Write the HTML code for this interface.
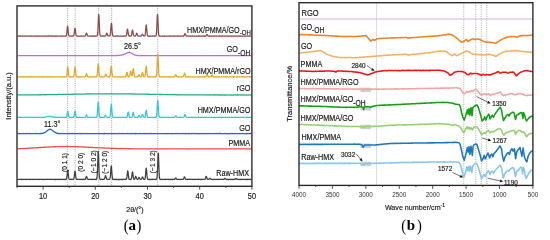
<!DOCTYPE html><html><head><meta charset="utf-8"><style>html,body{margin:0;padding:0;background:#fff;width:550px;height:240px;overflow:hidden}svg{display:block;will-change:transform}</style></head><body>
<svg width="550" height="240" viewBox="0 0 550 240" font-family='&quot;Liberation Sans&quot;, sans-serif'>
<rect width="550" height="240" fill="#fff"/>
<line x1="67.6" y1="5.9" x2="67.6" y2="186.3" stroke="#8c8c8c" stroke-width="0.75" stroke-dasharray="1,1.2"/>
<line x1="75.1" y1="5.9" x2="75.1" y2="186.3" stroke="#8c8c8c" stroke-width="0.75" stroke-dasharray="1,1.2"/>
<line x1="98.7" y1="5.9" x2="98.7" y2="186.3" stroke="#8c8c8c" stroke-width="0.75" stroke-dasharray="1,1.2"/>
<line x1="111.7" y1="5.9" x2="111.7" y2="186.3" stroke="#8c8c8c" stroke-width="0.75" stroke-dasharray="1,1.2"/>
<line x1="157.75" y1="5.9" x2="157.75" y2="186.3" stroke="#8c8c8c" stroke-width="0.75" stroke-dasharray="1,1.2"/>
<path d="M17.5 36.05 L17.75 36 L18 36.15 L18.25 35.97 L18.5 36.11 L18.75 36.06 L19 35.97 L19.25 36.1 L19.5 35.96 L19.75 36.08 L20 35.97 L20.25 35.98 L20.5 36.08 L20.75 36.2 L21 35.99 L21.25 36.02 L21.5 36.14 L21.75 36.23 L22 36.12 L22.25 36.07 L22.5 36.24 L22.75 35.96 L23 36.21 L23.25 36.04 L23.5 35.99 L23.75 35.99 L24 36.04 L24.25 36.19 L24.5 36 L24.75 36.12 L25 36.14 L25.25 36.06 L25.5 36.11 L25.75 35.97 L26 35.97 L26.25 36.01 L26.5 36.15 L26.75 36.08 L27 36.04 L27.25 36.13 L27.5 36.09 L27.75 36.04 L28 36.19 L28.25 36.16 L28.5 36.02 L28.75 36.12 L29 36.11 L29.25 36.21 L29.5 36.17 L29.75 36.04 L30 36.24 L30.25 35.99 L30.5 36.08 L30.75 36.18 L31 36 L31.25 36.1 L31.5 35.96 L31.75 36.15 L32 36.18 L32.25 36.12 L32.5 36.21 L32.75 36.04 L33 36.16 L33.25 36.13 L33.5 36.12 L33.75 36.09 L34 36.2 L34.25 36.23 L34.5 36.09 L34.75 36.15 L35 35.97 L35.25 36.16 L35.5 36.14 L35.75 36.25 L36 36.2 L36.25 36.04 L36.5 36.07 L36.75 36.15 L37 35.96 L37.25 36.09 L37.5 36 L37.75 35.99 L38 35.97 L38.25 36.18 L38.5 35.99 L38.75 36.02 L39 36.07 L39.25 36.21 L39.5 35.97 L39.75 36.08 L40 36.11 L40.25 36.22 L40.5 36.2 L40.75 36.21 L41 36.03 L41.25 36.07 L41.5 36.06 L41.75 36.22 L42 36.24 L42.25 36 L42.5 36 L42.75 36.02 L43 36.02 L43.25 36.1 L43.5 36.13 L43.75 36.03 L44 35.95 L44.25 36.08 L44.5 36.06 L44.75 36.12 L45 36.24 L45.25 36.16 L45.5 36.1 L45.75 36.14 L46 36.15 L46.25 35.97 L46.5 36.22 L46.75 36.18 L47 36.21 L47.25 36.19 L47.5 36.07 L47.75 36.07 L48 35.98 L48.25 36.14 L48.5 35.97 L48.75 35.97 L49 36.01 L49.25 36 L49.5 36.05 L49.75 35.97 L50 35.95 L50.25 36 L50.5 35.98 L50.75 36.06 L51 35.96 L51.25 36.21 L51.5 36.13 L51.75 35.99 L52 36.03 L52.25 36.05 L52.5 36.06 L52.75 35.99 L53 36.2 L53.25 36.25 L53.5 36.09 L53.75 36.1 L54 35.98 L54.25 35.98 L54.5 36.05 L54.75 36.03 L55 36.2 L55.25 36 L55.5 35.96 L55.75 36.24 L56 36.11 L56.25 35.99 L56.5 36.11 L56.75 35.96 L57 36.11 L57.25 36.24 L57.5 36.21 L57.75 36.16 L58 36.03 L58.25 36.06 L58.5 36 L58.75 36.18 L59 36.11 L59.25 36.18 L59.5 36.05 L59.75 36.02 L60 36.19 L60.25 36.25 L60.5 36.21 L60.75 36.19 L61 36.2 L61.25 36.17 L61.5 36.02 L61.75 36.11 L62 36.06 L62.25 35.96 L62.5 35.96 L62.75 36.03 L63 36.03 L63.25 36.16 L63.5 36.24 L63.75 36.08 L64 36.23 L64.25 36.25 L64.5 36.24 L64.75 36.06 L65 36.02 L65.25 36.02 L65.5 36.01 L65.75 35.99 L66 36.03 L66.25 35.83 L66.5 35.04 L66.75 33.33 L67 30.87 L67.25 28.15 L67.5 26.15 L67.75 26.54 L68 28.7 L68.25 31.47 L68.5 33.81 L68.75 35.14 L69 35.7 L69.25 36.11 L69.5 36.03 L69.75 36.19 L70 36.24 L70.25 36.07 L70.5 36.07 L70.75 36.23 L71 36.17 L71.25 36 L71.5 35.99 L71.75 36 L72 36.22 L72.25 36.19 L72.5 35.99 L72.75 36.2 L73 36.24 L73.25 36.11 L73.5 35.91 L73.75 35.62 L74 34.64 L74.25 33.01 L74.5 31.11 L74.75 28.99 L75 28.11 L75.25 29.07 L75.5 30.95 L75.75 33.27 L76 34.85 L76.25 35.52 L76.5 35.88 L76.75 36 L77 36.02 L77.25 36.12 L77.5 36.03 L77.75 36.08 L78 35.99 L78.25 36.22 L78.5 36.06 L78.75 36.09 L79 36.13 L79.25 36.22 L79.5 36.08 L79.75 36.23 L80 36.1 L80.25 36.11 L80.5 36.11 L80.75 35.96 L81 36.08 L81.25 36 L81.5 35.95 L81.75 36.19 L82 36 L82.25 36.09 L82.5 36.17 L82.75 36.12 L83 36.05 L83.25 36.11 L83.5 36.12 L83.75 36.19 L84 35.98 L84.25 36.12 L84.5 36.02 L84.75 36.02 L85 36.13 L85.25 35.92 L85.5 35.61 L85.75 35.07 L86 34.3 L86.25 33.4 L86.5 33.13 L86.75 33.42 L87 34.18 L87.25 35.05 L87.5 35.58 L87.75 35.92 L88 36.04 L88.25 36.22 L88.5 36.16 L88.75 36.21 L89 36.23 L89.25 36.03 L89.5 36.12 L89.75 36.23 L90 36.2 L90.25 35.99 L90.5 35.99 L90.75 36.08 L91 35.97 L91.25 36.02 L91.5 35.97 L91.75 36.15 L92 36.19 L92.25 36.22 L92.5 36 L92.75 36.16 L93 36.15 L93.25 35.99 L93.5 36.21 L93.75 36.24 L94 36.02 L94.25 36.24 L94.5 36.07 L94.75 36.1 L95 36.25 L95.25 36.2 L95.5 36 L95.75 36.08 L96 36.1 L96.25 36.05 L96.5 36.01 L96.75 36.03 L97 36.07 L97.25 35.56 L97.5 34.76 L97.75 32.41 L98 27.95 L98.25 22.1 L98.5 16.67 L98.75 14.35 L99 16.51 L99.25 22.3 L99.5 28.19 L99.75 32.57 L100 34.63 L100.25 35.63 L100.5 35.87 L100.75 36.17 L101 36.03 L101.25 35.99 L101.5 36.08 L101.75 36.22 L102 36.2 L102.25 36.03 L102.5 35.99 L102.75 36.23 L103 36.12 L103.25 36.16 L103.5 35.98 L103.75 35.97 L104 36.16 L104.25 36.08 L104.5 35.97 L104.75 36.23 L105 36.13 L105.25 36.14 L105.5 35.79 L105.75 35.7 L106 34.87 L106.25 34.29 L106.5 33.4 L106.75 33.05 L107 33.43 L107.25 34.3 L107.5 34.93 L107.75 35.48 L108 35.92 L108.25 35.97 L108.5 35.97 L108.75 36 L109 35.96 L109.25 36.01 L109.5 36.02 L109.75 35.94 L110 35.78 L110.25 34.81 L110.5 33.04 L110.75 29.92 L111 26.35 L111.25 23.56 L111.5 23.35 L111.75 25.58 L112 29.37 L112.25 32.54 L112.5 34.51 L112.75 35.59 L113 36.09 L113.25 35.95 L113.5 36.19 L113.75 36.08 L114 36.1 L114.25 36.2 L114.5 36.07 L114.75 36.1 L115 36.16 L115.25 36.24 L115.5 36.05 L115.75 36.2 L116 36.16 L116.25 36.14 L116.5 36.07 L116.75 36.05 L117 35.97 L117.25 35.99 L117.5 35.97 L117.75 36.17 L118 36.03 L118.25 36 L118.5 35.98 L118.75 36.2 L119 36.21 L119.25 36.15 L119.5 36.03 L119.75 36.02 L120 36.04 L120.25 36.09 L120.5 36 L120.75 36.08 L121 36.03 L121.25 36.24 L121.5 36.24 L121.75 36.11 L122 36.02 L122.25 36.24 L122.5 36.04 L122.75 36.06 L123 35.95 L123.25 36.06 L123.5 36.09 L123.75 36.1 L124 36.01 L124.25 36.1 L124.5 35.95 L124.75 36.03 L125 35.98 L125.25 36.07 L125.5 35.96 L125.75 35.93 L126 35.91 L126.25 35.58 L126.5 34.94 L126.75 33.53 L127 31.69 L127.25 29.88 L127.5 29.16 L127.75 29.95 L128 31.58 L128.25 33.47 L128.5 35.06 L128.75 35.56 L129 36.04 L129.25 36.11 L129.5 35.96 L129.75 36.2 L130 36.22 L130.25 36.14 L130.5 36.17 L130.75 36.17 L131 35.88 L131.25 35.72 L131.5 35.04 L131.75 33.9 L132 32.18 L132.25 30.61 L132.5 29.88 L132.75 30.63 L133 32.15 L133.25 33.86 L133.5 34.96 L133.75 35.57 L134 35.88 L134.25 36.03 L134.5 35.98 L134.75 36.2 L135 36.1 L135.25 36.08 L135.5 35.95 L135.75 35.65 L136 34.99 L136.25 34.03 L136.5 33.5 L136.75 33.17 L137 33.42 L137.25 34.19 L137.5 35.04 L137.75 35.46 L138 35.98 L138.25 35.97 L138.5 35.96 L138.75 36.03 L139 36.17 L139.25 36.01 L139.5 36.17 L139.75 36.24 L140 36.1 L140.25 36.06 L140.5 36.09 L140.75 36.15 L141 36.14 L141.25 36.01 L141.5 35.8 L141.75 35.24 L142 34.71 L142.25 34.24 L142.5 34.17 L142.75 34.25 L143 34.84 L143.25 35.22 L143.5 35.63 L143.75 35.91 L144 36.11 L144.25 36.14 L144.5 36.1 L144.75 35.83 L145 35.41 L145.25 34.19 L145.5 31.95 L145.75 28.77 L146 26.15 L146.25 24.76 L146.5 26.18 L146.75 29.02 L147 31.82 L147.25 34.19 L147.5 35.5 L147.75 36.03 L148 36.04 L148.25 36.02 L148.5 36.01 L148.75 36.23 L149 36.01 L149.25 36.12 L149.5 35.99 L149.75 36.11 L150 36.24 L150.25 35.99 L150.5 36.2 L150.75 36.1 L151 36.22 L151.25 36.16 L151.5 36.02 L151.75 36.22 L152 36.1 L152.25 35.96 L152.5 35.95 L152.75 36.1 L153 36.09 L153.25 36.04 L153.5 35.99 L153.75 36.05 L154 36.04 L154.25 36.2 L154.5 35.95 L154.75 36.18 L155 36.2 L155.25 35.98 L155.5 36.21 L155.75 36.07 L156 35.82 L156.25 34.68 L156.5 32.39 L156.75 28.07 L157 22.3 L157.25 16.66 L157.5 14.31 L157.75 16.62 L158 22.09 L158.25 27.96 L158.5 32.3 L158.75 34.85 L159 35.64 L159.25 36.14 L159.5 36.01 L159.75 36.03 L160 36.1 L160.25 36.01 L160.5 36.06 L160.75 36.24 L161 36.22 L161.25 36.19 L161.5 36.14 L161.75 36.22 L162 36.23 L162.25 36.11 L162.5 36.17 L162.75 35.96 L163 36.17 L163.25 36.09 L163.5 36.18 L163.75 36.14 L164 36.04 L164.25 35.96 L164.5 36.23 L164.75 35.99 L165 36.09 L165.25 36.05 L165.5 36.04 L165.75 36.17 L166 36.24 L166.25 36.03 L166.5 36.15 L166.75 36.04 L167 36.12 L167.25 36.07 L167.5 36 L167.75 36 L168 36.01 L168.25 36.22 L168.5 36.1 L168.75 36.02 L169 36.22 L169.25 36.25 L169.5 36.08 L169.75 35.99 L170 36.01 L170.25 35.98 L170.5 36.05 L170.75 35.98 L171 36.02 L171.25 36.03 L171.5 36.12 L171.75 36.22 L172 36.17 L172.25 36.07 L172.5 36.07 L172.75 36.11 L173 36.06 L173.25 36.05 L173.5 35.97 L173.75 36.03 L174 36.24 L174.25 35.99 L174.5 36.1 L174.75 36.14 L175 36.21 L175.25 36.01 L175.5 36.03 L175.75 36.02 L176 36.07 L176.25 36.08 L176.5 36.24 L176.75 36.2 L177 36.21 L177.25 35.96 L177.5 35.96 L177.75 36.16 L178 36.22 L178.25 36.09 L178.5 36.13 L178.75 35.95 L179 36.07 L179.25 36.23 L179.5 36.2 L179.75 36.21 L180 36.24 L180.25 36.02 L180.5 35.98 L180.75 36 L181 36.11 L181.25 36.15 L181.5 36.23 L181.75 36.17 L182 36.14 L182.25 36.18 L182.5 36.09 L182.75 36.12 L183 35.96 L183.25 36.17 L183.5 35.97 L183.75 36.07 L184 35.72 L184.25 35.12 L184.5 34.39 L184.75 33.79 L185 33.64 L185.25 33.92 L185.5 34.38 L185.75 35.05 L186 35.68 L186.25 35.97 L186.5 36.02 L186.75 36.01 L187 36.13 L187.25 35.95 L187.5 36.04 L187.75 36.09 L188 36.24 L188.25 36.14 L188.5 36.22 L188.75 36.09 L189 36.02 L189.25 36.02 L189.5 36.24 L189.75 36.16 L190 36.04 L190.25 35.96 L190.5 36.1 L190.75 36.15 L191 36.08 L191.25 36.03 L191.5 36.15 L191.75 36.23 L192 36.02 L192.25 35.96 L192.5 36.05 L192.75 36.08 L193 36.15 L193.25 36.01 L193.5 36.19 L193.75 36.17 L194 36.1 L194.25 36.01 L194.5 36.24 L194.75 36.04 L195 36.2 L195.25 36.02 L195.5 36.02 L195.75 36.18 L196 36.04 L196.25 36.24 L196.5 36.1 L196.75 36.01 L197 36.02 L197.25 36.08 L197.5 36.15 L197.75 36.23 L198 35.99 L198.25 36.07 L198.5 36.01 L198.75 36.24 L199 35.99 L199.25 35.97 L199.5 35.97 L199.75 36.07 L200 36.22 L200.25 36.22 L200.5 36.17 L200.75 36.25 L201 36.23 L201.25 36.05 L201.5 36.01 L201.75 36.23 L202 36.17 L202.25 35.96 L202.5 36.15 L202.75 36.06 L203 36.06 L203.25 36.05 L203.5 36 L203.75 35.95 L204 36.03 L204.25 36.06 L204.5 36.24 L204.75 35.99 L205 36.24 L205.25 36.01 L205.5 36.03 L205.75 36.1 L206 35.94 L206.25 35.53 L206.5 35 L206.75 34.75 L207 34.56 L207.25 34.88 L207.5 35.05 L207.75 35.51 L208 35.97 L208.25 35.87 L208.5 36.05 L208.75 36.19 L209 36.18 L209.25 35.96 L209.5 35.96 L209.75 35.97 L210 36.23 L210.25 36.03 L210.5 36.17 L210.75 36.22 L211 36.05 L211.25 36.03 L211.5 36.24 L211.75 36.14 L212 36.03 L212.25 36.16 L212.5 36.04 L212.75 36.03 L213 35.95 L213.25 36.18 L213.5 36.22 L213.75 36.14 L214 36.23 L214.25 35.96 L214.5 36.02 L214.75 36.09 L215 36.24 L215.25 36.24 L215.5 36.07 L215.75 36.03 L216 36.08 L216.25 36.1 L216.5 36.23 L216.75 36 L217 36.19 L217.25 36.17 L217.5 36.2 L217.75 36.18 L218 36.13 L218.25 36.05 L218.5 36.05 L218.75 36.06 L219 36.18 L219.25 35.97 L219.5 36.01 L219.75 36.18 L220 36.02 L220.25 35.97 L220.5 35.96 L220.75 36.12 L221 36.05 L221.25 36.24 L221.5 36.22 L221.75 36.25 L222 36.03 L222.25 35.98 L222.5 35.98 L222.75 36.1 L223 36.16 L223.25 36.08 L223.5 36.02 L223.75 36.08 L224 36.14 L224.25 36.15 L224.5 36.17 L224.75 36.2 L225 36.15 L225.25 35.99 L225.5 36.2 L225.75 36.04 L226 36.12 L226.25 36.06 L226.5 36.17 L226.75 36.01 L227 36.02 L227.25 36.02 L227.5 36 L227.75 36.22 L228 36.12 L228.25 36.05 L228.5 36.07 L228.75 36.25 L229 36.1 L229.25 36.02 L229.5 36.19 L229.75 36.15 L230 36.25 L230.25 35.98 L230.5 36.09 L230.75 36.2 L231 36.2 L231.25 36.22 L231.5 35.96 L231.75 36.04 L232 35.99 L232.25 36.01 L232.5 36.24 L232.75 36.12 L233 36.23 L233.25 36.06 L233.5 36.21 L233.75 36.08 L234 36.03 L234.25 36.18 L234.5 36.23 L234.75 35.98 L235 36.13 L235.25 36.14 L235.5 36.02 L235.75 36.06 L236 35.99 L236.25 36.01 L236.5 36.03 L236.75 36.13 L237 36.15 L237.25 36.01 L237.5 35.95 L237.75 36.05 L238 36.15 L238.25 36.01 L238.5 36.04 L238.75 36.01 L239 36.19 L239.25 36.11 L239.5 35.97 L239.75 35.98 L240 36.07 L240.25 36.12 L240.5 36.14 L240.75 35.98 L241 36 L241.25 36.16 L241.5 36.07 L241.75 36.03 L242 36.04 L242.25 36.24 L242.5 36.04 L242.75 36.12 L243 36.06 L243.25 36.07 L243.5 36.21 L243.75 36.25 L244 36.06 L244.25 36.01 L244.5 36.17 L244.75 36.01 L245 35.95 L245.25 36.22 L245.5 36.08 L245.75 36.2 L246 36.07 L246.25 36.21 L246.5 36.09 L246.75 36 L247 35.95 L247.25 36.12 L247.5 36.14 L247.75 36.22 L248 35.98 L248.25 36.14 L248.5 36.06 L248.75 36.1 L249 35.99 L249.25 36.03 L249.5 36.11 L249.75 36.23 L250 35.98 L250.25 36.1 L250.5 36.19 L250.75 36.24 L251 36.01 L251.25 35.99" fill="none" stroke="#8e4a4a" stroke-width="1.25" stroke-linejoin="round"/>
<path d="M17.5 55.69 L17.75 55.7 L18 55.6 L18.25 55.51 L18.5 55.69 L18.75 55.58 L19 55.68 L19.25 55.62 L19.5 55.66 L19.75 55.53 L20 55.66 L20.25 55.54 L20.5 55.58 L20.75 55.67 L21 55.67 L21.25 55.54 L21.5 55.54 L21.75 55.58 L22 55.6 L22.25 55.58 L22.5 55.52 L22.75 55.55 L23 55.64 L23.25 55.68 L23.5 55.51 L23.75 55.61 L24 55.65 L24.25 55.51 L24.5 55.67 L24.75 55.52 L25 55.62 L25.25 55.61 L25.5 55.63 L25.75 55.56 L26 55.58 L26.25 55.62 L26.5 55.59 L26.75 55.63 L27 55.59 L27.25 55.59 L27.5 55.5 L27.75 55.62 L28 55.6 L28.25 55.55 L28.5 55.65 L28.75 55.66 L29 55.59 L29.25 55.54 L29.5 55.59 L29.75 55.52 L30 55.53 L30.25 55.59 L30.5 55.52 L30.75 55.59 L31 55.6 L31.25 55.51 L31.5 55.63 L31.75 55.52 L32 55.65 L32.25 55.66 L32.5 55.6 L32.75 55.51 L33 55.6 L33.25 55.58 L33.5 55.69 L33.75 55.53 L34 55.67 L34.25 55.7 L34.5 55.65 L34.75 55.66 L35 55.54 L35.25 55.7 L35.5 55.6 L35.75 55.69 L36 55.68 L36.25 55.53 L36.5 55.66 L36.75 55.69 L37 55.51 L37.25 55.57 L37.5 55.65 L37.75 55.53 L38 55.68 L38.25 55.55 L38.5 55.66 L38.75 55.53 L39 55.6 L39.25 55.68 L39.5 55.54 L39.75 55.55 L40 55.6 L40.25 55.56 L40.5 55.51 L40.75 55.54 L41 55.53 L41.25 55.69 L41.5 55.64 L41.75 55.68 L42 55.53 L42.25 55.66 L42.5 55.52 L42.75 55.61 L43 55.63 L43.25 55.57 L43.5 55.67 L43.75 55.61 L44 55.62 L44.25 55.68 L44.5 55.52 L44.75 55.7 L45 55.63 L45.25 55.58 L45.5 55.66 L45.75 55.55 L46 55.7 L46.25 55.62 L46.5 55.57 L46.75 55.65 L47 55.59 L47.25 55.54 L47.5 55.65 L47.75 55.51 L48 55.66 L48.25 55.55 L48.5 55.63 L48.75 55.7 L49 55.62 L49.25 55.63 L49.5 55.56 L49.75 55.5 L50 55.51 L50.25 55.53 L50.5 55.62 L50.75 55.59 L51 55.6 L51.25 55.68 L51.5 55.53 L51.75 55.55 L52 55.63 L52.25 55.5 L52.5 55.5 L52.75 55.57 L53 55.52 L53.25 55.57 L53.5 55.54 L53.75 55.62 L54 55.62 L54.25 55.54 L54.5 55.62 L54.75 55.59 L55 55.53 L55.25 55.69 L55.5 55.55 L55.75 55.53 L56 55.52 L56.25 55.63 L56.5 55.67 L56.75 55.66 L57 55.58 L57.25 55.55 L57.5 55.5 L57.75 55.63 L58 55.61 L58.25 55.57 L58.5 55.63 L58.75 55.59 L59 55.69 L59.25 55.65 L59.5 55.55 L59.75 55.68 L60 55.51 L60.25 55.61 L60.5 55.58 L60.75 55.55 L61 55.51 L61.25 55.66 L61.5 55.5 L61.75 55.61 L62 55.69 L62.25 55.53 L62.5 55.54 L62.75 55.62 L63 55.6 L63.25 55.63 L63.5 55.66 L63.75 55.53 L64 55.56 L64.25 55.56 L64.5 55.51 L64.75 55.68 L65 55.66 L65.25 55.64 L65.5 55.5 L65.75 55.67 L66 55.65 L66.25 55.59 L66.5 55.65 L66.75 55.59 L67 55.55 L67.25 55.52 L67.5 55.55 L67.75 55.51 L68 55.57 L68.25 55.65 L68.5 55.64 L68.75 55.67 L69 55.64 L69.25 55.55 L69.5 55.61 L69.75 55.59 L70 55.66 L70.25 55.6 L70.5 55.55 L70.75 55.63 L71 55.69 L71.25 55.54 L71.5 55.68 L71.75 55.5 L72 55.55 L72.25 55.55 L72.5 55.65 L72.75 55.69 L73 55.65 L73.25 55.57 L73.5 55.68 L73.75 55.57 L74 55.55 L74.25 55.68 L74.5 55.63 L74.75 55.64 L75 55.63 L75.25 55.7 L75.5 55.59 L75.75 55.67 L76 55.64 L76.25 55.67 L76.5 55.59 L76.75 55.64 L77 55.61 L77.25 55.56 L77.5 55.54 L77.75 55.62 L78 55.52 L78.25 55.68 L78.5 55.53 L78.75 55.51 L79 55.52 L79.25 55.69 L79.5 55.57 L79.75 55.53 L80 55.51 L80.25 55.51 L80.5 55.64 L80.75 55.63 L81 55.64 L81.25 55.65 L81.5 55.51 L81.75 55.62 L82 55.57 L82.25 55.66 L82.5 55.66 L82.75 55.68 L83 55.51 L83.25 55.67 L83.5 55.68 L83.75 55.69 L84 55.52 L84.25 55.54 L84.5 55.52 L84.75 55.51 L85 55.67 L85.25 55.66 L85.5 55.63 L85.75 55.67 L86 55.63 L86.25 55.56 L86.5 55.52 L86.75 55.52 L87 55.65 L87.25 55.54 L87.5 55.56 L87.75 55.58 L88 55.5 L88.25 55.55 L88.5 55.56 L88.75 55.64 L89 55.57 L89.25 55.56 L89.5 55.69 L89.75 55.6 L90 55.67 L90.25 55.62 L90.5 55.51 L90.75 55.58 L91 55.59 L91.25 55.65 L91.5 55.57 L91.75 55.64 L92 55.61 L92.25 55.54 L92.5 55.67 L92.75 55.52 L93 55.66 L93.25 55.53 L93.5 55.5 L93.75 55.54 L94 55.65 L94.25 55.7 L94.5 55.5 L94.75 55.6 L95 55.6 L95.25 55.66 L95.5 55.54 L95.75 55.6 L96 55.57 L96.25 55.67 L96.5 55.55 L96.75 55.69 L97 55.56 L97.25 55.54 L97.5 55.64 L97.75 55.6 L98 55.52 L98.25 55.63 L98.5 55.52 L98.75 55.66 L99 55.64 L99.25 55.66 L99.5 55.63 L99.75 55.57 L100 55.58 L100.25 55.58 L100.5 55.68 L100.75 55.52 L101 55.68 L101.25 55.51 L101.5 55.54 L101.75 55.55 L102 55.68 L102.25 55.6 L102.5 55.58 L102.75 55.68 L103 55.55 L103.25 55.59 L103.5 55.61 L103.75 55.65 L104 55.65 L104.25 55.63 L104.5 55.57 L104.75 55.57 L105 55.53 L105.25 55.67 L105.5 55.63 L105.75 55.65 L106 55.53 L106.25 55.59 L106.5 55.65 L106.75 55.62 L107 55.53 L107.25 55.59 L107.5 55.68 L107.75 55.55 L108 55.54 L108.25 55.56 L108.5 55.64 L108.75 55.67 L109 55.53 L109.25 55.53 L109.5 55.55 L109.75 55.56 L110 55.6 L110.25 55.53 L110.5 55.56 L110.75 55.54 L111 55.69 L111.25 55.64 L111.5 55.52 L111.75 55.69 L112 55.52 L112.25 55.57 L112.5 55.69 L112.75 55.65 L113 55.64 L113.25 55.58 L113.5 55.53 L113.75 55.62 L114 55.51 L114.25 55.53 L114.5 55.56 L114.75 55.49 L115 55.56 L115.25 55.63 L115.5 55.61 L115.75 55.56 L116 55.58 L116.25 55.54 L116.5 55.47 L116.75 55.56 L117 55.51 L117.25 55.56 L117.5 55.59 L117.75 55.48 L118 55.49 L118.25 55.51 L118.5 55.43 L118.75 55.37 L119 55.45 L119.25 55.46 L119.5 55.41 L119.75 55.37 L120 55.38 L120.25 55.31 L120.5 55.27 L120.75 55.2 L121 55.13 L121.25 55.15 L121.5 55 L121.75 55.02 L122 55.04 L122.25 54.97 L122.5 54.89 L122.75 54.75 L123 54.71 L123.25 54.64 L123.5 54.59 L123.75 54.46 L124 54.42 L124.25 54.37 L124.5 54.12 L124.75 54.1 L125 54.01 L125.25 53.81 L125.5 53.71 L125.75 53.68 L126 53.37 L126.25 53.34 L126.5 53.14 L126.75 53.15 L127 53.06 L127.25 52.87 L127.5 52.69 L127.75 52.7 L128 52.62 L128.25 52.59 L128.5 52.5 L128.75 52.5 L129 52.53 L129.25 52.48 L129.5 52.48 L129.75 52.64 L130 52.55 L130.25 52.72 L130.5 52.76 L130.75 52.94 L131 52.94 L131.25 53.24 L131.5 53.25 L131.75 53.34 L132 53.53 L132.25 53.71 L132.5 53.78 L132.75 54.01 L133 54.15 L133.25 54.35 L133.5 54.41 L133.75 54.52 L134 54.63 L134.25 54.85 L134.5 54.99 L134.75 55 L135 55.02 L135.25 55.21 L135.5 55.19 L135.75 55.21 L136 55.25 L136.25 55.42 L136.5 55.47 L136.75 55.47 L137 55.46 L137.25 55.5 L137.5 55.46 L137.75 55.62 L138 55.51 L138.25 55.58 L138.5 55.63 L138.75 55.63 L139 55.57 L139.25 55.54 L139.5 55.59 L139.75 55.51 L140 55.66 L140.25 55.56 L140.5 55.66 L140.75 55.55 L141 55.57 L141.25 55.55 L141.5 55.58 L141.75 55.54 L142 55.5 L142.25 55.64 L142.5 55.56 L142.75 55.55 L143 55.56 L143.25 55.6 L143.5 55.59 L143.75 55.63 L144 55.63 L144.25 55.57 L144.5 55.69 L144.75 55.67 L145 55.51 L145.25 55.67 L145.5 55.68 L145.75 55.66 L146 55.53 L146.25 55.67 L146.5 55.63 L146.75 55.5 L147 55.5 L147.25 55.69 L147.5 55.63 L147.75 55.55 L148 55.52 L148.25 55.53 L148.5 55.55 L148.75 55.66 L149 55.57 L149.25 55.53 L149.5 55.68 L149.75 55.66 L150 55.53 L150.25 55.68 L150.5 55.62 L150.75 55.66 L151 55.63 L151.25 55.68 L151.5 55.66 L151.75 55.67 L152 55.54 L152.25 55.64 L152.5 55.61 L152.75 55.65 L153 55.59 L153.25 55.68 L153.5 55.61 L153.75 55.55 L154 55.55 L154.25 55.53 L154.5 55.6 L154.75 55.51 L155 55.59 L155.25 55.53 L155.5 55.6 L155.75 55.6 L156 55.61 L156.25 55.67 L156.5 55.5 L156.75 55.67 L157 55.59 L157.25 55.61 L157.5 55.63 L157.75 55.67 L158 55.57 L158.25 55.58 L158.5 55.69 L158.75 55.52 L159 55.63 L159.25 55.63 L159.5 55.51 L159.75 55.62 L160 55.64 L160.25 55.69 L160.5 55.57 L160.75 55.7 L161 55.6 L161.25 55.6 L161.5 55.68 L161.75 55.51 L162 55.64 L162.25 55.63 L162.5 55.57 L162.75 55.67 L163 55.57 L163.25 55.59 L163.5 55.61 L163.75 55.65 L164 55.54 L164.25 55.59 L164.5 55.58 L164.75 55.61 L165 55.67 L165.25 55.56 L165.5 55.67 L165.75 55.58 L166 55.6 L166.25 55.55 L166.5 55.6 L166.75 55.69 L167 55.63 L167.25 55.66 L167.5 55.57 L167.75 55.56 L168 55.56 L168.25 55.62 L168.5 55.63 L168.75 55.66 L169 55.51 L169.25 55.64 L169.5 55.68 L169.75 55.61 L170 55.51 L170.25 55.56 L170.5 55.5 L170.75 55.54 L171 55.68 L171.25 55.62 L171.5 55.63 L171.75 55.66 L172 55.68 L172.25 55.62 L172.5 55.62 L172.75 55.63 L173 55.64 L173.25 55.62 L173.5 55.64 L173.75 55.54 L174 55.63 L174.25 55.59 L174.5 55.65 L174.75 55.52 L175 55.54 L175.25 55.51 L175.5 55.65 L175.75 55.68 L176 55.63 L176.25 55.57 L176.5 55.66 L176.75 55.66 L177 55.61 L177.25 55.55 L177.5 55.56 L177.75 55.58 L178 55.56 L178.25 55.59 L178.5 55.63 L178.75 55.69 L179 55.51 L179.25 55.61 L179.5 55.51 L179.75 55.52 L180 55.66 L180.25 55.62 L180.5 55.68 L180.75 55.59 L181 55.5 L181.25 55.58 L181.5 55.62 L181.75 55.69 L182 55.7 L182.25 55.6 L182.5 55.58 L182.75 55.52 L183 55.63 L183.25 55.54 L183.5 55.53 L183.75 55.5 L184 55.5 L184.25 55.64 L184.5 55.52 L184.75 55.69 L185 55.52 L185.25 55.67 L185.5 55.53 L185.75 55.5 L186 55.64 L186.25 55.55 L186.5 55.65 L186.75 55.54 L187 55.51 L187.25 55.65 L187.5 55.64 L187.75 55.67 L188 55.65 L188.25 55.52 L188.5 55.63 L188.75 55.64 L189 55.59 L189.25 55.69 L189.5 55.55 L189.75 55.69 L190 55.64 L190.25 55.5 L190.5 55.5 L190.75 55.63 L191 55.66 L191.25 55.52 L191.5 55.56 L191.75 55.65 L192 55.53 L192.25 55.67 L192.5 55.6 L192.75 55.51 L193 55.57 L193.25 55.61 L193.5 55.59 L193.75 55.64 L194 55.53 L194.25 55.66 L194.5 55.57 L194.75 55.63 L195 55.63 L195.25 55.58 L195.5 55.58 L195.75 55.66 L196 55.69 L196.25 55.66 L196.5 55.61 L196.75 55.56 L197 55.51 L197.25 55.69 L197.5 55.64 L197.75 55.67 L198 55.57 L198.25 55.62 L198.5 55.7 L198.75 55.67 L199 55.62 L199.25 55.56 L199.5 55.59 L199.75 55.68 L200 55.58 L200.25 55.64 L200.5 55.62 L200.75 55.68 L201 55.66 L201.25 55.56 L201.5 55.5 L201.75 55.55 L202 55.58 L202.25 55.62 L202.5 55.66 L202.75 55.68 L203 55.51 L203.25 55.67 L203.5 55.66 L203.75 55.67 L204 55.61 L204.25 55.55 L204.5 55.67 L204.75 55.66 L205 55.64 L205.25 55.68 L205.5 55.57 L205.75 55.52 L206 55.61 L206.25 55.66 L206.5 55.54 L206.75 55.65 L207 55.69 L207.25 55.55 L207.5 55.62 L207.75 55.64 L208 55.59 L208.25 55.54 L208.5 55.55 L208.75 55.65 L209 55.66 L209.25 55.59 L209.5 55.52 L209.75 55.66 L210 55.65 L210.25 55.55 L210.5 55.62 L210.75 55.68 L211 55.68 L211.25 55.6 L211.5 55.6 L211.75 55.62 L212 55.54 L212.25 55.54 L212.5 55.54 L212.75 55.64 L213 55.57 L213.25 55.61 L213.5 55.58 L213.75 55.6 L214 55.53 L214.25 55.51 L214.5 55.7 L214.75 55.57 L215 55.52 L215.25 55.63 L215.5 55.66 L215.75 55.53 L216 55.62 L216.25 55.57 L216.5 55.6 L216.75 55.5 L217 55.51 L217.25 55.7 L217.5 55.67 L217.75 55.6 L218 55.61 L218.25 55.55 L218.5 55.66 L218.75 55.59 L219 55.69 L219.25 55.65 L219.5 55.66 L219.75 55.69 L220 55.55 L220.25 55.51 L220.5 55.54 L220.75 55.54 L221 55.52 L221.25 55.51 L221.5 55.61 L221.75 55.67 L222 55.59 L222.25 55.69 L222.5 55.68 L222.75 55.51 L223 55.62 L223.25 55.58 L223.5 55.52 L223.75 55.69 L224 55.55 L224.25 55.61 L224.5 55.63 L224.75 55.69 L225 55.63 L225.25 55.58 L225.5 55.59 L225.75 55.53 L226 55.69 L226.25 55.7 L226.5 55.54 L226.75 55.51 L227 55.55 L227.25 55.57 L227.5 55.68 L227.75 55.68 L228 55.67 L228.25 55.51 L228.5 55.66 L228.75 55.64 L229 55.63 L229.25 55.7 L229.5 55.51 L229.75 55.53 L230 55.65 L230.25 55.69 L230.5 55.64 L230.75 55.56 L231 55.62 L231.25 55.65 L231.5 55.52 L231.75 55.56 L232 55.55 L232.25 55.52 L232.5 55.6 L232.75 55.53 L233 55.55 L233.25 55.53 L233.5 55.64 L233.75 55.5 L234 55.64 L234.25 55.54 L234.5 55.51 L234.75 55.69 L235 55.54 L235.25 55.69 L235.5 55.67 L235.75 55.68 L236 55.53 L236.25 55.59 L236.5 55.52 L236.75 55.69 L237 55.67 L237.25 55.63 L237.5 55.59 L237.75 55.57 L238 55.66 L238.25 55.6 L238.5 55.63 L238.75 55.53 L239 55.54 L239.25 55.51 L239.5 55.64 L239.75 55.61 L240 55.53 L240.25 55.67 L240.5 55.55 L240.75 55.58 L241 55.53 L241.25 55.55 L241.5 55.67 L241.75 55.57 L242 55.53 L242.25 55.6 L242.5 55.56 L242.75 55.68 L243 55.52 L243.25 55.7 L243.5 55.51 L243.75 55.68 L244 55.63 L244.25 55.54 L244.5 55.6 L244.75 55.56 L245 55.55 L245.25 55.54 L245.5 55.57 L245.75 55.7 L246 55.7 L246.25 55.69 L246.5 55.52 L246.75 55.56 L247 55.68 L247.25 55.51 L247.5 55.65 L247.75 55.56 L248 55.7 L248.25 55.5 L248.5 55.66 L248.75 55.57 L249 55.53 L249.25 55.5 L249.5 55.67 L249.75 55.61 L250 55.54 L250.25 55.59 L250.5 55.68 L250.75 55.54 L251 55.61 L251.25 55.53" fill="none" stroke="#c267ee" stroke-width="1.25" stroke-linejoin="round"/>
<path d="M17.5 76.8 L17.75 76.98 L18 76.96 L18.25 76.81 L18.5 76.77 L18.75 76.78 L19 76.93 L19.25 76.9 L19.5 76.83 L19.75 76.81 L20 76.93 L20.25 76.96 L20.5 76.99 L20.75 76.92 L21 76.81 L21.25 76.77 L21.5 76.97 L21.75 76.87 L22 76.97 L22.25 76.77 L22.5 76.99 L22.75 76.85 L23 77 L23.25 77.01 L23.5 76.9 L23.75 76.75 L24 77.02 L24.25 76.89 L24.5 77.01 L24.75 76.83 L25 76.81 L25.25 77 L25.5 76.86 L25.75 76.8 L26 76.86 L26.25 76.93 L26.5 76.75 L26.75 76.91 L27 76.88 L27.25 76.9 L27.5 76.79 L27.75 76.96 L28 76.99 L28.25 77.01 L28.5 76.85 L28.75 76.96 L29 76.86 L29.25 76.98 L29.5 76.77 L29.75 77.01 L30 77.04 L30.25 76.9 L30.5 76.9 L30.75 76.91 L31 76.91 L31.25 76.76 L31.5 77.04 L31.75 76.82 L32 76.8 L32.25 76.78 L32.5 76.83 L32.75 77 L33 76.76 L33.25 76.78 L33.5 76.96 L33.75 76.81 L34 76.76 L34.25 76.93 L34.5 76.92 L34.75 76.91 L35 76.96 L35.25 76.78 L35.5 77.01 L35.75 76.97 L36 76.76 L36.25 76.79 L36.5 76.9 L36.75 76.9 L37 76.83 L37.25 76.79 L37.5 76.87 L37.75 76.79 L38 76.93 L38.25 77.01 L38.5 76.79 L38.75 76.92 L39 76.97 L39.25 76.8 L39.5 77 L39.75 77.03 L40 76.87 L40.25 76.88 L40.5 77 L40.75 76.91 L41 76.87 L41.25 77.03 L41.5 76.98 L41.75 76.85 L42 76.82 L42.25 76.85 L42.5 76.88 L42.75 77.04 L43 76.99 L43.25 77.02 L43.5 76.99 L43.75 77 L44 76.77 L44.25 76.91 L44.5 77.04 L44.75 77.03 L45 76.82 L45.25 76.88 L45.5 76.94 L45.75 76.86 L46 76.91 L46.25 76.77 L46.5 76.88 L46.75 76.9 L47 76.76 L47.25 76.79 L47.5 77.04 L47.75 76.98 L48 77.03 L48.25 76.94 L48.5 76.99 L48.75 77.02 L49 77.02 L49.25 76.76 L49.5 76.94 L49.75 76.83 L50 76.95 L50.25 76.83 L50.5 76.91 L50.75 77.03 L51 76.94 L51.25 76.83 L51.5 76.91 L51.75 76.88 L52 77.04 L52.25 76.84 L52.5 76.84 L52.75 76.94 L53 76.79 L53.25 76.93 L53.5 77.04 L53.75 76.9 L54 76.83 L54.25 76.89 L54.5 76.91 L54.75 76.79 L55 76.79 L55.25 76.79 L55.5 76.84 L55.75 76.87 L56 76.84 L56.25 76.82 L56.5 76.78 L56.75 76.91 L57 77 L57.25 76.93 L57.5 76.92 L57.75 76.95 L58 76.81 L58.25 76.96 L58.5 76.89 L58.75 76.91 L59 76.93 L59.25 76.89 L59.5 76.84 L59.75 76.82 L60 76.82 L60.25 76.9 L60.5 76.86 L60.75 76.93 L61 76.75 L61.25 76.86 L61.5 77.01 L61.75 76.82 L62 76.92 L62.25 76.9 L62.5 76.84 L62.75 77.05 L63 76.84 L63.25 76.98 L63.5 76.8 L63.75 76.77 L64 77.01 L64.25 76.88 L64.5 76.77 L64.75 76.87 L65 76.88 L65.25 76.97 L65.5 76.78 L65.75 76.81 L66 76.99 L66.25 76.79 L66.5 76.17 L66.75 75.16 L67 73.18 L67.25 70.54 L67.5 67.99 L67.75 67 L68 68.05 L68.25 70.49 L68.5 73.29 L68.75 75.28 L69 76.36 L69.25 76.71 L69.5 76.94 L69.75 76.95 L70 77.02 L70.25 76.79 L70.5 77.01 L70.75 76.75 L71 76.98 L71.25 76.93 L71.5 76.9 L71.75 77.04 L72 76.92 L72.25 76.88 L72.5 76.98 L72.75 77.01 L73 76.92 L73.25 76.82 L73.5 76.7 L73.75 76.27 L74 75.28 L74.25 73.16 L74.5 70.46 L74.75 67.97 L75 66.87 L75.25 67.9 L75.5 70.57 L75.75 73.33 L76 75.21 L76.25 76.26 L76.5 76.62 L76.75 76.8 L77 76.79 L77.25 76.92 L77.5 76.92 L77.75 76.78 L78 77.03 L78.25 76.85 L78.5 77 L78.75 77 L79 77.04 L79.25 76.81 L79.5 76.88 L79.75 77.02 L80 76.75 L80.25 76.76 L80.5 76.92 L80.75 76.9 L81 77.03 L81.25 76.98 L81.5 76.91 L81.75 77.05 L82 76.91 L82.25 76.91 L82.5 76.96 L82.75 76.87 L83 76.86 L83.25 76.93 L83.5 76.86 L83.75 77.03 L84 76.95 L84.25 76.91 L84.5 76.78 L84.75 76.85 L85 76.81 L85.25 76.72 L85.5 76.37 L85.75 75.82 L86 74.96 L86.25 73.99 L86.5 73.63 L86.75 74.03 L87 74.97 L87.25 75.66 L87.5 76.36 L87.75 76.79 L88 76.74 L88.25 76.83 L88.5 77.04 L88.75 77 L89 76.9 L89.25 76.78 L89.5 77.02 L89.75 76.96 L90 77 L90.25 77.05 L90.5 77.02 L90.75 76.88 L91 76.8 L91.25 76.84 L91.5 76.9 L91.75 76.9 L92 76.81 L92.25 76.8 L92.5 76.94 L92.75 76.93 L93 76.86 L93.25 77.05 L93.5 76.94 L93.75 76.76 L94 76.87 L94.25 76.99 L94.5 76.84 L94.75 76.96 L95 76.75 L95.25 76.84 L95.5 77 L95.75 76.93 L96 76.95 L96.25 76.8 L96.5 76.84 L96.75 76.67 L97 76.01 L97.25 74.7 L97.5 72.04 L97.75 68.55 L98 65.07 L98.25 63.62 L98.5 64.93 L98.75 68.3 L99 72.1 L99.25 74.54 L99.5 75.96 L99.75 76.56 L100 76.85 L100.25 76.99 L100.5 76.93 L100.75 76.99 L101 76.77 L101.25 76.75 L101.5 76.98 L101.75 76.85 L102 76.96 L102.25 76.86 L102.5 76.8 L102.75 76.83 L103 76.78 L103.25 77.02 L103.5 76.92 L103.75 76.85 L104 76.87 L104.25 76.81 L104.5 76.58 L104.75 76.51 L105 75.82 L105.25 75.11 L105.5 74.2 L105.75 73.94 L106 74.14 L106.25 74.84 L106.5 75.93 L106.75 76.5 L107 76.66 L107.25 76.96 L107.5 76.98 L107.75 76.84 L108 76.93 L108.25 77.04 L108.5 76.9 L108.75 77.03 L109 76.82 L109.25 76.86 L109.5 76.92 L109.75 76.62 L110 76.17 L110.25 75.2 L110.5 72.94 L110.75 70.1 L111 67.2 L111.25 66.05 L111.5 67.24 L111.75 69.91 L112 73.09 L112.25 75.02 L112.5 76.25 L112.75 76.59 L113 76.86 L113.25 76.86 L113.5 76.87 L113.75 76.77 L114 76.79 L114.25 77 L114.5 76.86 L114.75 76.82 L115 76.81 L115.25 76.84 L115.5 76.82 L115.75 76.76 L116 76.95 L116.25 76.85 L116.5 76.8 L116.75 76.96 L117 76.78 L117.25 76.83 L117.5 77 L117.75 76.79 L118 76.88 L118.25 77 L118.5 76.99 L118.75 76.8 L119 76.86 L119.25 76.97 L119.5 76.86 L119.75 77.04 L120 76.81 L120.25 77.04 L120.5 76.9 L120.75 76.82 L121 76.89 L121.25 76.79 L121.5 76.96 L121.75 76.83 L122 77.02 L122.25 76.93 L122.5 76.86 L122.75 76.82 L123 76.93 L123.25 76.81 L123.5 77.01 L123.75 76.79 L124 76.9 L124.25 76.91 L124.5 76.83 L124.75 76.98 L125 76.86 L125.25 76.93 L125.5 76.84 L125.75 76.56 L126 76.11 L126.25 75.12 L126.5 73.92 L126.75 72.98 L127 72.35 L127.25 72.92 L127.5 73.9 L127.75 75.26 L128 76.1 L128.25 76.62 L128.5 76.76 L128.75 76.75 L129 76.81 L129.25 76.71 L129.5 76.41 L129.75 75.95 L130 74.63 L130.25 73.02 L130.5 71.65 L130.75 70.98 L131 71.64 L131.25 73.15 L131.5 74.55 L131.75 75.67 L132 75.87 L132.25 75.45 L132.5 73.89 L132.75 71.56 L133 69.49 L133.25 68.7 L133.5 69.58 L133.75 71.53 L134 73.97 L134.25 75.46 L134.5 76.43 L134.75 76.65 L135 76.75 L135.25 77.02 L135.5 76.97 L135.75 76.96 L136 76.76 L136.25 76.76 L136.5 76.8 L136.75 76.81 L137 76.84 L137.25 76.86 L137.5 76.73 L137.75 76.72 L138 76.6 L138.25 76.07 L138.5 75.72 L138.75 75.13 L139 74.96 L139.25 75.04 L139.5 75.6 L139.75 76.22 L140 76.52 L140.25 76.63 L140.5 76.96 L140.75 76.95 L141 76.75 L141.25 76.48 L141.5 76.25 L141.75 75.28 L142 73.88 L142.25 72.8 L142.5 72.28 L142.75 72.96 L143 73.93 L143.25 75.37 L143.5 76.21 L143.75 76.5 L144 76.87 L144.25 76.84 L144.5 76.92 L144.75 76.8 L145 76.17 L145.25 74.96 L145.5 73.08 L145.75 69.98 L146 67.41 L146.25 66.21 L146.5 67.35 L146.75 70.11 L147 72.98 L147.25 75.07 L147.5 76.1 L147.75 76.76 L148 76.83 L148.25 76.89 L148.5 77.03 L148.75 76.79 L149 76.98 L149.25 76.76 L149.5 76.96 L149.75 76.99 L150 76.83 L150.25 76.91 L150.5 77.04 L150.75 76.94 L151 76.91 L151.25 76.82 L151.5 76.77 L151.75 76.86 L152 76.87 L152.25 76.81 L152.5 76.84 L152.75 76.79 L153 76.96 L153.25 76.95 L153.5 76.82 L153.75 76.82 L154 76.9 L154.25 76.88 L154.5 77.03 L154.75 76.86 L155 76.84 L155.25 77.02 L155.5 76.79 L155.75 76.9 L156 76.75 L156.25 76.57 L156.5 75.48 L156.75 73.09 L157 68.34 L157.25 62.2 L157.5 56.35 L157.75 53.89 L158 56.4 L158.25 62.25 L158.5 68.32 L158.75 72.95 L159 75.43 L159.25 76.39 L159.5 76.67 L159.75 76.82 L160 76.81 L160.25 76.96 L160.5 76.88 L160.75 76.78 L161 76.85 L161.25 76.89 L161.5 76.86 L161.75 76.8 L162 76.77 L162.25 76.75 L162.5 77.05 L162.75 76.98 L163 76.78 L163.25 76.97 L163.5 77.04 L163.75 76.92 L164 76.78 L164.25 76.9 L164.5 76.88 L164.75 76.81 L165 76.91 L165.25 76.75 L165.5 77.03 L165.75 76.94 L166 76.94 L166.25 77.03 L166.5 76.95 L166.75 76.83 L167 76.82 L167.25 76.79 L167.5 76.76 L167.75 76.98 L168 77 L168.25 76.84 L168.5 76.81 L168.75 76.94 L169 77 L169.25 77.03 L169.5 76.8 L169.75 76.99 L170 77 L170.25 76.97 L170.5 76.85 L170.75 76.81 L171 77 L171.25 76.85 L171.5 76.86 L171.75 76.92 L172 76.86 L172.25 77 L172.5 76.82 L172.75 76.76 L173 76.92 L173.25 76.94 L173.5 77 L173.75 76.96 L174 77.01 L174.25 77 L174.5 76.77 L174.75 76.56 L175 76.06 L175.25 75.56 L175.5 75.13 L175.75 74.77 L176 75.17 L176.25 75.52 L176.5 76.15 L176.75 76.7 L177 76.65 L177.25 76.73 L177.5 76.87 L177.75 76.81 L178 76.97 L178.25 76.75 L178.5 77 L178.75 77.01 L179 76.99 L179.25 76.88 L179.5 76.83 L179.75 76.95 L180 76.9 L180.25 76.88 L180.5 76.85 L180.75 76.88 L181 76.95 L181.25 77 L181.5 77.02 L181.75 76.8 L182 76.84 L182.25 76.88 L182.5 76.92 L182.75 76.84 L183 76.74 L183.25 76.53 L183.5 76.17 L183.75 75.42 L184 74.48 L184.25 73.44 L184.5 73.01 L184.75 73.46 L185 74.47 L185.25 75.46 L185.5 76.32 L185.75 76.52 L186 76.88 L186.25 76.92 L186.5 76.84 L186.75 76.92 L187 77.04 L187.25 76.89 L187.5 76.94 L187.75 76.84 L188 76.85 L188.25 77.02 L188.5 76.76 L188.75 76.81 L189 76.95 L189.25 76.88 L189.5 76.78 L189.75 76.95 L190 76.86 L190.25 76.92 L190.5 76.87 L190.75 76.91 L191 76.92 L191.25 76.87 L191.5 76.78 L191.75 76.8 L192 77.02 L192.25 76.91 L192.5 76.78 L192.75 77.01 L193 76.83 L193.25 76.78 L193.5 76.91 L193.75 76.83 L194 76.9 L194.25 76.92 L194.5 76.82 L194.75 76.92 L195 76.78 L195.25 76.9 L195.5 76.93 L195.75 76.77 L196 76.87 L196.25 76.77 L196.5 76.88 L196.75 77.01 L197 76.92 L197.25 76.96 L197.5 76.98 L197.75 76.78 L198 77.05 L198.25 76.97 L198.5 76.78 L198.75 77 L199 76.87 L199.25 76.8 L199.5 77.04 L199.75 76.92 L200 76.98 L200.25 76.79 L200.5 76.98 L200.75 76.77 L201 76.82 L201.25 76.86 L201.5 76.75 L201.75 76.93 L202 76.81 L202.25 76.84 L202.5 76.96 L202.75 76.88 L203 77.02 L203.25 76.94 L203.5 77.01 L203.75 76.92 L204 77.03 L204.25 77.01 L204.5 76.8 L204.75 76.97 L205 76.85 L205.25 76.97 L205.5 76.89 L205.75 76.8 L206 76.24 L206.25 75.67 L206.5 74.89 L206.75 74.13 L207 73.72 L207.25 73.85 L207.5 74.85 L207.75 75.58 L208 76.37 L208.25 76.79 L208.5 76.72 L208.75 77.01 L209 76.95 L209.25 76.83 L209.5 76.81 L209.75 76.88 L210 77 L210.25 76.92 L210.5 76.75 L210.75 76.63 L211 76.45 L211.25 76.25 L211.5 75.52 L211.75 75.13 L212 74.84 L212.25 75.17 L212.5 75.58 L212.75 76.06 L213 76.67 L213.25 76.79 L213.5 76.92 L213.75 76.98 L214 77.03 L214.25 76.75 L214.5 76.85 L214.75 76.8 L215 76.9 L215.25 77.01 L215.5 76.99 L215.75 76.76 L216 76.8 L216.25 77 L216.5 76.95 L216.75 76.87 L217 76.89 L217.25 76.8 L217.5 77 L217.75 76.87 L218 77.01 L218.25 76.93 L218.5 76.77 L218.75 76.85 L219 76.81 L219.25 77.02 L219.5 76.93 L219.75 76.76 L220 76.8 L220.25 76.86 L220.5 76.89 L220.75 76.92 L221 76.87 L221.25 76.86 L221.5 76.75 L221.75 76.92 L222 76.85 L222.25 76.76 L222.5 76.89 L222.75 77.05 L223 76.76 L223.25 76.79 L223.5 76.95 L223.75 76.83 L224 76.83 L224.25 76.9 L224.5 76.83 L224.75 76.92 L225 76.91 L225.25 77.04 L225.5 77.05 L225.75 76.76 L226 76.92 L226.25 76.98 L226.5 77.01 L226.75 76.98 L227 76.94 L227.25 76.94 L227.5 76.86 L227.75 76.83 L228 76.99 L228.25 77.01 L228.5 77.03 L228.75 76.95 L229 76.84 L229.25 76.98 L229.5 76.97 L229.75 76.9 L230 76.94 L230.25 76.86 L230.5 76.92 L230.75 76.87 L231 76.77 L231.25 76.85 L231.5 76.85 L231.75 77.05 L232 76.89 L232.25 76.86 L232.5 76.82 L232.75 76.82 L233 76.85 L233.25 76.79 L233.5 76.75 L233.75 77.01 L234 76.89 L234.25 76.88 L234.5 76.92 L234.75 76.84 L235 76.8 L235.25 76.77 L235.5 76.84 L235.75 76.84 L236 76.97 L236.25 76.92 L236.5 77.03 L236.75 76.85 L237 77.03 L237.25 76.93 L237.5 76.77 L237.75 76.8 L238 76.92 L238.25 77.05 L238.5 76.86 L238.75 76.98 L239 76.88 L239.25 77.01 L239.5 76.77 L239.75 76.9 L240 77.02 L240.25 76.83 L240.5 76.83 L240.75 76.76 L241 76.8 L241.25 76.83 L241.5 76.96 L241.75 76.82 L242 76.87 L242.25 76.81 L242.5 76.93 L242.75 77.01 L243 76.94 L243.25 76.81 L243.5 76.97 L243.75 77.04 L244 76.93 L244.25 76.77 L244.5 76.99 L244.75 77.01 L245 76.85 L245.25 76.79 L245.5 76.81 L245.75 76.91 L246 77.01 L246.25 76.94 L246.5 77.03 L246.75 76.81 L247 76.85 L247.25 76.97 L247.5 76.94 L247.75 76.87 L248 76.95 L248.25 76.85 L248.5 76.77 L248.75 76.87 L249 76.76 L249.25 76.94 L249.5 76.85 L249.75 76.9 L250 76.93 L250.25 76.83 L250.5 76.89 L250.75 76.75 L251 77.03 L251.25 76.92" fill="none" stroke="#e6a526" stroke-width="1.25" stroke-linejoin="round"/>
<path d="M17.5 95.01 L17.75 94.86 L18 94.95 L18.25 94.96 L18.5 94.9 L18.75 94.86 L19 94.87 L19.25 94.86 L19.5 94.96 L19.75 94.85 L20 94.97 L20.25 94.9 L20.5 94.92 L20.75 94.93 L21 94.92 L21.25 94.94 L21.5 94.93 L21.75 94.88 L22 94.95 L22.25 94.87 L22.5 94.94 L22.75 94.95 L23 94.95 L23.25 94.87 L23.5 94.94 L23.75 94.97 L24 94.89 L24.25 94.86 L24.5 94.9 L24.75 94.96 L25 94.83 L25.25 94.81 L25.5 94.88 L25.75 94.91 L26 94.93 L26.25 94.86 L26.5 94.96 L26.75 94.84 L27 94.92 L27.25 94.81 L27.5 94.8 L27.75 94.81 L28 94.8 L28.25 94.87 L28.5 94.88 L28.75 94.81 L29 94.93 L29.25 94.84 L29.5 94.8 L29.75 94.81 L30 94.89 L30.25 94.92 L30.5 94.8 L30.75 94.77 L31 94.89 L31.25 94.8 L31.5 94.92 L31.75 94.84 L32 94.86 L32.25 94.81 L32.5 94.88 L32.75 94.83 L33 94.8 L33.25 94.89 L33.5 94.76 L33.75 94.86 L34 94.75 L34.25 94.84 L34.5 94.8 L34.75 94.87 L35 94.74 L35.25 94.82 L35.5 94.79 L35.75 94.87 L36 94.87 L36.25 94.82 L36.5 94.75 L36.75 94.76 L37 94.76 L37.25 94.78 L37.5 94.75 L37.75 94.74 L38 94.83 L38.25 94.8 L38.5 94.75 L38.75 94.86 L39 94.73 L39.25 94.78 L39.5 94.71 L39.75 94.82 L40 94.82 L40.25 94.72 L40.5 94.8 L40.75 94.81 L41 94.72 L41.25 94.72 L41.5 94.74 L41.75 94.81 L42 94.69 L42.25 94.77 L42.5 94.75 L42.75 94.72 L43 94.74 L43.25 94.79 L43.5 94.68 L43.75 94.78 L44 94.69 L44.25 94.76 L44.5 94.77 L44.75 94.66 L45 94.76 L45.25 94.78 L45.5 94.66 L45.75 94.62 L46 94.63 L46.25 94.76 L46.5 94.61 L46.75 94.75 L47 94.62 L47.25 94.71 L47.5 94.61 L47.75 94.61 L48 94.69 L48.25 94.59 L48.5 94.63 L48.75 94.72 L49 94.68 L49.25 94.71 L49.5 94.72 L49.75 94.56 L50 94.59 L50.25 94.68 L50.5 94.66 L50.75 94.55 L51 94.62 L51.25 94.57 L51.5 94.6 L51.75 94.55 L52 94.53 L52.25 94.68 L52.5 94.57 L52.75 94.65 L53 94.53 L53.25 94.58 L53.5 94.52 L53.75 94.57 L54 94.52 L54.25 94.6 L54.5 94.51 L54.75 94.6 L55 94.56 L55.25 94.49 L55.5 94.53 L55.75 94.55 L56 94.61 L56.25 94.51 L56.5 94.49 L56.75 94.6 L57 94.59 L57.25 94.56 L57.5 94.48 L57.75 94.46 L58 94.47 L58.25 94.44 L58.5 94.43 L58.75 94.5 L59 94.48 L59.25 94.5 L59.5 94.46 L59.75 94.4 L60 94.5 L60.25 94.5 L60.5 94.47 L60.75 94.47 L61 94.49 L61.25 94.53 L61.5 94.51 L61.75 94.48 L62 94.42 L62.25 94.41 L62.5 94.42 L62.75 94.5 L63 94.4 L63.25 94.4 L63.5 94.4 L63.75 94.35 L64 94.48 L64.25 94.32 L64.5 94.41 L64.75 94.46 L65 94.35 L65.25 94.4 L65.5 94.36 L65.75 94.33 L66 94.32 L66.25 94.3 L66.5 94.41 L66.75 94.4 L67 94.41 L67.25 94.27 L67.5 94.37 L67.75 94.31 L68 94.35 L68.25 94.33 L68.5 94.29 L68.75 94.39 L69 94.23 L69.25 94.35 L69.5 94.36 L69.75 94.3 L70 94.31 L70.25 94.37 L70.5 94.24 L70.75 94.3 L71 94.31 L71.25 94.25 L71.5 94.3 L71.75 94.24 L72 94.26 L72.25 94.27 L72.5 94.27 L72.75 94.21 L73 94.26 L73.25 94.24 L73.5 94.18 L73.75 94.24 L74 94.18 L74.25 94.28 L74.5 94.2 L74.75 94.24 L75 94.2 L75.25 94.19 L75.5 94.15 L75.75 94.13 L76 94.25 L76.25 94.18 L76.5 94.18 L76.75 94.17 L77 94.21 L77.25 94.12 L77.5 94.1 L77.75 94.2 L78 94.14 L78.25 94.16 L78.5 94.19 L78.75 94.19 L79 94.19 L79.25 94.05 L79.5 94.1 L79.75 94.17 L80 94.16 L80.25 94.04 L80.5 94.04 L80.75 94.06 L81 94.03 L81.25 94.06 L81.5 94.13 L81.75 94.08 L82 94.07 L82.25 94 L82.5 94.05 L82.75 94.14 L83 94.09 L83.25 94.04 L83.5 94.05 L83.75 94.09 L84 94.08 L84.25 93.98 L84.5 94.06 L84.75 94.01 L85 94.03 L85.25 93.98 L85.5 94 L85.75 93.99 L86 93.99 L86.25 93.93 L86.5 93.95 L86.75 94.01 L87 93.92 L87.25 93.94 L87.5 94.02 L87.75 93.95 L88 93.95 L88.25 93.93 L88.5 94.02 L88.75 93.9 L89 93.98 L89.25 94.02 L89.5 93.91 L89.75 93.94 L90 94 L90.25 93.96 L90.5 93.92 L90.75 93.87 L91 93.93 L91.25 93.91 L91.5 93.96 L91.75 93.89 L92 93.91 L92.25 93.94 L92.5 93.97 L92.75 93.89 L93 93.89 L93.25 93.92 L93.5 93.97 L93.75 93.85 L94 93.97 L94.25 93.93 L94.5 93.87 L94.75 93.92 L95 93.86 L95.25 93.81 L95.5 93.92 L95.75 93.86 L96 93.88 L96.25 93.87 L96.5 93.93 L96.75 93.91 L97 93.79 L97.25 93.88 L97.5 93.85 L97.75 93.85 L98 93.91 L98.25 93.84 L98.5 93.85 L98.75 93.91 L99 93.84 L99.25 93.84 L99.5 93.84 L99.75 93.89 L100 93.87 L100.25 93.88 L100.5 93.82 L100.75 93.76 L101 93.86 L101.25 93.84 L101.5 93.87 L101.75 93.87 L102 93.76 L102.25 93.78 L102.5 93.75 L102.75 93.87 L103 93.76 L103.25 93.75 L103.5 93.86 L103.75 93.83 L104 93.74 L104.25 93.84 L104.5 93.85 L104.75 93.81 L105 93.74 L105.25 93.84 L105.5 93.79 L105.75 93.82 L106 93.89 L106.25 93.86 L106.5 93.86 L106.75 93.75 L107 93.78 L107.25 93.81 L107.5 93.72 L107.75 93.88 L108 93.77 L108.25 93.76 L108.5 93.77 L108.75 93.76 L109 93.86 L109.25 93.81 L109.5 93.8 L109.75 93.79 L110 93.73 L110.25 93.77 L110.5 93.86 L110.75 93.85 L111 93.86 L111.25 93.76 L111.5 93.75 L111.75 93.73 L112 93.81 L112.25 93.78 L112.5 93.8 L112.75 93.8 L113 93.82 L113.25 93.78 L113.5 93.85 L113.75 93.76 L114 93.87 L114.25 93.82 L114.5 93.74 L114.75 93.78 L115 93.82 L115.25 93.8 L115.5 93.82 L115.75 93.78 L116 93.78 L116.25 93.86 L116.5 93.78 L116.75 93.85 L117 93.87 L117.25 93.84 L117.5 93.81 L117.75 93.89 L118 93.82 L118.25 93.89 L118.5 93.76 L118.75 93.82 L119 93.85 L119.25 93.76 L119.5 93.89 L119.75 93.77 L120 93.85 L120.25 93.79 L120.5 93.91 L120.75 93.85 L121 93.9 L121.25 93.85 L121.5 93.88 L121.75 93.88 L122 93.82 L122.25 93.81 L122.5 93.91 L122.75 93.81 L123 93.93 L123.25 93.82 L123.5 93.81 L123.75 93.81 L124 93.92 L124.25 93.95 L124.5 93.87 L124.75 93.91 L125 93.85 L125.25 93.95 L125.5 93.92 L125.75 93.84 L126 93.83 L126.25 93.93 L126.5 93.83 L126.75 93.96 L127 93.88 L127.25 93.87 L127.5 93.93 L127.75 93.89 L128 93.93 L128.25 93.87 L128.5 93.99 L128.75 93.9 L129 93.99 L129.25 93.88 L129.5 93.99 L129.75 94.02 L130 93.93 L130.25 93.88 L130.5 93.94 L130.75 93.98 L131 93.92 L131.25 93.97 L131.5 93.91 L131.75 93.97 L132 94.01 L132.25 93.97 L132.5 94.01 L132.75 93.93 L133 94.05 L133.25 93.94 L133.5 94.07 L133.75 94.08 L134 94.08 L134.25 94.02 L134.5 93.98 L134.75 94 L135 94.06 L135.25 94.03 L135.5 94.1 L135.75 93.97 L136 94.04 L136.25 94.1 L136.5 94.06 L136.75 94.06 L137 93.99 L137.25 94 L137.5 94.03 L137.75 94.13 L138 94.13 L138.25 94.03 L138.5 94.15 L138.75 94.01 L139 94.11 L139.25 94.17 L139.5 94.08 L139.75 94.18 L140 94.13 L140.25 94.04 L140.5 94.09 L140.75 94.11 L141 94.09 L141.25 94.17 L141.5 94.08 L141.75 94.19 L142 94.11 L142.25 94.08 L142.5 94.16 L142.75 94.09 L143 94.17 L143.25 94.21 L143.5 94.19 L143.75 94.17 L144 94.11 L144.25 94.19 L144.5 94.13 L144.75 94.22 L145 94.14 L145.25 94.22 L145.5 94.19 L145.75 94.19 L146 94.24 L146.25 94.17 L146.5 94.17 L146.75 94.3 L147 94.21 L147.25 94.3 L147.5 94.31 L147.75 94.25 L148 94.2 L148.25 94.2 L148.5 94.33 L148.75 94.21 L149 94.27 L149.25 94.28 L149.5 94.22 L149.75 94.28 L150 94.24 L150.25 94.3 L150.5 94.3 L150.75 94.29 L151 94.26 L151.25 94.3 L151.5 94.27 L151.75 94.27 L152 94.29 L152.25 94.39 L152.5 94.34 L152.75 94.41 L153 94.27 L153.25 94.42 L153.5 94.36 L153.75 94.41 L154 94.38 L154.25 94.4 L154.5 94.33 L154.75 94.42 L155 94.33 L155.25 94.35 L155.5 94.32 L155.75 94.38 L156 94.41 L156.25 94.38 L156.5 94.48 L156.75 94.35 L157 94.43 L157.25 94.38 L157.5 94.45 L157.75 94.48 L158 94.47 L158.25 94.37 L158.5 94.41 L158.75 94.47 L159 94.53 L159.25 94.39 L159.5 94.49 L159.75 94.5 L160 94.53 L160.25 94.45 L160.5 94.53 L160.75 94.48 L161 94.56 L161.25 94.42 L161.5 94.57 L161.75 94.49 L162 94.49 L162.25 94.45 L162.5 94.48 L162.75 94.56 L163 94.55 L163.25 94.47 L163.5 94.51 L163.75 94.48 L164 94.49 L164.25 94.5 L164.5 94.52 L164.75 94.63 L165 94.64 L165.25 94.61 L165.5 94.56 L165.75 94.57 L166 94.62 L166.25 94.64 L166.5 94.62 L166.75 94.61 L167 94.54 L167.25 94.61 L167.5 94.65 L167.75 94.65 L168 94.54 L168.25 94.64 L168.5 94.59 L168.75 94.56 L169 94.69 L169.25 94.65 L169.5 94.67 L169.75 94.57 L170 94.69 L170.25 94.71 L170.5 94.71 L170.75 94.68 L171 94.7 L171.25 94.7 L171.5 94.67 L171.75 94.65 L172 94.72 L172.25 94.71 L172.5 94.73 L172.75 94.64 L173 94.75 L173.25 94.69 L173.5 94.75 L173.75 94.63 L174 94.77 L174.25 94.74 L174.5 94.66 L174.75 94.75 L175 94.66 L175.25 94.66 L175.5 94.7 L175.75 94.67 L176 94.71 L176.25 94.78 L176.5 94.75 L176.75 94.76 L177 94.71 L177.25 94.78 L177.5 94.78 L177.75 94.77 L178 94.81 L178.25 94.79 L178.5 94.73 L178.75 94.68 L179 94.78 L179.25 94.81 L179.5 94.73 L179.75 94.77 L180 94.82 L180.25 94.81 L180.5 94.69 L180.75 94.77 L181 94.7 L181.25 94.71 L181.5 94.83 L181.75 94.77 L182 94.8 L182.25 94.78 L182.5 94.76 L182.75 94.75 L183 94.77 L183.25 94.85 L183.5 94.82 L183.75 94.77 L184 94.74 L184.25 94.77 L184.5 94.84 L184.75 94.8 L185 94.84 L185.25 94.86 L185.5 94.76 L185.75 94.85 L186 94.75 L186.25 94.88 L186.5 94.78 L186.75 94.79 L187 94.9 L187.25 94.81 L187.5 94.79 L187.75 94.9 L188 94.86 L188.25 94.9 L188.5 94.83 L188.75 94.85 L189 94.92 L189.25 94.85 L189.5 94.93 L189.75 94.8 L190 94.91 L190.25 94.8 L190.5 94.86 L190.75 94.78 L191 94.81 L191.25 94.94 L191.5 94.86 L191.75 94.92 L192 94.83 L192.25 94.85 L192.5 94.81 L192.75 94.88 L193 94.93 L193.25 94.88 L193.5 94.86 L193.75 94.95 L194 94.95 L194.25 94.91 L194.5 94.82 L194.75 94.91 L195 94.88 L195.25 94.96 L195.5 94.87 L195.75 94.92 L196 94.92 L196.25 94.88 L196.5 94.9 L196.75 94.93 L197 94.97 L197.25 94.9 L197.5 94.88 L197.75 94.98 L198 94.84 L198.25 94.96 L198.5 94.94 L198.75 94.92 L199 94.9 L199.25 94.95 L199.5 94.98 L199.75 94.95 L200 94.96 L200.25 94.84 L200.5 94.89 L200.75 94.86 L201 94.99 L201.25 94.99 L201.5 94.87 L201.75 94.94 L202 94.94 L202.25 94.86 L202.5 94.91 L202.75 94.97 L203 94.95 L203.25 94.9 L203.5 94.98 L203.75 94.9 L204 94.94 L204.25 94.92 L204.5 95.01 L204.75 94.96 L205 94.99 L205.25 94.97 L205.5 94.92 L205.75 95.02 L206 94.98 L206.25 94.97 L206.5 94.91 L206.75 94.89 L207 94.96 L207.25 95 L207.5 95 L207.75 94.92 L208 94.89 L208.25 94.95 L208.5 95.01 L208.75 94.9 L209 94.99 L209.25 94.9 L209.5 94.92 L209.75 94.88 L210 94.92 L210.25 94.94 L210.5 95.03 L210.75 95.03 L211 94.91 L211.25 94.93 L211.5 95.03 L211.75 94.91 L212 94.93 L212.25 94.95 L212.5 94.9 L212.75 94.93 L213 94.95 L213.25 94.95 L213.5 95.04 L213.75 94.93 L214 94.92 L214.25 95.03 L214.5 94.96 L214.75 95.02 L215 94.99 L215.25 95.01 L215.5 94.94 L215.75 94.91 L216 95.01 L216.25 94.97 L216.5 94.98 L216.75 95 L217 95.01 L217.25 94.94 L217.5 94.95 L217.75 95.04 L218 94.98 L218.25 94.94 L218.5 95 L218.75 94.94 L219 95.02 L219.25 94.9 L219.5 95.03 L219.75 94.99 L220 94.95 L220.25 95.05 L220.5 94.94 L220.75 94.94 L221 94.91 L221.25 94.99 L221.5 95.02 L221.75 95.01 L222 94.97 L222.25 95.03 L222.5 94.92 L222.75 94.95 L223 95.01 L223.25 95.06 L223.5 95 L223.75 95.01 L224 95.03 L224.25 94.97 L224.5 95.05 L224.75 95.02 L225 94.96 L225.25 94.97 L225.5 95.03 L225.75 94.96 L226 94.94 L226.25 95.05 L226.5 94.99 L226.75 94.99 L227 95.01 L227.25 95.05 L227.5 94.93 L227.75 94.96 L228 94.92 L228.25 94.97 L228.5 94.99 L228.75 95.04 L229 95.02 L229.25 95 L229.5 94.97 L229.75 95 L230 94.95 L230.25 95.05 L230.5 95.04 L230.75 95.04 L231 94.93 L231.25 95.02 L231.5 95.03 L231.75 94.99 L232 95.05 L232.25 95.06 L232.5 95.03 L232.75 95.04 L233 95.02 L233.25 95.05 L233.5 94.93 L233.75 95.03 L234 95.03 L234.25 95.01 L234.5 94.96 L234.75 94.92 L235 95.01 L235.25 95.05 L235.5 94.96 L235.75 94.95 L236 94.95 L236.25 94.93 L236.5 95.02 L236.75 95.07 L237 95.04 L237.25 94.97 L237.5 95.03 L237.75 94.93 L238 95.05 L238.25 94.97 L238.5 94.92 L238.75 95.02 L239 94.94 L239.25 94.96 L239.5 94.92 L239.75 94.99 L240 95 L240.25 95.04 L240.5 94.92 L240.75 95.05 L241 94.93 L241.25 94.95 L241.5 95.02 L241.75 94.97 L242 94.97 L242.25 95.01 L242.5 94.95 L242.75 95.04 L243 94.95 L243.25 95.05 L243.5 95.05 L243.75 95 L244 94.92 L244.25 95.04 L244.5 94.92 L244.75 95 L245 94.98 L245.25 94.93 L245.5 95.02 L245.75 95.03 L246 95.01 L246.25 94.98 L246.5 95 L246.75 95.01 L247 94.95 L247.25 95.06 L247.5 95.08 L247.75 95.05 L248 95.07 L248.25 94.97 L248.5 95.08 L248.75 94.93 L249 94.99 L249.25 94.94 L249.5 94.99 L249.75 95.03 L250 95.03 L250.25 94.99 L250.5 94.97 L250.75 94.95 L251 94.98 L251.25 94.96" fill="none" stroke="#22b07e" stroke-width="1.25" stroke-linejoin="round"/>
<path d="M17.5 117.34 L17.75 117.45 L18 117.4 L18.25 117.39 L18.5 117.34 L18.75 117.44 L19 117.34 L19.25 117.35 L19.5 117.41 L19.75 117.44 L20 117.49 L20.25 117.45 L20.5 117.49 L20.75 117.48 L21 117.44 L21.25 117.44 L21.5 117.31 L21.75 117.34 L22 117.3 L22.25 117.47 L22.5 117.44 L22.75 117.43 L23 117.35 L23.25 117.37 L23.5 117.33 L23.75 117.43 L24 117.5 L24.25 117.36 L24.5 117.31 L24.75 117.34 L25 117.37 L25.25 117.48 L25.5 117.46 L25.75 117.39 L26 117.32 L26.25 117.32 L26.5 117.33 L26.75 117.46 L27 117.39 L27.25 117.5 L27.5 117.48 L27.75 117.46 L28 117.4 L28.25 117.46 L28.5 117.33 L28.75 117.32 L29 117.41 L29.25 117.4 L29.5 117.34 L29.75 117.35 L30 117.3 L30.25 117.48 L30.5 117.44 L30.75 117.49 L31 117.5 L31.25 117.39 L31.5 117.45 L31.75 117.38 L32 117.46 L32.25 117.47 L32.5 117.33 L32.75 117.3 L33 117.34 L33.25 117.42 L33.5 117.38 L33.75 117.3 L34 117.47 L34.25 117.46 L34.5 117.39 L34.75 117.31 L35 117.48 L35.25 117.41 L35.5 117.31 L35.75 117.36 L36 117.42 L36.25 117.48 L36.5 117.4 L36.75 117.43 L37 117.34 L37.25 117.35 L37.5 117.48 L37.75 117.38 L38 117.32 L38.25 117.42 L38.5 117.32 L38.75 117.34 L39 117.39 L39.25 117.42 L39.5 117.43 L39.75 117.44 L40 117.38 L40.25 117.31 L40.5 117.44 L40.75 117.3 L41 117.38 L41.25 117.37 L41.5 117.42 L41.75 117.42 L42 117.32 L42.25 117.39 L42.5 117.39 L42.75 117.34 L43 117.26 L43.25 117.39 L43.5 117.31 L43.75 117.19 L44 117.2 L44.25 117.32 L44.5 117.14 L44.75 117.13 L45 117.18 L45.25 117.14 L45.5 117.06 L45.75 117.03 L46 116.84 L46.25 116.8 L46.5 116.93 L46.75 116.84 L47 116.63 L47.25 116.58 L47.5 116.57 L47.75 116.66 L48 116.48 L48.25 116.53 L48.5 116.55 L48.75 116.46 L49 116.5 L49.25 116.36 L49.5 116.33 L49.75 116.31 L50 116.47 L50.25 116.36 L50.5 116.56 L50.75 116.54 L51 116.47 L51.25 116.64 L51.5 116.55 L51.75 116.67 L52 116.64 L52.25 116.83 L52.5 116.91 L52.75 116.97 L53 116.84 L53.25 117.06 L53.5 117.04 L53.75 117.14 L54 117.12 L54.25 117.18 L54.5 117.21 L54.75 117.28 L55 117.16 L55.25 117.18 L55.5 117.3 L55.75 117.27 L56 117.31 L56.25 117.24 L56.5 117.4 L56.75 117.27 L57 117.44 L57.25 117.44 L57.5 117.37 L57.75 117.31 L58 117.42 L58.25 117.33 L58.5 117.38 L58.75 117.32 L59 117.49 L59.25 117.41 L59.5 117.37 L59.75 117.32 L60 117.45 L60.25 117.47 L60.5 117.47 L60.75 117.32 L61 117.37 L61.25 117.36 L61.5 117.45 L61.75 117.33 L62 117.42 L62.25 117.5 L62.5 117.45 L62.75 117.3 L63 117.31 L63.25 117.32 L63.5 117.44 L63.75 117.42 L64 117.4 L64.25 117.39 L64.5 117.38 L64.75 117.42 L65 117.43 L65.25 117.48 L65.5 117.45 L65.75 117.45 L66 117.46 L66.25 117.35 L66.5 117.05 L66.75 116.25 L67 115.14 L67.25 113.46 L67.5 111.79 L67.75 111.23 L68 111.74 L68.25 113.48 L68.5 115.09 L68.75 116.38 L69 116.96 L69.25 117.25 L69.5 117.34 L69.75 117.36 L70 117.32 L70.25 117.39 L70.5 117.5 L70.75 117.43 L71 117.49 L71.25 117.45 L71.5 117.47 L71.75 117.5 L72 117.45 L72.25 117.35 L72.5 117.35 L72.75 117.38 L73 117.3 L73.25 117.32 L73.5 117.36 L73.75 117.1 L74 116.31 L74.25 115.15 L74.5 113.45 L74.75 111.89 L75 111.21 L75.25 111.81 L75.5 113.31 L75.75 115.17 L76 116.31 L76.25 117.04 L76.5 117.26 L76.75 117.38 L77 117.49 L77.25 117.33 L77.5 117.41 L77.75 117.43 L78 117.41 L78.25 117.49 L78.5 117.38 L78.75 117.48 L79 117.44 L79.25 117.49 L79.5 117.32 L79.75 117.34 L80 117.36 L80.25 117.48 L80.5 117.3 L80.75 117.35 L81 117.44 L81.25 117.5 L81.5 117.34 L81.75 117.39 L82 117.44 L82.25 117.44 L82.5 117.45 L82.75 117.45 L83 117.35 L83.25 117.35 L83.5 117.31 L83.75 117.44 L84 117.34 L84.25 117.35 L84.5 117.49 L84.75 117.42 L85 117.37 L85.25 117.28 L85.5 117 L85.75 116.52 L86 115.76 L86.25 115.08 L86.5 114.81 L86.75 115.07 L87 115.77 L87.25 116.41 L87.5 116.9 L87.75 117.24 L88 117.45 L88.25 117.43 L88.5 117.35 L88.75 117.45 L89 117.34 L89.25 117.32 L89.5 117.36 L89.75 117.38 L90 117.44 L90.25 117.39 L90.5 117.45 L90.75 117.32 L91 117.49 L91.25 117.37 L91.5 117.47 L91.75 117.31 L92 117.47 L92.25 117.35 L92.5 117.47 L92.75 117.46 L93 117.43 L93.25 117.36 L93.5 117.3 L93.75 117.34 L94 117.48 L94.25 117.33 L94.5 117.43 L94.75 117.42 L95 117.43 L95.25 117.34 L95.5 117.33 L95.75 117.32 L96 117.49 L96.25 117.36 L96.5 117.36 L96.75 117.13 L97 116.38 L97.25 114.69 L97.5 111.6 L97.75 107.53 L98 103.46 L98.25 101.99 L98.5 103.5 L98.75 107.51 L99 111.63 L99.25 114.84 L99.5 116.39 L99.75 117.09 L100 117.34 L100.25 117.31 L100.5 117.35 L100.75 117.46 L101 117.36 L101.25 117.38 L101.5 117.45 L101.75 117.34 L102 117.34 L102.25 117.34 L102.5 117.38 L102.75 117.37 L103 117.43 L103.25 117.39 L103.5 117.47 L103.75 117.3 L104 117.4 L104.25 117.34 L104.5 117.01 L104.75 116.57 L105 116.11 L105.25 115.53 L105.5 115.39 L105.75 115.65 L106 116.04 L106.25 116.59 L106.5 117.06 L106.75 117.21 L107 117.31 L107.25 117.38 L107.5 117.32 L107.75 117.31 L108 117.37 L108.25 117.39 L108.5 117.49 L108.75 117.41 L109 117.31 L109.25 117.33 L109.5 117.39 L109.75 117.17 L110 116.67 L110.25 115.3 L110.5 112.69 L110.75 108.99 L111 105.86 L111.25 104.4 L111.5 105.72 L111.75 109 L112 112.69 L112.25 115.15 L112.5 116.51 L112.75 117.11 L113 117.43 L113.25 117.38 L113.5 117.44 L113.75 117.31 L114 117.39 L114.25 117.36 L114.5 117.34 L114.75 117.43 L115 117.37 L115.25 117.32 L115.5 117.5 L115.75 117.4 L116 117.34 L116.25 117.3 L116.5 117.43 L116.75 117.4 L117 117.3 L117.25 117.39 L117.5 117.45 L117.75 117.41 L118 117.35 L118.25 117.4 L118.5 117.42 L118.75 117.43 L119 117.33 L119.25 117.46 L119.5 117.49 L119.75 117.45 L120 117.47 L120.25 117.37 L120.5 117.48 L120.75 117.34 L121 117.35 L121.25 117.42 L121.5 117.48 L121.75 117.32 L122 117.34 L122.25 117.31 L122.5 117.39 L122.75 117.33 L123 117.34 L123.25 117.45 L123.5 117.42 L123.75 117.49 L124 117.38 L124.25 117.44 L124.5 117.3 L124.75 117.49 L125 117.35 L125.25 117.4 L125.5 117.4 L125.75 117.49 L126 117.4 L126.25 117.49 L126.5 117.4 L126.75 117.24 L127 117.12 L127.25 116.41 L127.5 115.48 L127.75 113.86 L128 112.42 L128.25 111.99 L128.5 112.44 L128.75 113.85 L129 115.35 L129.25 116.5 L129.5 116.96 L129.75 117.27 L130 117.31 L130.25 117.46 L130.5 117.3 L130.75 117.42 L131 117.35 L131.25 117.39 L131.5 117.39 L131.75 117.35 L132 117.02 L132.25 116.5 L132.5 115.48 L132.75 114.29 L133 112.86 L133.25 112.33 L133.5 112.93 L133.75 114.21 L134 115.64 L134.25 116.47 L134.5 117.04 L134.75 117.24 L135 117.4 L135.25 117.39 L135.5 117.38 L135.75 117.48 L136 117.43 L136.25 117.47 L136.5 117.49 L136.75 117.35 L137 117.49 L137.25 117.37 L137.5 117.27 L137.75 117.36 L138 116.98 L138.25 116.57 L138.5 116.08 L138.75 115.57 L139 115.49 L139.25 115.68 L139.5 116.1 L139.75 116.67 L140 117.13 L140.25 117.34 L140.5 117.39 L140.75 117.38 L141 117.27 L141.25 117.16 L141.5 116.92 L141.75 116.31 L142 115.54 L142.25 114.8 L142.5 114.49 L142.75 114.65 L143 115.39 L143.25 116.38 L143.5 116.91 L143.75 117.15 L144 117.38 L144.25 117.33 L144.5 117.31 L144.75 117.24 L145 116.97 L145.25 116.25 L145.5 114.74 L145.75 112.96 L146 111.16 L146.25 110.39 L146.5 111.17 L146.75 112.97 L147 114.73 L147.25 116.21 L147.5 117 L147.75 117.31 L148 117.4 L148.25 117.33 L148.5 117.49 L148.75 117.46 L149 117.35 L149.25 117.39 L149.5 117.49 L149.75 117.34 L150 117.38 L150.25 117.49 L150.5 117.48 L150.75 117.35 L151 117.45 L151.25 117.37 L151.5 117.43 L151.75 117.45 L152 117.33 L152.25 117.34 L152.5 117.34 L152.75 117.35 L153 117.31 L153.25 117.33 L153.5 117.38 L153.75 117.38 L154 117.32 L154.25 117.42 L154.5 117.49 L154.75 117.42 L155 117.37 L155.25 117.44 L155.5 117.39 L155.75 117.32 L156 117.32 L156.25 116.99 L156.5 116.38 L156.75 114.46 L157 111.12 L157.25 106.59 L157.5 102.24 L157.75 100.47 L158 102.22 L158.25 106.53 L158.5 111.19 L158.75 114.62 L159 116.28 L159.25 117.14 L159.5 117.29 L159.75 117.34 L160 117.46 L160.25 117.42 L160.5 117.47 L160.75 117.48 L161 117.42 L161.25 117.34 L161.5 117.3 L161.75 117.41 L162 117.45 L162.25 117.35 L162.5 117.31 L162.75 117.3 L163 117.33 L163.25 117.44 L163.5 117.3 L163.75 117.35 L164 117.35 L164.25 117.44 L164.5 117.5 L164.75 117.3 L165 117.32 L165.25 117.49 L165.5 117.49 L165.75 117.33 L166 117.37 L166.25 117.4 L166.5 117.36 L166.75 117.38 L167 117.4 L167.25 117.35 L167.5 117.31 L167.75 117.32 L168 117.33 L168.25 117.32 L168.5 117.42 L168.75 117.44 L169 117.35 L169.25 117.46 L169.5 117.45 L169.75 117.37 L170 117.4 L170.25 117.34 L170.5 117.49 L170.75 117.41 L171 117.31 L171.25 117.33 L171.5 117.44 L171.75 117.38 L172 117.44 L172.25 117.35 L172.5 117.46 L172.75 117.46 L173 117.32 L173.25 117.42 L173.5 117.34 L173.75 117.44 L174 117.45 L174.25 117.43 L174.5 117.25 L174.75 117.07 L175 116.88 L175.25 116.45 L175.5 115.99 L175.75 115.84 L176 116.07 L176.25 116.36 L176.5 116.87 L176.75 117.09 L177 117.26 L177.25 117.36 L177.5 117.4 L177.75 117.44 L178 117.31 L178.25 117.44 L178.5 117.34 L178.75 117.36 L179 117.43 L179.25 117.44 L179.5 117.42 L179.75 117.48 L180 117.34 L180.25 117.36 L180.5 117.43 L180.75 117.35 L181 117.33 L181.25 117.35 L181.5 117.45 L181.75 117.47 L182 117.44 L182.25 117.49 L182.5 117.46 L182.75 117.36 L183 117.36 L183.25 117.43 L183.5 117.26 L183.75 117.24 L184 116.81 L184.25 116.21 L184.5 115.48 L184.75 114.65 L185 114.49 L185.25 114.79 L185.5 115.47 L185.75 116.24 L186 116.82 L186.25 117.21 L186.5 117.35 L186.75 117.36 L187 117.44 L187.25 117.41 L187.5 117.46 L187.75 117.32 L188 117.31 L188.25 117.38 L188.5 117.4 L188.75 117.35 L189 117.43 L189.25 117.34 L189.5 117.36 L189.75 117.4 L190 117.44 L190.25 117.45 L190.5 117.37 L190.75 117.39 L191 117.49 L191.25 117.49 L191.5 117.42 L191.75 117.32 L192 117.39 L192.25 117.43 L192.5 117.36 L192.75 117.31 L193 117.5 L193.25 117.48 L193.5 117.33 L193.75 117.39 L194 117.42 L194.25 117.36 L194.5 117.31 L194.75 117.45 L195 117.45 L195.25 117.39 L195.5 117.32 L195.75 117.38 L196 117.32 L196.25 117.49 L196.5 117.31 L196.75 117.36 L197 117.45 L197.25 117.33 L197.5 117.32 L197.75 117.31 L198 117.33 L198.25 117.41 L198.5 117.47 L198.75 117.33 L199 117.33 L199.25 117.45 L199.5 117.39 L199.75 117.37 L200 117.32 L200.25 117.35 L200.5 117.49 L200.75 117.32 L201 117.35 L201.25 117.45 L201.5 117.48 L201.75 117.48 L202 117.39 L202.25 117.49 L202.5 117.42 L202.75 117.36 L203 117.39 L203.25 117.44 L203.5 117.45 L203.75 117.33 L204 117.34 L204.25 117.49 L204.5 117.32 L204.75 117.46 L205 117.37 L205.25 117.35 L205.5 117.35 L205.75 117.39 L206 117.5 L206.25 117.33 L206.5 117.47 L206.75 117.36 L207 117.33 L207.25 117.45 L207.5 117.37 L207.75 117.34 L208 117.38 L208.25 117.46 L208.5 117.47 L208.75 117.41 L209 117.3 L209.25 117.45 L209.5 117.42 L209.75 117.48 L210 117.49 L210.25 117.37 L210.5 117.47 L210.75 117.46 L211 117.35 L211.25 117.37 L211.5 117.37 L211.75 117.37 L212 117.38 L212.25 117.32 L212.5 117.35 L212.75 117.48 L213 117.38 L213.25 117.43 L213.5 117.48 L213.75 117.45 L214 117.35 L214.25 117.48 L214.5 117.46 L214.75 117.5 L215 117.45 L215.25 117.45 L215.5 117.46 L215.75 117.35 L216 117.43 L216.25 117.38 L216.5 117.47 L216.75 117.33 L217 117.41 L217.25 117.37 L217.5 117.46 L217.75 117.37 L218 117.47 L218.25 117.47 L218.5 117.48 L218.75 117.33 L219 117.49 L219.25 117.45 L219.5 117.44 L219.75 117.43 L220 117.31 L220.25 117.47 L220.5 117.41 L220.75 117.39 L221 117.37 L221.25 117.46 L221.5 117.46 L221.75 117.47 L222 117.34 L222.25 117.37 L222.5 117.35 L222.75 117.32 L223 117.37 L223.25 117.31 L223.5 117.46 L223.75 117.35 L224 117.31 L224.25 117.31 L224.5 117.45 L224.75 117.34 L225 117.39 L225.25 117.38 L225.5 117.46 L225.75 117.49 L226 117.36 L226.25 117.43 L226.5 117.48 L226.75 117.39 L227 117.48 L227.25 117.45 L227.5 117.36 L227.75 117.47 L228 117.41 L228.25 117.32 L228.5 117.42 L228.75 117.47 L229 117.4 L229.25 117.4 L229.5 117.38 L229.75 117.48 L230 117.43 L230.25 117.34 L230.5 117.37 L230.75 117.37 L231 117.49 L231.25 117.44 L231.5 117.32 L231.75 117.48 L232 117.31 L232.25 117.42 L232.5 117.39 L232.75 117.44 L233 117.39 L233.25 117.32 L233.5 117.4 L233.75 117.46 L234 117.46 L234.25 117.37 L234.5 117.34 L234.75 117.45 L235 117.46 L235.25 117.34 L235.5 117.48 L235.75 117.5 L236 117.39 L236.25 117.38 L236.5 117.44 L236.75 117.49 L237 117.34 L237.25 117.36 L237.5 117.37 L237.75 117.45 L238 117.34 L238.25 117.41 L238.5 117.4 L238.75 117.43 L239 117.33 L239.25 117.49 L239.5 117.5 L239.75 117.41 L240 117.46 L240.25 117.34 L240.5 117.48 L240.75 117.41 L241 117.45 L241.25 117.47 L241.5 117.37 L241.75 117.48 L242 117.34 L242.25 117.3 L242.5 117.4 L242.75 117.48 L243 117.48 L243.25 117.49 L243.5 117.4 L243.75 117.49 L244 117.41 L244.25 117.33 L244.5 117.43 L244.75 117.46 L245 117.38 L245.25 117.42 L245.5 117.35 L245.75 117.36 L246 117.38 L246.25 117.4 L246.5 117.39 L246.75 117.32 L247 117.3 L247.25 117.37 L247.5 117.44 L247.75 117.45 L248 117.35 L248.25 117.35 L248.5 117.4 L248.75 117.34 L249 117.42 L249.25 117.48 L249.5 117.34 L249.75 117.42 L250 117.44 L250.25 117.45 L250.5 117.44 L250.75 117.44 L251 117.35 L251.25 117.47" fill="none" stroke="#27cdd0" stroke-width="1.25" stroke-linejoin="round"/>
<path d="M17.5 133.73 L17.75 133.47 L18 133.73 L18.25 133.58 L18.5 133.48 L18.75 133.47 L19 133.69 L19.25 133.65 L19.5 133.49 L19.75 133.59 L20 133.64 L20.25 133.75 L20.5 133.55 L20.75 133.68 L21 133.52 L21.25 133.51 L21.5 133.5 L21.75 133.57 L22 133.64 L22.25 133.54 L22.5 133.5 L22.75 133.52 L23 133.48 L23.25 133.51 L23.5 133.54 L23.75 133.6 L24 133.51 L24.25 133.59 L24.5 133.58 L24.75 133.74 L25 133.6 L25.25 133.73 L25.5 133.59 L25.75 133.51 L26 133.63 L26.25 133.49 L26.5 133.5 L26.75 133.47 L27 133.66 L27.25 133.74 L27.5 133.57 L27.75 133.56 L28 133.58 L28.25 133.56 L28.5 133.66 L28.75 133.57 L29 133.5 L29.25 133.71 L29.5 133.62 L29.75 133.45 L30 133.7 L30.25 133.67 L30.5 133.56 L30.75 133.64 L31 133.73 L31.25 133.57 L31.5 133.58 L31.75 133.54 L32 133.62 L32.25 133.65 L32.5 133.67 L32.75 133.73 L33 133.49 L33.25 133.56 L33.5 133.71 L33.75 133.69 L34 133.63 L34.25 133.65 L34.5 133.55 L34.75 133.73 L35 133.61 L35.25 133.57 L35.5 133.5 L35.75 133.48 L36 133.72 L36.25 133.69 L36.5 133.46 L36.75 133.55 L37 133.59 L37.25 133.6 L37.5 133.56 L37.75 133.72 L38 133.55 L38.25 133.6 L38.5 133.72 L38.75 133.63 L39 133.58 L39.25 133.54 L39.5 133.55 L39.75 133.61 L40 133.66 L40.25 133.49 L40.5 133.51 L40.75 133.5 L41 133.48 L41.25 133.63 L41.5 133.49 L41.75 133.39 L42 133.37 L42.25 133.48 L42.5 133.23 L42.75 133.34 L43 133.08 L43.25 133.06 L43.5 132.94 L43.75 133.07 L44 132.78 L44.25 132.69 L44.5 132.51 L44.75 132.44 L45 132.43 L45.25 132.27 L45.5 132.16 L45.75 131.99 L46 131.69 L46.25 131.6 L46.5 131.16 L46.75 131.2 L47 130.86 L47.25 130.58 L47.5 130.55 L47.75 130.4 L48 130.08 L48.25 129.82 L48.5 129.91 L48.75 129.74 L49 129.58 L49.25 129.61 L49.5 129.26 L49.75 129.23 L50 129.24 L50.25 129.22 L50.5 129.46 L50.75 129.51 L51 129.44 L51.25 129.56 L51.5 129.7 L51.75 129.98 L52 130.16 L52.25 130.43 L52.5 130.44 L52.75 130.82 L53 130.86 L53.25 131.04 L53.5 131.21 L53.75 131.4 L54 131.81 L54.25 132.01 L54.5 132.1 L54.75 132.11 L55 132.27 L55.25 132.41 L55.5 132.6 L55.75 132.84 L56 132.75 L56.25 132.99 L56.5 133.13 L56.75 133.01 L57 133.2 L57.25 133.37 L57.5 133.36 L57.75 133.37 L58 133.53 L58.25 133.48 L58.5 133.43 L58.75 133.47 L59 133.66 L59.25 133.65 L59.5 133.68 L59.75 133.58 L60 133.46 L60.25 133.48 L60.5 133.55 L60.75 133.64 L61 133.44 L61.25 133.68 L61.5 133.68 L61.75 133.6 L62 133.45 L62.25 133.69 L62.5 133.57 L62.75 133.65 L63 133.62 L63.25 133.67 L63.5 133.57 L63.75 133.74 L64 133.74 L64.25 133.73 L64.5 133.63 L64.75 133.54 L65 133.56 L65.25 133.53 L65.5 133.72 L65.75 133.69 L66 133.69 L66.25 133.7 L66.5 133.75 L66.75 133.66 L67 133.55 L67.25 133.68 L67.5 133.53 L67.75 133.63 L68 133.5 L68.25 133.71 L68.5 133.6 L68.75 133.53 L69 133.73 L69.25 133.47 L69.5 133.73 L69.75 133.68 L70 133.49 L70.25 133.68 L70.5 133.62 L70.75 133.72 L71 133.63 L71.25 133.58 L71.5 133.73 L71.75 133.48 L72 133.68 L72.25 133.48 L72.5 133.53 L72.75 133.48 L73 133.71 L73.25 133.58 L73.5 133.67 L73.75 133.53 L74 133.67 L74.25 133.64 L74.5 133.48 L74.75 133.6 L75 133.67 L75.25 133.51 L75.5 133.65 L75.75 133.53 L76 133.56 L76.25 133.73 L76.5 133.73 L76.75 133.75 L77 133.58 L77.25 133.62 L77.5 133.69 L77.75 133.68 L78 133.59 L78.25 133.71 L78.5 133.57 L78.75 133.74 L79 133.59 L79.25 133.49 L79.5 133.67 L79.75 133.49 L80 133.65 L80.25 133.47 L80.5 133.75 L80.75 133.61 L81 133.67 L81.25 133.49 L81.5 133.64 L81.75 133.56 L82 133.52 L82.25 133.69 L82.5 133.46 L82.75 133.59 L83 133.48 L83.25 133.71 L83.5 133.72 L83.75 133.46 L84 133.59 L84.25 133.59 L84.5 133.67 L84.75 133.67 L85 133.55 L85.25 133.73 L85.5 133.51 L85.75 133.49 L86 133.69 L86.25 133.49 L86.5 133.51 L86.75 133.6 L87 133.55 L87.25 133.5 L87.5 133.73 L87.75 133.59 L88 133.69 L88.25 133.53 L88.5 133.72 L88.75 133.52 L89 133.72 L89.25 133.63 L89.5 133.74 L89.75 133.68 L90 133.64 L90.25 133.61 L90.5 133.71 L90.75 133.58 L91 133.48 L91.25 133.72 L91.5 133.69 L91.75 133.65 L92 133.67 L92.25 133.52 L92.5 133.59 L92.75 133.7 L93 133.74 L93.25 133.73 L93.5 133.5 L93.75 133.66 L94 133.62 L94.25 133.57 L94.5 133.5 L94.75 133.49 L95 133.59 L95.25 133.6 L95.5 133.53 L95.75 133.56 L96 133.62 L96.25 133.68 L96.5 133.63 L96.75 133.5 L97 133.72 L97.25 133.56 L97.5 133.74 L97.75 133.74 L98 133.49 L98.25 133.62 L98.5 133.74 L98.75 133.57 L99 133.61 L99.25 133.54 L99.5 133.46 L99.75 133.51 L100 133.49 L100.25 133.54 L100.5 133.64 L100.75 133.62 L101 133.73 L101.25 133.66 L101.5 133.56 L101.75 133.73 L102 133.64 L102.25 133.61 L102.5 133.71 L102.75 133.65 L103 133.56 L103.25 133.63 L103.5 133.54 L103.75 133.74 L104 133.52 L104.25 133.74 L104.5 133.47 L104.75 133.45 L105 133.62 L105.25 133.51 L105.5 133.6 L105.75 133.49 L106 133.7 L106.25 133.65 L106.5 133.66 L106.75 133.73 L107 133.75 L107.25 133.65 L107.5 133.66 L107.75 133.45 L108 133.46 L108.25 133.58 L108.5 133.74 L108.75 133.54 L109 133.62 L109.25 133.45 L109.5 133.57 L109.75 133.72 L110 133.63 L110.25 133.7 L110.5 133.45 L110.75 133.51 L111 133.5 L111.25 133.7 L111.5 133.48 L111.75 133.73 L112 133.53 L112.25 133.71 L112.5 133.6 L112.75 133.55 L113 133.74 L113.25 133.57 L113.5 133.66 L113.75 133.47 L114 133.7 L114.25 133.74 L114.5 133.48 L114.75 133.67 L115 133.53 L115.25 133.49 L115.5 133.56 L115.75 133.65 L116 133.74 L116.25 133.75 L116.5 133.75 L116.75 133.64 L117 133.65 L117.25 133.5 L117.5 133.67 L117.75 133.62 L118 133.56 L118.25 133.72 L118.5 133.53 L118.75 133.49 L119 133.5 L119.25 133.49 L119.5 133.63 L119.75 133.69 L120 133.5 L120.25 133.6 L120.5 133.62 L120.75 133.62 L121 133.57 L121.25 133.61 L121.5 133.45 L121.75 133.47 L122 133.58 L122.25 133.52 L122.5 133.68 L122.75 133.52 L123 133.7 L123.25 133.52 L123.5 133.48 L123.75 133.59 L124 133.57 L124.25 133.55 L124.5 133.68 L124.75 133.52 L125 133.65 L125.25 133.7 L125.5 133.59 L125.75 133.6 L126 133.73 L126.25 133.63 L126.5 133.5 L126.75 133.47 L127 133.47 L127.25 133.55 L127.5 133.48 L127.75 133.64 L128 133.58 L128.25 133.54 L128.5 133.6 L128.75 133.73 L129 133.52 L129.25 133.5 L129.5 133.54 L129.75 133.55 L130 133.72 L130.25 133.66 L130.5 133.58 L130.75 133.5 L131 133.46 L131.25 133.49 L131.5 133.7 L131.75 133.64 L132 133.5 L132.25 133.64 L132.5 133.47 L132.75 133.6 L133 133.55 L133.25 133.48 L133.5 133.67 L133.75 133.67 L134 133.6 L134.25 133.5 L134.5 133.65 L134.75 133.58 L135 133.65 L135.25 133.48 L135.5 133.72 L135.75 133.45 L136 133.52 L136.25 133.57 L136.5 133.51 L136.75 133.48 L137 133.66 L137.25 133.75 L137.5 133.55 L137.75 133.53 L138 133.65 L138.25 133.52 L138.5 133.57 L138.75 133.66 L139 133.58 L139.25 133.5 L139.5 133.47 L139.75 133.61 L140 133.75 L140.25 133.73 L140.5 133.48 L140.75 133.6 L141 133.6 L141.25 133.51 L141.5 133.65 L141.75 133.6 L142 133.69 L142.25 133.54 L142.5 133.73 L142.75 133.69 L143 133.59 L143.25 133.49 L143.5 133.6 L143.75 133.49 L144 133.66 L144.25 133.66 L144.5 133.62 L144.75 133.74 L145 133.46 L145.25 133.66 L145.5 133.69 L145.75 133.48 L146 133.55 L146.25 133.47 L146.5 133.62 L146.75 133.67 L147 133.55 L147.25 133.66 L147.5 133.56 L147.75 133.66 L148 133.53 L148.25 133.74 L148.5 133.58 L148.75 133.45 L149 133.48 L149.25 133.67 L149.5 133.71 L149.75 133.64 L150 133.5 L150.25 133.71 L150.5 133.67 L150.75 133.48 L151 133.56 L151.25 133.65 L151.5 133.45 L151.75 133.46 L152 133.56 L152.25 133.71 L152.5 133.75 L152.75 133.55 L153 133.72 L153.25 133.69 L153.5 133.71 L153.75 133.63 L154 133.74 L154.25 133.64 L154.5 133.73 L154.75 133.62 L155 133.51 L155.25 133.61 L155.5 133.59 L155.75 133.55 L156 133.56 L156.25 133.6 L156.5 133.63 L156.75 133.52 L157 133.53 L157.25 133.6 L157.5 133.6 L157.75 133.58 L158 133.65 L158.25 133.51 L158.5 133.61 L158.75 133.53 L159 133.68 L159.25 133.66 L159.5 133.68 L159.75 133.61 L160 133.52 L160.25 133.73 L160.5 133.6 L160.75 133.56 L161 133.54 L161.25 133.57 L161.5 133.66 L161.75 133.7 L162 133.59 L162.25 133.67 L162.5 133.51 L162.75 133.59 L163 133.56 L163.25 133.54 L163.5 133.56 L163.75 133.68 L164 133.67 L164.25 133.51 L164.5 133.52 L164.75 133.69 L165 133.65 L165.25 133.65 L165.5 133.64 L165.75 133.66 L166 133.53 L166.25 133.47 L166.5 133.56 L166.75 133.46 L167 133.74 L167.25 133.61 L167.5 133.65 L167.75 133.74 L168 133.69 L168.25 133.52 L168.5 133.55 L168.75 133.48 L169 133.69 L169.25 133.67 L169.5 133.6 L169.75 133.56 L170 133.53 L170.25 133.6 L170.5 133.66 L170.75 133.72 L171 133.7 L171.25 133.71 L171.5 133.58 L171.75 133.58 L172 133.54 L172.25 133.74 L172.5 133.51 L172.75 133.5 L173 133.53 L173.25 133.73 L173.5 133.71 L173.75 133.55 L174 133.71 L174.25 133.72 L174.5 133.58 L174.75 133.51 L175 133.68 L175.25 133.56 L175.5 133.49 L175.75 133.72 L176 133.58 L176.25 133.57 L176.5 133.63 L176.75 133.53 L177 133.46 L177.25 133.57 L177.5 133.56 L177.75 133.45 L178 133.56 L178.25 133.68 L178.5 133.55 L178.75 133.65 L179 133.64 L179.25 133.51 L179.5 133.46 L179.75 133.65 L180 133.63 L180.25 133.54 L180.5 133.51 L180.75 133.71 L181 133.72 L181.25 133.52 L181.5 133.63 L181.75 133.62 L182 133.55 L182.25 133.46 L182.5 133.55 L182.75 133.64 L183 133.63 L183.25 133.6 L183.5 133.49 L183.75 133.51 L184 133.54 L184.25 133.57 L184.5 133.56 L184.75 133.72 L185 133.48 L185.25 133.75 L185.5 133.52 L185.75 133.71 L186 133.52 L186.25 133.63 L186.5 133.56 L186.75 133.46 L187 133.69 L187.25 133.69 L187.5 133.53 L187.75 133.68 L188 133.59 L188.25 133.75 L188.5 133.47 L188.75 133.56 L189 133.52 L189.25 133.64 L189.5 133.68 L189.75 133.7 L190 133.61 L190.25 133.57 L190.5 133.69 L190.75 133.48 L191 133.53 L191.25 133.68 L191.5 133.58 L191.75 133.75 L192 133.48 L192.25 133.59 L192.5 133.51 L192.75 133.45 L193 133.48 L193.25 133.48 L193.5 133.56 L193.75 133.58 L194 133.6 L194.25 133.54 L194.5 133.66 L194.75 133.6 L195 133.74 L195.25 133.5 L195.5 133.6 L195.75 133.6 L196 133.56 L196.25 133.71 L196.5 133.51 L196.75 133.71 L197 133.56 L197.25 133.55 L197.5 133.63 L197.75 133.62 L198 133.54 L198.25 133.48 L198.5 133.74 L198.75 133.56 L199 133.48 L199.25 133.65 L199.5 133.61 L199.75 133.55 L200 133.55 L200.25 133.7 L200.5 133.55 L200.75 133.58 L201 133.74 L201.25 133.56 L201.5 133.57 L201.75 133.5 L202 133.65 L202.25 133.65 L202.5 133.58 L202.75 133.57 L203 133.52 L203.25 133.69 L203.5 133.59 L203.75 133.7 L204 133.56 L204.25 133.67 L204.5 133.46 L204.75 133.52 L205 133.74 L205.25 133.65 L205.5 133.65 L205.75 133.6 L206 133.59 L206.25 133.51 L206.5 133.5 L206.75 133.64 L207 133.66 L207.25 133.53 L207.5 133.64 L207.75 133.49 L208 133.63 L208.25 133.5 L208.5 133.6 L208.75 133.54 L209 133.62 L209.25 133.49 L209.5 133.6 L209.75 133.63 L210 133.49 L210.25 133.54 L210.5 133.65 L210.75 133.61 L211 133.64 L211.25 133.68 L211.5 133.62 L211.75 133.52 L212 133.58 L212.25 133.7 L212.5 133.62 L212.75 133.68 L213 133.56 L213.25 133.58 L213.5 133.74 L213.75 133.7 L214 133.65 L214.25 133.48 L214.5 133.63 L214.75 133.46 L215 133.73 L215.25 133.74 L215.5 133.67 L215.75 133.53 L216 133.7 L216.25 133.5 L216.5 133.7 L216.75 133.61 L217 133.45 L217.25 133.72 L217.5 133.58 L217.75 133.7 L218 133.66 L218.25 133.61 L218.5 133.71 L218.75 133.51 L219 133.72 L219.25 133.55 L219.5 133.46 L219.75 133.55 L220 133.47 L220.25 133.47 L220.5 133.64 L220.75 133.49 L221 133.5 L221.25 133.54 L221.5 133.53 L221.75 133.73 L222 133.72 L222.25 133.71 L222.5 133.75 L222.75 133.58 L223 133.69 L223.25 133.53 L223.5 133.73 L223.75 133.69 L224 133.67 L224.25 133.52 L224.5 133.48 L224.75 133.73 L225 133.62 L225.25 133.63 L225.5 133.71 L225.75 133.49 L226 133.66 L226.25 133.59 L226.5 133.69 L226.75 133.59 L227 133.51 L227.25 133.74 L227.5 133.53 L227.75 133.67 L228 133.7 L228.25 133.52 L228.5 133.66 L228.75 133.57 L229 133.52 L229.25 133.52 L229.5 133.74 L229.75 133.56 L230 133.6 L230.25 133.6 L230.5 133.46 L230.75 133.68 L231 133.67 L231.25 133.71 L231.5 133.56 L231.75 133.51 L232 133.55 L232.25 133.67 L232.5 133.65 L232.75 133.57 L233 133.61 L233.25 133.5 L233.5 133.73 L233.75 133.59 L234 133.6 L234.25 133.69 L234.5 133.51 L234.75 133.67 L235 133.56 L235.25 133.69 L235.5 133.48 L235.75 133.53 L236 133.64 L236.25 133.59 L236.5 133.56 L236.75 133.62 L237 133.52 L237.25 133.58 L237.5 133.45 L237.75 133.69 L238 133.53 L238.25 133.7 L238.5 133.62 L238.75 133.63 L239 133.64 L239.25 133.49 L239.5 133.68 L239.75 133.54 L240 133.71 L240.25 133.69 L240.5 133.65 L240.75 133.69 L241 133.58 L241.25 133.65 L241.5 133.74 L241.75 133.51 L242 133.48 L242.25 133.57 L242.5 133.6 L242.75 133.49 L243 133.52 L243.25 133.71 L243.5 133.57 L243.75 133.49 L244 133.5 L244.25 133.62 L244.5 133.51 L244.75 133.59 L245 133.61 L245.25 133.58 L245.5 133.6 L245.75 133.7 L246 133.46 L246.25 133.73 L246.5 133.51 L246.75 133.46 L247 133.68 L247.25 133.62 L247.5 133.61 L247.75 133.52 L248 133.68 L248.25 133.54 L248.5 133.67 L248.75 133.52 L249 133.62 L249.25 133.64 L249.5 133.56 L249.75 133.59 L250 133.47 L250.25 133.64 L250.5 133.66 L250.75 133.5 L251 133.62 L251.25 133.67" fill="none" stroke="#2463e0" stroke-width="1.25" stroke-linejoin="round"/>
<path d="M17.5 148.79 L17.75 148.93 L18 148.92 L18.25 148.75 L18.5 148.77 L18.75 148.73 L19 148.75 L19.25 148.7 L19.5 148.77 L19.75 148.71 L20 148.71 L20.25 148.73 L20.5 148.69 L20.75 148.76 L21 148.74 L21.25 148.6 L21.5 148.61 L21.75 148.55 L22 148.61 L22.25 148.55 L22.5 148.65 L22.75 148.65 L23 148.68 L23.25 148.51 L23.5 148.46 L23.75 148.59 L24 148.51 L24.25 148.6 L24.5 148.48 L24.75 148.45 L25 148.38 L25.25 148.55 L25.5 148.44 L25.75 148.41 L26 148.4 L26.25 148.45 L26.5 148.45 L26.75 148.36 L27 148.29 L27.25 148.32 L27.5 148.4 L27.75 148.29 L28 148.32 L28.25 148.29 L28.5 148.25 L28.75 148.26 L29 148.18 L29.25 148.23 L29.5 148.27 L29.75 148.1 L30 148.14 L30.25 148.23 L30.5 148.23 L30.75 148.02 L31 148.13 L31.25 148.12 L31.5 148.14 L31.75 148.05 L32 147.97 L32.25 147.99 L32.5 148.05 L32.75 148.04 L33 147.92 L33.25 147.99 L33.5 147.98 L33.75 147.96 L34 147.82 L34.25 147.89 L34.5 147.85 L34.75 147.89 L35 147.82 L35.25 147.76 L35.5 147.85 L35.75 147.76 L36 147.85 L36.25 147.73 L36.5 147.76 L36.75 147.8 L37 147.65 L37.25 147.75 L37.5 147.6 L37.75 147.76 L38 147.56 L38.25 147.69 L38.5 147.6 L38.75 147.55 L39 147.57 L39.25 147.58 L39.5 147.55 L39.75 147.47 L40 147.54 L40.25 147.48 L40.5 147.59 L40.75 147.46 L41 147.46 L41.25 147.4 L41.5 147.53 L41.75 147.39 L42 147.44 L42.25 147.46 L42.5 147.36 L42.75 147.41 L43 147.3 L43.25 147.25 L43.5 147.22 L43.75 147.29 L44 147.36 L44.25 147.21 L44.5 147.24 L44.75 147.29 L45 147.18 L45.25 147.14 L45.5 147.2 L45.75 147.17 L46 147.26 L46.25 147.24 L46.5 147.09 L46.75 147.14 L47 147.1 L47.25 147.01 L47.5 147.08 L47.75 147.16 L48 147.02 L48.25 147.06 L48.5 147.07 L48.75 146.93 L49 147.09 L49.25 146.92 L49.5 146.94 L49.75 147.01 L50 146.86 L50.25 146.92 L50.5 146.86 L50.75 146.91 L51 146.81 L51.25 146.82 L51.5 146.83 L51.75 146.79 L52 146.78 L52.25 146.79 L52.5 146.84 L52.75 146.75 L53 146.88 L53.25 146.79 L53.5 146.74 L53.75 146.73 L54 146.84 L54.25 146.67 L54.5 146.8 L54.75 146.66 L55 146.82 L55.25 146.71 L55.5 146.73 L55.75 146.78 L56 146.62 L56.25 146.6 L56.5 146.72 L56.75 146.69 L57 146.71 L57.25 146.61 L57.5 146.64 L57.75 146.58 L58 146.62 L58.25 146.58 L58.5 146.63 L58.75 146.57 L59 146.56 L59.25 146.62 L59.5 146.5 L59.75 146.64 L60 146.57 L60.25 146.51 L60.5 146.49 L60.75 146.56 L61 146.55 L61.25 146.59 L61.5 146.52 L61.75 146.52 L62 146.61 L62.25 146.48 L62.5 146.62 L62.75 146.6 L63 146.61 L63.25 146.6 L63.5 146.46 L63.75 146.57 L64 146.52 L64.25 146.44 L64.5 146.6 L64.75 146.53 L65 146.56 L65.25 146.51 L65.5 146.42 L65.75 146.58 L66 146.44 L66.25 146.46 L66.5 146.53 L66.75 146.45 L67 146.51 L67.25 146.56 L67.5 146.44 L67.75 146.55 L68 146.44 L68.25 146.52 L68.5 146.56 L68.75 146.57 L69 146.45 L69.25 146.48 L69.5 146.64 L69.75 146.53 L70 146.54 L70.25 146.53 L70.5 146.6 L70.75 146.62 L71 146.6 L71.25 146.56 L71.5 146.6 L71.75 146.59 L72 146.53 L72.25 146.69 L72.5 146.7 L72.75 146.67 L73 146.72 L73.25 146.62 L73.5 146.7 L73.75 146.59 L74 146.69 L74.25 146.7 L74.5 146.75 L74.75 146.73 L75 146.75 L75.25 146.64 L75.5 146.75 L75.75 146.69 L76 146.67 L76.25 146.69 L76.5 146.78 L76.75 146.8 L77 146.81 L77.25 146.78 L77.5 146.69 L77.75 146.7 L78 146.79 L78.25 146.73 L78.5 146.76 L78.75 146.73 L79 146.75 L79.25 146.87 L79.5 146.78 L79.75 146.91 L80 146.82 L80.25 146.93 L80.5 146.84 L80.75 146.84 L81 146.88 L81.25 146.81 L81.5 146.91 L81.75 146.9 L82 146.84 L82.25 147.02 L82.5 146.94 L82.75 146.87 L83 147.08 L83.25 146.94 L83.5 146.96 L83.75 146.92 L84 146.95 L84.25 147.08 L84.5 147.07 L84.75 147.07 L85 147.03 L85.25 147.05 L85.5 147.2 L85.75 147.09 L86 147.22 L86.25 147.22 L86.5 147.08 L86.75 147.23 L87 147.08 L87.25 147.23 L87.5 147.26 L87.75 147.25 L88 147.24 L88.25 147.3 L88.5 147.18 L88.75 147.27 L89 147.23 L89.25 147.27 L89.5 147.24 L89.75 147.36 L90 147.34 L90.25 147.4 L90.5 147.38 L90.75 147.39 L91 147.46 L91.25 147.45 L91.5 147.42 L91.75 147.38 L92 147.52 L92.25 147.42 L92.5 147.38 L92.75 147.43 L93 147.52 L93.25 147.58 L93.5 147.54 L93.75 147.55 L94 147.62 L94.25 147.6 L94.5 147.55 L94.75 147.56 L95 147.64 L95.25 147.56 L95.5 147.53 L95.75 147.65 L96 147.7 L96.25 147.6 L96.5 147.7 L96.75 147.75 L97 147.61 L97.25 147.62 L97.5 147.71 L97.75 147.69 L98 147.82 L98.25 147.85 L98.5 147.75 L98.75 147.83 L99 147.81 L99.25 147.73 L99.5 147.9 L99.75 147.76 L100 147.75 L100.25 147.83 L100.5 147.76 L100.75 147.86 L101 147.86 L101.25 147.98 L101.5 147.89 L101.75 147.99 L102 147.98 L102.25 147.96 L102.5 147.9 L102.75 147.92 L103 147.97 L103.25 147.96 L103.5 148.02 L103.75 148.01 L104 147.98 L104.25 148.05 L104.5 148.14 L104.75 147.99 L105 148.03 L105.25 147.97 L105.5 148 L105.75 148 L106 148.09 L106.25 148.18 L106.5 148.16 L106.75 148.23 L107 148.21 L107.25 148.17 L107.5 148.18 L107.75 148.08 L108 148.16 L108.25 148.15 L108.5 148.23 L108.75 148.13 L109 148.23 L109.25 148.21 L109.5 148.24 L109.75 148.23 L110 148.18 L110.25 148.32 L110.5 148.34 L110.75 148.31 L111 148.22 L111.25 148.33 L111.5 148.39 L111.75 148.42 L112 148.38 L112.25 148.25 L112.5 148.42 L112.75 148.39 L113 148.32 L113.25 148.46 L113.5 148.45 L113.75 148.47 L114 148.35 L114.25 148.42 L114.5 148.39 L114.75 148.38 L115 148.48 L115.25 148.46 L115.5 148.41 L115.75 148.46 L116 148.54 L116.25 148.48 L116.5 148.55 L116.75 148.49 L117 148.58 L117.25 148.4 L117.5 148.49 L117.75 148.52 L118 148.56 L118.25 148.61 L118.5 148.55 L118.75 148.53 L119 148.56 L119.25 148.55 L119.5 148.59 L119.75 148.65 L120 148.46 L120.25 148.53 L120.5 148.65 L120.75 148.49 L121 148.64 L121.25 148.5 L121.5 148.63 L121.75 148.66 L122 148.55 L122.25 148.59 L122.5 148.56 L122.75 148.66 L123 148.63 L123.25 148.65 L123.5 148.6 L123.75 148.66 L124 148.74 L124.25 148.71 L124.5 148.75 L124.75 148.61 L125 148.67 L125.25 148.65 L125.5 148.64 L125.75 148.74 L126 148.62 L126.25 148.7 L126.5 148.75 L126.75 148.78 L127 148.6 L127.25 148.66 L127.5 148.71 L127.75 148.8 L128 148.65 L128.25 148.79 L128.5 148.7 L128.75 148.73 L129 148.81 L129.25 148.65 L129.5 148.7 L129.75 148.67 L130 148.67 L130.25 148.71 L130.5 148.79 L130.75 148.77 L131 148.68 L131.25 148.82 L131.5 148.76 L131.75 148.69 L132 148.83 L132.25 148.83 L132.5 148.72 L132.75 148.86 L133 148.84 L133.25 148.73 L133.5 148.68 L133.75 148.86 L134 148.85 L134.25 148.71 L134.5 148.85 L134.75 148.85 L135 148.82 L135.25 148.87 L135.5 148.9 L135.75 148.77 L136 148.87 L136.25 148.89 L136.5 148.77 L136.75 148.85 L137 148.85 L137.25 148.89 L137.5 148.83 L137.75 148.77 L138 148.77 L138.25 148.83 L138.5 148.75 L138.75 148.9 L139 148.91 L139.25 148.78 L139.5 148.87 L139.75 148.87 L140 148.76 L140.25 148.89 L140.5 148.89 L140.75 148.8 L141 148.76 L141.25 148.8 L141.5 148.9 L141.75 148.84 L142 148.91 L142.25 148.78 L142.5 148.77 L142.75 148.82 L143 148.93 L143.25 148.79 L143.5 148.77 L143.75 148.91 L144 148.77 L144.25 148.89 L144.5 148.77 L144.75 148.81 L145 148.89 L145.25 148.94 L145.5 148.84 L145.75 148.85 L146 148.77 L146.25 148.83 L146.5 148.81 L146.75 148.92 L147 148.91 L147.25 148.93 L147.5 148.88 L147.75 148.91 L148 148.8 L148.25 148.85 L148.5 148.83 L148.75 148.83 L149 148.92 L149.25 148.82 L149.5 148.84 L149.75 148.83 L150 148.95 L150.25 148.9 L150.5 148.87 L150.75 148.85 L151 148.96 L151.25 148.97 L151.5 148.87 L151.75 148.89 L152 148.95 L152.25 148.83 L152.5 148.83 L152.75 148.8 L153 148.88 L153.25 148.94 L153.5 148.82 L153.75 148.87 L154 148.98 L154.25 148.88 L154.5 148.86 L154.75 148.95 L155 148.96 L155.25 148.86 L155.5 148.81 L155.75 148.91 L156 148.94 L156.25 148.97 L156.5 148.92 L156.75 148.85 L157 148.89 L157.25 148.85 L157.5 148.88 L157.75 148.88 L158 148.97 L158.25 148.97 L158.5 148.98 L158.75 148.89 L159 148.98 L159.25 148.82 L159.5 148.98 L159.75 148.92 L160 148.97 L160.25 148.88 L160.5 148.99 L160.75 148.8 L161 148.96 L161.25 148.96 L161.5 148.87 L161.75 148.96 L162 148.84 L162.25 148.94 L162.5 148.89 L162.75 148.88 L163 148.83 L163.25 148.95 L163.5 148.94 L163.75 148.81 L164 148.99 L164.25 148.84 L164.5 148.87 L164.75 148.88 L165 148.91 L165.25 148.97 L165.5 148.99 L165.75 148.92 L166 148.87 L166.25 148.82 L166.5 148.81 L166.75 148.9 L167 148.91 L167.25 148.89 L167.5 148.99 L167.75 148.88 L168 148.87 L168.25 148.88 L168.5 148.83 L168.75 148.99 L169 148.92 L169.25 148.91 L169.5 148.88 L169.75 148.85 L170 148.86 L170.25 148.9 L170.5 148.89 L170.75 148.99 L171 148.91 L171.25 148.84 L171.5 148.81 L171.75 148.83 L172 148.87 L172.25 148.95 L172.5 148.98 L172.75 148.85 L173 148.95 L173.25 148.89 L173.5 148.91 L173.75 148.91 L174 148.81 L174.25 148.81 L174.5 148.93 L174.75 148.94 L175 148.87 L175.25 148.98 L175.5 148.96 L175.75 148.86 L176 148.81 L176.25 148.91 L176.5 148.93 L176.75 148.84 L177 148.81 L177.25 148.9 L177.5 148.81 L177.75 148.95 L178 148.92 L178.25 148.86 L178.5 148.89 L178.75 148.85 L179 148.84 L179.25 148.84 L179.5 148.96 L179.75 148.89 L180 148.94 L180.25 148.87 L180.5 148.96 L180.75 148.92 L181 148.93 L181.25 148.88 L181.5 148.91 L181.75 148.84 L182 148.99 L182.25 148.93 L182.5 148.91 L182.75 148.93 L183 148.82 L183.25 148.87 L183.5 148.85 L183.75 148.97 L184 148.8 L184.25 148.89 L184.5 148.97 L184.75 148.96 L185 148.94 L185.25 148.86 L185.5 148.85 L185.75 148.94 L186 148.86 L186.25 148.94 L186.5 148.87 L186.75 148.95 L187 148.91 L187.25 148.96 L187.5 149 L187.75 148.88 L188 149 L188.25 148.8 L188.5 148.98 L188.75 148.81 L189 148.91 L189.25 148.88 L189.5 148.95 L189.75 148.86 L190 148.84 L190.25 148.96 L190.5 148.91 L190.75 148.95 L191 148.9 L191.25 148.81 L191.5 148.95 L191.75 148.84 L192 148.89 L192.25 148.8 L192.5 148.85 L192.75 148.93 L193 148.95 L193.25 148.93 L193.5 148.89 L193.75 148.95 L194 148.93 L194.25 148.84 L194.5 148.91 L194.75 148.92 L195 148.95 L195.25 148.84 L195.5 148.86 L195.75 148.87 L196 148.82 L196.25 148.87 L196.5 148.95 L196.75 148.92 L197 148.83 L197.25 148.95 L197.5 148.82 L197.75 148.95 L198 148.83 L198.25 148.82 L198.5 148.85 L198.75 148.9 L199 148.85 L199.25 148.98 L199.5 148.99 L199.75 148.86 L200 148.95 L200.25 148.94 L200.5 148.91 L200.75 148.85 L201 148.99 L201.25 148.99 L201.5 148.8 L201.75 148.87 L202 148.86 L202.25 148.84 L202.5 148.89 L202.75 148.98 L203 148.8 L203.25 148.97 L203.5 148.86 L203.75 148.8 L204 148.98 L204.25 148.85 L204.5 148.84 L204.75 148.82 L205 148.87 L205.25 148.82 L205.5 148.84 L205.75 148.85 L206 148.92 L206.25 148.89 L206.5 148.86 L206.75 148.91 L207 148.95 L207.25 148.94 L207.5 148.87 L207.75 148.98 L208 148.96 L208.25 148.91 L208.5 148.9 L208.75 148.87 L209 148.83 L209.25 148.98 L209.5 148.92 L209.75 148.82 L210 148.99 L210.25 148.98 L210.5 148.81 L210.75 148.94 L211 148.85 L211.25 148.91 L211.5 148.97 L211.75 148.87 L212 148.9 L212.25 148.93 L212.5 148.84 L212.75 148.93 L213 148.89 L213.25 149 L213.5 148.84 L213.75 148.94 L214 148.81 L214.25 148.85 L214.5 148.82 L214.75 148.83 L215 148.91 L215.25 148.83 L215.5 148.96 L215.75 148.82 L216 148.92 L216.25 148.97 L216.5 148.83 L216.75 148.84 L217 148.95 L217.25 148.89 L217.5 148.99 L217.75 148.87 L218 148.88 L218.25 148.99 L218.5 148.87 L218.75 148.99 L219 148.98 L219.25 148.84 L219.5 148.91 L219.75 148.99 L220 148.82 L220.25 148.97 L220.5 148.95 L220.75 148.95 L221 148.92 L221.25 148.82 L221.5 148.99 L221.75 148.82 L222 148.96 L222.25 148.94 L222.5 148.86 L222.75 148.94 L223 148.88 L223.25 148.95 L223.5 148.81 L223.75 148.99 L224 148.88 L224.25 148.96 L224.5 148.89 L224.75 148.96 L225 148.86 L225.25 148.91 L225.5 148.81 L225.75 148.9 L226 148.82 L226.25 148.97 L226.5 148.94 L226.75 148.89 L227 148.99 L227.25 148.99 L227.5 148.99 L227.75 148.82 L228 148.94 L228.25 148.95 L228.5 148.92 L228.75 148.8 L229 148.98 L229.25 148.89 L229.5 148.92 L229.75 148.96 L230 148.86 L230.25 148.81 L230.5 148.98 L230.75 148.85 L231 148.81 L231.25 148.83 L231.5 149 L231.75 148.95 L232 148.84 L232.25 148.83 L232.5 148.98 L232.75 148.93 L233 148.92 L233.25 148.83 L233.5 148.88 L233.75 148.99 L234 148.8 L234.25 148.88 L234.5 148.81 L234.75 149 L235 148.82 L235.25 148.99 L235.5 148.97 L235.75 148.95 L236 148.81 L236.25 148.94 L236.5 148.9 L236.75 148.9 L237 148.83 L237.25 148.9 L237.5 148.96 L237.75 148.83 L238 148.98 L238.25 148.88 L238.5 148.85 L238.75 148.85 L239 148.89 L239.25 148.93 L239.5 148.91 L239.75 148.98 L240 148.9 L240.25 148.9 L240.5 149 L240.75 148.84 L241 148.8 L241.25 148.87 L241.5 148.86 L241.75 148.82 L242 148.88 L242.25 148.81 L242.5 148.98 L242.75 148.9 L243 148.98 L243.25 148.94 L243.5 148.95 L243.75 148.95 L244 148.86 L244.25 148.95 L244.5 148.84 L244.75 148.91 L245 148.92 L245.25 148.96 L245.5 148.83 L245.75 148.87 L246 148.96 L246.25 148.96 L246.5 149 L246.75 148.82 L247 148.84 L247.25 148.82 L247.5 148.94 L247.75 148.95 L248 148.93 L248.25 148.96 L248.5 148.9 L248.75 148.91 L249 148.98 L249.25 148.93 L249.5 148.93 L249.75 148.92 L250 148.9 L250.25 148.95 L250.5 148.91 L250.75 148.83 L251 148.89 L251.25 148.88" fill="none" stroke="#f04a4a" stroke-width="1.25" stroke-linejoin="round"/>
<path d="M17.5 179.38 L17.75 179.42 L18 179.36 L18.25 179.37 L18.5 179.38 L18.75 179.36 L19 179.54 L19.25 179.28 L19.5 179.26 L19.75 179.47 L20 179.37 L20.25 179.38 L20.5 179.43 L20.75 179.36 L21 179.32 L21.25 179.25 L21.5 179.51 L21.75 179.53 L22 179.34 L22.25 179.39 L22.5 179.35 L22.75 179.27 L23 179.52 L23.25 179.5 L23.5 179.32 L23.75 179.33 L24 179.46 L24.25 179.49 L24.5 179.39 L24.75 179.37 L25 179.32 L25.25 179.49 L25.5 179.51 L25.75 179.51 L26 179.28 L26.25 179.43 L26.5 179.55 L26.75 179.46 L27 179.39 L27.25 179.29 L27.5 179.27 L27.75 179.47 L28 179.27 L28.25 179.49 L28.5 179.45 L28.75 179.39 L29 179.52 L29.25 179.53 L29.5 179.43 L29.75 179.28 L30 179.43 L30.25 179.38 L30.5 179.32 L30.75 179.53 L31 179.47 L31.25 179.29 L31.5 179.32 L31.75 179.35 L32 179.42 L32.25 179.35 L32.5 179.38 L32.75 179.49 L33 179.3 L33.25 179.47 L33.5 179.35 L33.75 179.53 L34 179.54 L34.25 179.35 L34.5 179.43 L34.75 179.28 L35 179.37 L35.25 179.44 L35.5 179.44 L35.75 179.35 L36 179.26 L36.25 179.29 L36.5 179.42 L36.75 179.3 L37 179.34 L37.25 179.44 L37.5 179.52 L37.75 179.4 L38 179.33 L38.25 179.43 L38.5 179.33 L38.75 179.48 L39 179.3 L39.25 179.33 L39.5 179.38 L39.75 179.52 L40 179.3 L40.25 179.31 L40.5 179.29 L40.75 179.31 L41 179.35 L41.25 179.37 L41.5 179.48 L41.75 179.37 L42 179.39 L42.25 179.37 L42.5 179.48 L42.75 179.52 L43 179.38 L43.25 179.53 L43.5 179.33 L43.75 179.54 L44 179.41 L44.25 179.45 L44.5 179.36 L44.75 179.33 L45 179.29 L45.25 179.52 L45.5 179.36 L45.75 179.46 L46 179.39 L46.25 179.41 L46.5 179.31 L46.75 179.3 L47 179.35 L47.25 179.45 L47.5 179.41 L47.75 179.25 L48 179.46 L48.25 179.38 L48.5 179.27 L48.75 179.33 L49 179.31 L49.25 179.5 L49.5 179.42 L49.75 179.35 L50 179.32 L50.25 179.34 L50.5 179.33 L50.75 179.35 L51 179.49 L51.25 179.49 L51.5 179.46 L51.75 179.52 L52 179.45 L52.25 179.28 L52.5 179.26 L52.75 179.3 L53 179.33 L53.25 179.41 L53.5 179.5 L53.75 179.43 L54 179.38 L54.25 179.32 L54.5 179.54 L54.75 179.48 L55 179.35 L55.25 179.26 L55.5 179.54 L55.75 179.33 L56 179.5 L56.25 179.29 L56.5 179.45 L56.75 179.36 L57 179.52 L57.25 179.34 L57.5 179.28 L57.75 179.31 L58 179.49 L58.25 179.54 L58.5 179.44 L58.75 179.45 L59 179.33 L59.25 179.33 L59.5 179.28 L59.75 179.55 L60 179.26 L60.25 179.43 L60.5 179.35 L60.75 179.31 L61 179.38 L61.25 179.53 L61.5 179.32 L61.75 179.3 L62 179.44 L62.25 179.45 L62.5 179.4 L62.75 179.3 L63 179.51 L63.25 179.28 L63.5 179.3 L63.75 179.32 L64 179.4 L64.25 179.39 L64.5 179.42 L64.75 179.47 L65 179.52 L65.25 179.39 L65.5 179.26 L65.75 179.49 L66 179.22 L66.25 179.18 L66.5 178.72 L66.75 177.88 L67 176.1 L67.25 173.39 L67.5 171.11 L67.75 170.31 L68 171.22 L68.25 173.38 L68.5 176.07 L68.75 177.93 L69 178.8 L69.25 179.13 L69.5 179.41 L69.75 179.34 L70 179.29 L70.25 179.3 L70.5 179.37 L70.75 179.29 L71 179.37 L71.25 179.42 L71.5 179.42 L71.75 179.37 L72 179.49 L72.25 179.28 L72.5 179.35 L72.75 179.53 L73 179.5 L73.25 179.49 L73.5 179.33 L73.75 178.89 L74 178.08 L74.25 176.37 L74.5 173.96 L74.75 171.9 L75 170.98 L75.25 172.09 L75.5 174.02 L75.75 176.32 L76 178.01 L76.25 178.76 L76.5 179.31 L76.75 179.45 L77 179.48 L77.25 179.51 L77.5 179.35 L77.75 179.29 L78 179.48 L78.25 179.46 L78.5 179.36 L78.75 179.35 L79 179.3 L79.25 179.5 L79.5 179.39 L79.75 179.49 L80 179.35 L80.25 179.35 L80.5 179.4 L80.75 179.47 L81 179.51 L81.25 179.36 L81.5 179.46 L81.75 179.37 L82 179.51 L82.25 179.48 L82.5 179.42 L82.75 179.36 L83 179.33 L83.25 179.52 L83.5 179.49 L83.75 179.34 L84 179.28 L84.25 179.31 L84.5 179.54 L84.75 179.25 L85 179.44 L85.25 179.22 L85.5 178.91 L85.75 178.31 L86 177.45 L86.25 176.73 L86.5 176.28 L86.75 176.84 L87 177.36 L87.25 178.19 L87.5 178.94 L87.75 179.26 L88 179.44 L88.25 179.44 L88.5 179.53 L88.75 179.27 L89 179.25 L89.25 179.32 L89.5 179.48 L89.75 179.3 L90 179.41 L90.25 179.48 L90.5 179.3 L90.75 179.41 L91 179.52 L91.25 179.47 L91.5 179.37 L91.75 179.39 L92 179.33 L92.25 179.54 L92.5 179.48 L92.75 179.45 L93 179.34 L93.25 179.47 L93.5 179.4 L93.75 179.49 L94 179.36 L94.25 179.51 L94.5 179.46 L94.75 179.39 L95 179.42 L95.25 179.49 L95.5 179.41 L95.75 179.54 L96 179.25 L96.25 179.5 L96.5 179.34 L96.75 178.88 L97 177.76 L97.25 174.56 L97.5 169.05 L97.75 161.51 L98 154.44 L98.25 151.36 L98.5 154.49 L98.75 161.49 L99 168.96 L99.25 174.55 L99.5 177.53 L99.75 178.91 L100 179.23 L100.25 179.31 L100.5 179.38 L100.75 179.27 L101 179.52 L101.25 179.5 L101.5 179.42 L101.75 179.38 L102 179.34 L102.25 179.43 L102.5 179.35 L102.75 179.54 L103 179.54 L103.25 179.47 L103.5 179.49 L103.75 179.26 L104 179.21 L104.25 179.1 L104.5 178.61 L104.75 177.91 L105 176.98 L105.25 175.92 L105.5 175.54 L105.75 175.74 L106 176.75 L106.25 177.79 L106.5 178.66 L106.75 179.02 L107 179.34 L107.25 179.32 L107.5 179.45 L107.75 179.42 L108 179.43 L108.25 179.34 L108.5 179.47 L108.75 179.46 L109 179.46 L109.25 179.38 L109.5 179.33 L109.75 179.08 L110 178.41 L110.25 177.07 L110.5 174.38 L110.75 170.49 L111 167.2 L111.25 165.76 L111.5 167.2 L111.75 170.68 L112 174.34 L112.25 176.98 L112.5 178.48 L112.75 179.22 L113 179.49 L113.25 179.27 L113.5 179.25 L113.75 179.36 L114 179.35 L114.25 179.43 L114.5 179.28 L114.75 179.5 L115 179.35 L115.25 179.52 L115.5 179.35 L115.75 179.34 L116 179.3 L116.25 179.54 L116.5 179.43 L116.75 179.5 L117 179.27 L117.25 179.41 L117.5 179.47 L117.75 179.55 L118 179.53 L118.25 179.28 L118.5 179.36 L118.75 179.55 L119 179.41 L119.25 179.54 L119.5 179.33 L119.75 179.26 L120 179.53 L120.25 179.33 L120.5 179.42 L120.75 179.36 L121 179.42 L121.25 179.53 L121.5 179.53 L121.75 179.51 L122 179.33 L122.25 179.5 L122.5 179.26 L122.75 179.37 L123 179.53 L123.25 179.33 L123.5 179.36 L123.75 179.42 L124 179.32 L124.25 179.46 L124.5 179.45 L124.75 179.28 L125 179.53 L125.25 179.27 L125.5 179.46 L125.75 179.35 L126 179.26 L126.25 179.11 L126.5 179.01 L126.75 178.01 L127 176.17 L127.25 173.88 L127.5 171.71 L127.75 170.78 L128 171.58 L128.25 173.72 L128.5 176.19 L128.75 178.07 L129 178.93 L129.25 179.29 L129.5 179.47 L129.75 179.37 L130 179.42 L130.25 179.5 L130.5 179.3 L130.75 179.48 L131 179.12 L131.25 178.94 L131.5 178.15 L131.75 176.53 L132 174.72 L132.25 172.67 L132.5 171.81 L132.75 172.66 L133 174.62 L133.25 176.62 L133.5 177.98 L133.75 178.81 L134 179.31 L134.25 179.2 L134.5 179.13 L134.75 178.98 L135 178.4 L135.25 177.59 L135.5 176.62 L135.75 176.25 L136 176.79 L136.25 177.51 L136.5 178.26 L136.75 178.75 L137 179.19 L137.25 179.26 L137.5 179.38 L137.75 179.42 L138 178.97 L138.25 178.54 L138.5 178.18 L138.75 177.49 L139 177.32 L139.25 177.59 L139.5 178.26 L139.75 178.61 L140 179.01 L140.25 179.27 L140.5 179.26 L140.75 179.35 L141 179.41 L141.25 179.19 L141.5 179.07 L141.75 178.39 L142 177.68 L142.25 177.2 L142.5 176.89 L142.75 177.29 L143 177.68 L143.25 178.55 L143.5 179.03 L143.75 179.21 L144 179.24 L144.25 179.41 L144.5 179.43 L144.75 179.19 L145 178.69 L145.25 177.55 L145.5 175.29 L145.75 172.16 L146 169.24 L146.25 168.14 L146.5 169.35 L146.75 172.31 L147 175.41 L147.25 177.52 L147.5 178.65 L147.75 179.11 L148 179.39 L148.25 179.46 L148.5 179.32 L148.75 179.46 L149 179.55 L149.25 179.37 L149.5 179.53 L149.75 179.38 L150 179.45 L150.25 179.51 L150.5 179.31 L150.75 179.35 L151 179.55 L151.25 179.27 L151.5 179.34 L151.75 179.39 L152 179.47 L152.25 179.44 L152.5 179.53 L152.75 179.45 L153 179.25 L153.25 179.27 L153.5 179.26 L153.75 179.38 L154 179.26 L154.25 179.41 L154.5 179.44 L154.75 179.31 L155 179.51 L155.25 179.37 L155.5 179.54 L155.75 179.36 L156 179.43 L156.25 179.39 L156.5 179.22 L156.75 179 L157 177.62 L157.25 174.89 L157.5 169.69 L157.75 162.68 L158 155.91 L158.25 153.01 L158.5 155.85 L158.75 162.6 L159 169.84 L159.25 174.85 L159.5 177.85 L159.75 178.89 L160 179.29 L160.25 179.35 L160.5 179.38 L160.75 179.55 L161 179.53 L161.25 179.53 L161.5 179.47 L161.75 179.46 L162 179.29 L162.25 179.26 L162.5 179.5 L162.75 179.45 L163 179.44 L163.25 179.34 L163.5 179.33 L163.75 179.53 L164 179.41 L164.25 179.26 L164.5 179.35 L164.75 179.35 L165 179.27 L165.25 179.54 L165.5 179.52 L165.75 179.49 L166 179.25 L166.25 179.38 L166.5 179.28 L166.75 179.47 L167 179.49 L167.25 179.49 L167.5 179.49 L167.75 179.29 L168 179.25 L168.25 179.28 L168.5 179.5 L168.75 179.5 L169 179.4 L169.25 179.32 L169.5 179.51 L169.75 179.29 L170 179.35 L170.25 179.25 L170.5 179.54 L170.75 179.37 L171 179.48 L171.25 179.49 L171.5 179.42 L171.75 179.55 L172 179.48 L172.25 179.53 L172.5 179.54 L172.75 179.27 L173 179.48 L173.25 179.32 L173.5 179.35 L173.75 179.35 L174 179.54 L174.25 179.24 L174.5 179.29 L174.75 179.03 L175 179 L175.25 178.44 L175.5 178.12 L175.75 177.91 L176 178.14 L176.25 178.39 L176.5 178.82 L176.75 179.22 L177 179.37 L177.25 179.49 L177.5 179.34 L177.75 179.5 L178 179.47 L178.25 179.42 L178.5 179.37 L178.75 179.42 L179 179.27 L179.25 179.28 L179.5 179.34 L179.75 179.29 L180 179.26 L180.25 179.47 L180.5 179.47 L180.75 179.43 L181 179.31 L181.25 179.47 L181.5 179.5 L181.75 179.44 L182 179.32 L182.25 179.42 L182.5 179.37 L182.75 179.32 L183 179.25 L183.25 179.35 L183.5 179.02 L183.75 178.61 L184 177.7 L184.25 177.09 L184.5 176.9 L184.75 177.03 L185 177.74 L185.25 178.49 L185.5 178.97 L185.75 179.37 L186 179.38 L186.25 179.43 L186.5 179.42 L186.75 179.49 L187 179.36 L187.25 179.25 L187.5 179.54 L187.75 179.49 L188 179.29 L188.25 179.28 L188.5 179.32 L188.75 179.45 L189 179.29 L189.25 179.26 L189.5 179.4 L189.75 179.25 L190 179.33 L190.25 179.36 L190.5 179.31 L190.75 179.25 L191 179.33 L191.25 179.32 L191.5 179.35 L191.75 179.37 L192 179.36 L192.25 179.35 L192.5 179.26 L192.75 179.5 L193 179.47 L193.25 179.4 L193.5 179.25 L193.75 179.32 L194 179.52 L194.25 179.39 L194.5 179.31 L194.75 179.5 L195 179.52 L195.25 179.29 L195.5 179.4 L195.75 179.42 L196 179.29 L196.25 179.35 L196.5 179.44 L196.75 179.45 L197 179.44 L197.25 179.44 L197.5 179.36 L197.75 179.27 L198 179.25 L198.25 179.5 L198.5 179.51 L198.75 179.52 L199 179.27 L199.25 179.48 L199.5 179.3 L199.75 179.35 L200 179.31 L200.25 179.51 L200.5 179.5 L200.75 179.5 L201 179.36 L201.25 179.53 L201.5 179.33 L201.75 179.42 L202 179.45 L202.25 179.32 L202.5 179.36 L202.75 179.28 L203 179.49 L203.25 179.31 L203.5 179.29 L203.75 179.33 L204 179.44 L204.25 179.44 L204.5 179.39 L204.75 179.43 L205 179.24 L205.25 178.71 L205.5 178.15 L205.75 177.21 L206 176.53 L206.25 176.31 L206.5 176.72 L206.75 177.6 L207 178.55 L207.25 179.02 L207.5 179.13 L207.75 179.27 L208 179.42 L208.25 179.4 L208.5 179.24 L208.75 179.2 L209 179.22 L209.25 178.99 L209.5 178.5 L209.75 178.41 L210 178.12 L210.25 178.35 L210.5 178.64 L210.75 178.91 L211 179.33 L211.25 179.29 L211.5 179.35 L211.75 179.41 L212 179.5 L212.25 179.55 L212.5 179.48 L212.75 179.41 L213 179.47 L213.25 179.44 L213.5 179.54 L213.75 179.54 L214 179.48 L214.25 179.31 L214.5 179.42 L214.75 179.38 L215 179.32 L215.25 179.48 L215.5 179.32 L215.75 179.46 L216 179.4 L216.25 179.38 L216.5 179.46 L216.75 179.47 L217 179.55 L217.25 179.55 L217.5 179.49 L217.75 179.33 L218 179.45 L218.25 179.4 L218.5 179.53 L218.75 179.38 L219 179.36 L219.25 179.26 L219.5 179.39 L219.75 179.41 L220 179.34 L220.25 179.28 L220.5 179.4 L220.75 179.27 L221 179.3 L221.25 179.38 L221.5 179.35 L221.75 179.4 L222 179.41 L222.25 179.37 L222.5 179.29 L222.75 179.26 L223 179.42 L223.25 179.54 L223.5 179.32 L223.75 179.29 L224 179.18 L224.25 179.1 L224.5 178.76 L224.75 178.59 L225 178.25 L225.25 178.39 L225.5 178.67 L225.75 178.99 L226 179.2 L226.25 179.3 L226.5 179.52 L226.75 179.38 L227 179.42 L227.25 179.54 L227.5 179.44 L227.75 179.43 L228 179.5 L228.25 179.35 L228.5 179.26 L228.75 179.54 L229 179.41 L229.25 179.42 L229.5 179.27 L229.75 179.47 L230 179.36 L230.25 179.44 L230.5 179.34 L230.75 179.53 L231 179.36 L231.25 179.33 L231.5 179.52 L231.75 179.32 L232 179.33 L232.25 179.4 L232.5 179.54 L232.75 179.28 L233 179.31 L233.25 179.49 L233.5 179.27 L233.75 179.37 L234 179.48 L234.25 179.46 L234.5 179.47 L234.75 179.22 L235 179.35 L235.25 178.99 L235.5 178.85 L235.75 178.5 L236 178.52 L236.25 178.5 L236.5 178.69 L236.75 178.93 L237 179.23 L237.25 179.2 L237.5 179.28 L237.75 179.51 L238 179.42 L238.25 179.51 L238.5 179.3 L238.75 179.39 L239 179.39 L239.25 179.28 L239.5 179.33 L239.75 179.53 L240 179.47 L240.25 179.4 L240.5 179.43 L240.75 179.51 L241 179.54 L241.25 179.43 L241.5 179.27 L241.75 179.51 L242 179.3 L242.25 179.32 L242.5 179.29 L242.75 179.4 L243 179.42 L243.25 179.39 L243.5 179.39 L243.75 179.29 L244 179.47 L244.25 179.41 L244.5 179.34 L244.75 179.5 L245 179.53 L245.25 179.53 L245.5 179.55 L245.75 179.27 L246 179.37 L246.25 179.38 L246.5 179.33 L246.75 179.47 L247 179.52 L247.25 179.29 L247.5 179.4 L247.75 179.54 L248 179.52 L248.25 179.39 L248.5 179.28 L248.75 179.39 L249 179.41 L249.25 179.49 L249.5 179.31 L249.75 179.33 L250 179.55 L250.25 179.25 L250.5 179.43 L250.75 179.28 L251 179.48 L251.25 179.38" fill="none" stroke="#404040" stroke-width="1.25" stroke-linejoin="round"/>
<rect x="17" y="5.9" width="234.9" height="180.4" fill="none" stroke="#262626" stroke-width="1.35"/>
<line x1="17" y1="186.3" x2="17" y2="187.9" stroke="#3a3a3a" stroke-width="0.9"/>
<line x1="43.1" y1="186.3" x2="43.1" y2="189.7" stroke="#3a3a3a" stroke-width="0.9"/>
<text transform="translate(43.1 198.8) scale(1 1.16)" font-size="7.4" text-anchor="middle" fill="#222" stroke="#222" stroke-width="0.16">10</text>
<line x1="69.2" y1="186.3" x2="69.2" y2="187.9" stroke="#3a3a3a" stroke-width="0.9"/>
<line x1="95.3" y1="186.3" x2="95.3" y2="189.7" stroke="#3a3a3a" stroke-width="0.9"/>
<text transform="translate(95.3 198.8) scale(1 1.16)" font-size="7.4" text-anchor="middle" fill="#222" stroke="#222" stroke-width="0.16">20</text>
<line x1="121.4" y1="186.3" x2="121.4" y2="187.9" stroke="#3a3a3a" stroke-width="0.9"/>
<line x1="147.5" y1="186.3" x2="147.5" y2="189.7" stroke="#3a3a3a" stroke-width="0.9"/>
<text transform="translate(147.5 198.8) scale(1 1.16)" font-size="7.4" text-anchor="middle" fill="#222" stroke="#222" stroke-width="0.16">30</text>
<line x1="173.6" y1="186.3" x2="173.6" y2="187.9" stroke="#3a3a3a" stroke-width="0.9"/>
<line x1="199.7" y1="186.3" x2="199.7" y2="189.7" stroke="#3a3a3a" stroke-width="0.9"/>
<text transform="translate(199.7 198.8) scale(1 1.16)" font-size="7.4" text-anchor="middle" fill="#222" stroke="#222" stroke-width="0.16">40</text>
<line x1="225.8" y1="186.3" x2="225.8" y2="187.9" stroke="#3a3a3a" stroke-width="0.9"/>
<line x1="251.9" y1="186.3" x2="251.9" y2="189.7" stroke="#3a3a3a" stroke-width="0.9"/>
<text transform="translate(251.9 198.8) scale(1 1.16)" font-size="7.4" text-anchor="middle" fill="#222" stroke="#222" stroke-width="0.16">50</text>
<text transform="translate(250.8 32.5) scale(0.96 1.17)" font-size="7.5" text-anchor="end" fill="#1a1a1a" stroke="#1a1a1a" stroke-width="0.16">HMX/PMMA/GO<tspan font-size="6.3" dy="2.1">-OH</tspan></text>
<text transform="translate(250.3 51.6) scale(0.96 1.17)" font-size="7.5" text-anchor="end" fill="#1a1a1a" stroke="#1a1a1a" stroke-width="0.16">GO<tspan font-size="7" dy="3.5">-OH</tspan></text>
<text transform="translate(250.6 73.6) scale(0.96 1.17)" font-size="7.5" text-anchor="end" fill="#1a1a1a" stroke="#1a1a1a" stroke-width="0.16">HMX/PMMA/rGO</text>
<text transform="translate(250.4 90.5) scale(0.96 1.17)" font-size="7.5" text-anchor="end" fill="#1a1a1a" stroke="#1a1a1a" stroke-width="0.16">rGO</text>
<text transform="translate(250.4 113) scale(0.96 1.17)" font-size="7.5" text-anchor="end" fill="#1a1a1a" stroke="#1a1a1a" stroke-width="0.16">HMX/PMMA/GO</text>
<text transform="translate(250.4 130.5) scale(0.96 1.17)" font-size="7.5" text-anchor="end" fill="#1a1a1a" stroke="#1a1a1a" stroke-width="0.16">GO</text>
<text transform="translate(250.1 145.9) scale(0.96 1.17)" font-size="7.5" text-anchor="end" fill="#1a1a1a" stroke="#1a1a1a" stroke-width="0.16">PMMA</text>
<text transform="translate(249 175.5) scale(0.96 1.17)" font-size="7.5" text-anchor="end" fill="#1a1a1a" stroke="#1a1a1a" stroke-width="0.16">Raw-HMX</text>
<text transform="translate(132.5 48.6) scale(1 1.15)" font-size="7.2" text-anchor="middle" fill="#1a1a1a" stroke="#1a1a1a" stroke-width="0.16">26.5°</text>
<text transform="translate(52.2 126.5) scale(1 1.15)" font-size="7.2" text-anchor="middle" fill="#1a1a1a" stroke="#1a1a1a" stroke-width="0.16">11.3°</text>
<text transform="translate(67.2 162.5) rotate(-90)" font-size="6.6" text-anchor="middle" fill="#1a1a1a" stroke="#1a1a1a" stroke-width="0.16">(0 1 1)</text>
<text transform="translate(83.25 162.25) rotate(-90)" font-size="6.6" text-anchor="middle" fill="#1a1a1a" stroke="#1a1a1a" stroke-width="0.16">(0 2 0)</text>
<text transform="translate(95.65 161.7) rotate(-90)" font-size="6.6" text-anchor="middle" fill="#1a1a1a" stroke="#1a1a1a" stroke-width="0.16">(−1 0 2)</text>
<text transform="translate(107.4 162.2) rotate(-90)" font-size="6.6" text-anchor="middle" fill="#1a1a1a" stroke="#1a1a1a" stroke-width="0.16">(−1 2 0)</text>
<text transform="translate(154.9 161.7) rotate(-90)" font-size="6.6" text-anchor="middle" fill="#1a1a1a" stroke="#1a1a1a" stroke-width="0.16">(−1 3 2)</text>
<text transform="translate(10.8 96) rotate(-90) scale(1 1.05)" font-size="7.5" text-anchor="middle" fill="#1a1a1a" stroke="#1a1a1a" stroke-width="0.16">Intensity/(a.u.)</text>
<text transform="translate(134.9 212.2)" font-size="7" text-anchor="middle" fill="#1a1a1a" stroke="#1a1a1a" stroke-width="0.16">2θ/(°)</text>
<g font-family="'Liberation Serif', serif" fill="#000"><text transform="translate(123.8 0) scale(1 1.2)" y="192.83" font-size="14.5">(</text><text transform="translate(136.6 0) scale(1 1.2)" y="192.83" font-size="14.5">)</text><text x="128.6" y="230.3" font-size="15" font-weight="bold">a</text></g>
<line x1="376.5" y1="2.7" x2="376.5" y2="185.4" stroke="#d4d4d4" stroke-width="0.8"/>
<line x1="463.75" y1="2.7" x2="463.75" y2="185.4" stroke="#959595" stroke-width="0.75" stroke-dasharray="1,1.2"/>
<line x1="475.75" y1="2.7" x2="475.75" y2="185.4" stroke="#959595" stroke-width="0.75" stroke-dasharray="1,1.2"/>
<line x1="481.25" y1="2.7" x2="481.25" y2="185.4" stroke="#959595" stroke-width="0.75" stroke-dasharray="1,1.2"/>
<line x1="486.75" y1="2.7" x2="486.75" y2="185.4" stroke="#959595" stroke-width="0.75" stroke-dasharray="1,1.2"/>
<rect x="360.4" y="87.65" width="10.6" height="4.4" fill="#cfcfcf"/>
<rect x="360.4" y="106.1" width="10.6" height="4.4" fill="#cfcfcf"/>
<rect x="360.4" y="124.7" width="10.6" height="4.4" fill="#cfcfcf"/>
<rect x="360.4" y="143.6" width="10.6" height="4.4" fill="#cfcfcf"/>
<rect x="360.4" y="161.7" width="10.6" height="4.4" fill="#cfcfcf"/>
<path d="M299 19 L299.6 19 L300.2 19 L300.8 19 L301.4 19 L302 19 L302.6 19 L303.2 19 L303.8 19 L304.4 19 L305 19 L305.6 19 L306.2 19 L306.8 19 L307.4 19 L308 19 L308.6 19 L309.2 19 L309.8 19 L310.4 19 L310.99 19 L311.59 19 L312.19 19 L312.79 19 L313.39 19 L313.99 19 L314.59 19 L315.19 19 L315.79 19 L316.39 19 L316.99 19 L317.59 19 L318.19 19 L318.79 19 L319.39 19 L319.99 19 L320.59 19 L321.19 19 L321.79 19 L322.39 19 L322.99 19 L323.59 19 L324.19 19 L324.79 19 L325.39 19 L325.99 19 L326.59 19 L327.19 19 L327.79 19 L328.39 19 L328.99 19 L329.59 19 L330.19 19 L330.79 19 L331.39 19 L331.99 19 L332.59 19 L333.19 19 L333.79 19 L334.38 19 L334.98 19 L335.58 19 L336.18 19 L336.78 19 L337.38 19 L337.98 19 L338.58 19 L339.18 19 L339.78 19 L340.38 19 L340.98 19 L341.58 19 L342.18 19 L342.78 19 L343.38 19 L343.98 19 L344.58 19 L345.18 19 L345.78 19 L346.38 19 L346.98 19 L347.58 19 L348.18 19 L348.78 19 L349.38 19 L349.98 19 L350.58 19 L351.18 19 L351.78 19 L352.38 19 L352.98 19 L353.58 19 L354.18 19 L354.78 19 L355.38 19 L355.98 19 L356.58 19 L357.18 19 L357.77 19 L358.37 19 L358.97 19 L359.57 19 L360.17 19 L360.77 19 L361.37 19 L361.97 19 L362.57 19 L363.17 19 L363.77 19 L364.37 19 L364.97 19 L365.57 19 L366.17 19 L366.77 19 L367.37 19 L367.97 19 L368.57 19 L369.17 19 L369.77 19 L370.37 19 L370.97 19 L371.57 19 L372.17 19 L372.77 19 L373.37 19 L373.97 19 L374.57 19 L375.17 19 L375.77 19 L376.37 19 L376.97 19 L377.57 19 L378.17 19 L378.77 19 L379.37 19 L379.97 19 L380.57 19 L381.16 19 L381.76 19 L382.36 19 L382.96 19 L383.56 19 L384.16 19 L384.76 19 L385.36 19 L385.96 19 L386.56 19 L387.16 19 L387.76 19 L388.36 19 L388.96 19 L389.56 19 L390.16 19 L390.76 19 L391.36 19 L391.96 19 L392.56 19 L393.16 19 L393.76 19 L394.36 19 L394.96 19 L395.56 19 L396.16 19 L396.76 19 L397.36 19 L397.96 19 L398.56 19 L399.16 19 L399.76 19 L400.36 19 L400.96 19 L401.56 19 L402.16 19 L402.76 19 L403.36 19 L403.96 19 L404.55 19 L405.15 19 L405.75 19 L406.35 19 L406.95 19 L407.55 19 L408.15 19 L408.75 19 L409.35 19 L409.95 19 L410.55 19 L411.15 19 L411.75 19 L412.35 19 L412.95 19 L413.55 19 L414.15 19 L414.75 19 L415.35 19 L415.95 19 L416.55 19 L417.15 19 L417.75 19 L418.35 19 L418.95 19 L419.55 19 L420.15 19 L420.75 19 L421.35 19 L421.95 19 L422.55 19 L423.15 19 L423.75 19 L424.35 19 L424.95 19 L425.55 19 L426.15 19 L426.75 19 L427.35 19 L427.94 19 L428.54 19 L429.14 19 L429.74 19 L430.34 19 L430.94 19 L431.54 19 L432.14 19 L432.74 19 L433.34 19 L433.94 19 L434.54 19 L435.14 19 L435.74 19 L436.34 19 L436.94 19 L437.54 19 L438.14 19 L438.74 19 L439.34 19 L439.94 19 L440.54 19 L441.14 19 L441.74 19 L442.34 19 L442.94 19 L443.54 19 L444.14 19 L444.74 19 L445.34 19 L445.94 19 L446.54 19 L447.14 19 L447.74 19 L448.34 19 L448.94 19 L449.54 19 L450.14 19 L450.74 19 L451.33 19 L451.93 19 L452.53 19 L453.13 19 L453.73 19 L454.33 19 L454.93 19 L455.53 19 L456.13 19 L456.73 19 L457.33 19 L457.93 19 L458.53 19 L459.13 19 L459.73 19 L460.33 19 L460.93 19 L461.53 19 L462.13 19 L462.73 19 L463.33 19 L463.93 19 L464.53 19 L465.13 19 L465.73 19 L466.33 19 L466.93 19 L467.53 19 L468.13 19 L468.73 19 L469.33 19 L469.93 19 L470.53 19 L471.13 19 L471.73 19 L472.33 19 L472.93 19 L473.53 19 L474.13 19 L474.72 19 L475.32 19 L475.92 19 L476.52 19 L477.12 19 L477.72 19 L478.32 19 L478.92 19 L479.52 19 L480.12 19 L480.72 19 L481.32 19 L481.92 19 L482.52 19 L483.12 19 L483.72 19 L484.32 19 L484.92 19 L485.52 19 L486.12 19 L486.72 19 L487.32 19 L487.92 19 L488.52 19 L489.12 19 L489.72 19 L490.32 19 L490.92 19 L491.52 19 L492.12 19 L492.72 19 L493.32 19 L493.92 19 L494.52 19 L495.12 19 L495.72 19 L496.32 19 L496.92 19 L497.52 19 L498.11 19 L498.71 19 L499.31 19 L499.91 19 L500.51 19 L501.11 19 L501.71 19 L502.31 19 L502.91 19 L503.51 19 L504.11 19 L504.71 19 L505.31 19 L505.91 19 L506.51 19 L507.11 19 L507.71 19 L508.31 19 L508.91 19 L509.51 19 L510.11 19 L510.71 19 L511.31 19 L511.91 19 L512.51 19 L513.11 19 L513.71 19 L514.31 19 L514.91 19 L515.51 19 L516.11 19 L516.71 19 L517.31 19 L517.91 19 L518.51 19 L519.11 19 L519.71 19 L520.31 19 L520.91 19 L521.5 19 L522.1 19 L522.7 19 L523.3 19 L523.9 19 L524.5 19 L525.1 19 L525.7 19 L526.3 19 L526.9 19 L527.5 19 L528.1 19 L528.7 19 L529.3 19 L529.9 19 L530.5 19 L531.1 19 L531.7 19 L532.3 19 L532.9 19" fill="none" stroke="#d9aee8" stroke-width="1.1" stroke-linejoin="round"/>
<path d="M299 34.6 L299.59 34.72 L300.18 34.57 L300.77 34.74 L301.37 34.6 L301.96 34.58 L302.55 34.61 L303.14 34.62 L303.73 34.71 L304.32 34.87 L304.91 34.74 L305.5 34.84 L306.1 34.7 L306.69 34.83 L307.28 34.85 L307.87 34.76 L308.46 34.9 L309.05 34.88 L309.64 34.87 L310.23 35.01 L310.83 34.99 L311.42 34.87 L312.01 34.89 L312.6 35 L313.21 34.92 L313.82 34.99 L314.43 35.11 L315.03 35.21 L315.64 35.24 L316.25 35.24 L316.86 35.08 L317.47 35.27 L318.07 35.29 L318.68 35.24 L319.29 35.39 L319.9 35.32 L320.51 35.23 L321.12 35.28 L321.73 35.29 L322.33 35.43 L322.94 35.45 L323.55 35.54 L324.16 35.36 L324.77 35.38 L325.38 35.64 L325.98 35.49 L326.59 35.52 L327.2 35.6 L327.8 35.73 L328.41 35.58 L329.01 35.78 L329.62 35.85 L330.22 35.8 L330.82 35.85 L331.43 35.74 L332.03 35.93 L332.64 35.96 L333.24 36.04 L333.85 36.02 L334.45 35.96 L335.05 36.02 L335.66 36.16 L336.26 36.06 L336.87 36.11 L337.47 36.18 L338.07 36.35 L338.68 36.32 L339.28 36.32 L339.89 36.5 L340.49 36.44 L341.1 36.4 L341.7 36.5 L342.31 36.52 L342.92 36.59 L343.52 36.47 L344.13 36.48 L344.74 36.52 L345.35 36.62 L345.96 36.53 L346.57 36.42 L347.18 36.52 L347.78 36.46 L348.39 36.49 L349 36.55 L349.61 36.38 L350.22 36.5 L350.82 36.46 L351.43 36.52 L352.04 36.58 L352.65 36.49 L353.26 36.53 L353.87 36.45 L354.48 36.44 L355.08 36.5 L355.69 36.51 L356.3 36.5 L356.89 36.38 L357.49 36.45 L358.08 36.33 L358.68 36.24 L359.27 36.16 L359.86 36.24 L360.46 36.2 L361.05 36.16 L361.64 35.93 L362.24 35.83 L362.83 35.91 L363.43 35.71 L364.02 35.85 L364.61 35.76 L365.21 35.62 L365.8 35.6 L366.35 36.16 L366.9 36.79 L367.45 37.24 L368 37.9 L368.58 38.51 L369.16 39.25 L369.74 39.86 L370.32 40.48 L370.9 41.1 L371.45 40.58 L372 40.18 L372.55 39.77 L373.1 39.4 L373.8 39.79 L374.5 40.4 L375.05 40.06 L375.6 39.67 L376.15 39.38 L376.7 38.9 L377.37 38.78 L378.03 38.73 L378.7 38.5 L379.3 38.47 L379.9 38.45 L380.5 38.37 L381.1 38.38 L381.7 38.47 L382.3 38.33 L382.9 38.19 L383.5 38.25 L384.1 38.18 L384.7 38.26 L385.3 38.2 L385.9 38.17 L386.5 38.25 L387.1 38.18 L387.7 37.99 L388.3 37.95 L388.9 38.08 L389.5 38.03 L390.1 38.02 L390.7 37.95 L391.3 37.82 L391.9 37.9 L392.5 37.87 L393.11 37.95 L393.71 37.87 L394.32 37.72 L394.92 37.73 L395.52 37.9 L396.13 37.79 L396.73 37.69 L397.34 37.8 L397.94 37.84 L398.55 37.8 L399.15 37.73 L399.75 37.76 L400.36 37.57 L400.96 37.64 L401.57 37.71 L402.17 37.58 L402.77 37.51 L403.38 37.67 L403.98 37.62 L404.59 37.43 L405.19 37.43 L405.8 37.53 L406.4 37.5 L407 37.84 L407.6 37.99 L408.2 38.2 L408.81 38.21 L409.42 37.95 L410.03 37.98 L410.64 37.81 L411.26 37.77 L411.87 37.65 L412.48 37.65 L413.09 37.47 L413.7 37.5 L414.31 37.5 L414.92 37.45 L415.52 37.47 L416.13 37.4 L416.74 37.19 L417.35 37.34 L417.96 37.22 L418.57 37.27 L419.18 37.12 L419.78 36.98 L420.39 37.09 L421 36.92 L421.61 37.07 L422.22 36.93 L422.82 36.97 L423.43 36.83 L424.04 36.75 L424.65 36.79 L425.26 36.76 L425.87 36.66 L426.48 36.57 L427.08 36.56 L427.69 36.59 L428.3 36.5 L428.92 36.39 L429.53 36.32 L430.15 36.35 L430.76 36.35 L431.38 36.16 L431.99 36.16 L432.61 36.28 L433.23 36.07 L433.84 36.14 L434.46 35.98 L435.07 35.88 L435.69 35.93 L436.31 35.97 L436.92 35.9 L437.54 35.68 L438.15 35.79 L438.77 35.72 L439.38 35.64 L440 35.6 L440.63 35.55 L441.26 35.43 L441.89 35.27 L442.51 35.3 L443.14 35.08 L443.77 35.04 L444.4 35 L445.02 34.96 L445.64 34.76 L446.26 34.62 L446.89 34.54 L447.51 34.36 L448.13 34.2 L448.75 34.1 L449.36 34.26 L449.97 34.29 L450.57 34.51 L451.18 34.59 L451.79 34.97 L452.4 35 L453 35.51 L453.6 35.87 L454.2 36.17 L454.8 36.75 L455.4 37.03 L456 37.5 L456.62 38.12 L457.23 38.64 L457.85 39.18 L458.47 39.76 L459.08 40.19 L459.7 40.8 L460.25 41.26 L460.8 41.56 L461.35 41.99 L461.9 42.3 L462.42 42.16 L462.95 41.79 L463.48 41.6 L464 41.4 L464.56 40.87 L465.12 40.3 L465.69 39.99 L466.25 39.4 L466.83 40.11 L467.42 40.73 L468 41.4 L468.63 41.08 L469.27 40.82 L469.9 40.4 L470.45 39.92 L471 39.62 L471.55 39.32 L472.1 38.9 L472.68 39.01 L473.26 39.1 L473.84 39.14 L474.42 39.23 L475 39.4 L475.58 39.34 L476.16 39.16 L476.74 39.2 L477.32 39.1 L477.9 38.9 L478.48 39.23 L479.06 39.29 L479.64 39.56 L480.22 39.69 L480.8 40 L481.38 40.25 L481.96 40.46 L482.54 40.84 L483.12 41.23 L483.7 41.4 L484.28 41.64 L484.86 41.73 L485.44 41.89 L486.02 42.22 L486.6 42.3 L487.22 42.19 L487.83 42.38 L488.45 42.39 L489.07 42.2 L489.68 42.41 L490.3 42.3 L490.95 42.41 L491.6 42.42 L492.25 42.51 L492.9 42.6 L493.48 42.77 L494.06 42.89 L494.64 43.11 L495.22 43.25 L495.8 43.3 L496.35 42.9 L496.9 42.46 L497.45 42.28 L498 41.85 L498.62 41.48 L499.23 41.07 L499.85 40.52 L500.47 40.11 L501.08 39.9 L501.7 39.4 L502.31 39.1 L502.93 38.85 L503.54 38.7 L504.16 38.24 L504.77 38.08 L505.39 37.67 L506 37.5 L506.63 37.37 L507.26 37.27 L507.89 36.99 L508.51 36.99 L509.14 36.9 L509.77 36.72 L510.4 36.5 L511.03 36.57 L511.66 36.61 L512.29 36.55 L512.91 36.51 L513.54 36.58 L514.17 36.57 L514.8 36.5 L515.35 36.78 L515.9 37.04 L516.45 37.17 L517 37.5 L517.55 37.09 L518.1 36.71 L518.65 36.46 L519.2 36 L519.81 36.01 L520.43 35.84 L521.04 35.95 L521.66 35.67 L522.27 35.61 L522.89 35.62 L523.5 35.6 L524.13 35.5 L524.76 35.71 L525.39 35.57 L526.01 35.57 L526.64 35.69 L527.27 35.61 L527.9 35.6 L528.52 35.56 L529.15 35.44 L529.77 35.37 L530.4 35.41 L531.02 35.17 L531.65 35.16 L532.27 35.07 L532.9 35" fill="none" stroke="#f5821f" stroke-width="1.55" stroke-linejoin="round"/>
<path d="M299 53.1 L299.59 52.98 L300.19 52.92 L300.78 52.92 L301.38 52.9 L301.97 52.78 L302.57 52.66 L303.16 52.74 L303.76 52.55 L304.35 52.61 L304.94 52.42 L305.54 52.45 L306.13 52.31 L306.73 52.27 L307.32 52.23 L307.92 52.22 L308.51 52.11 L309.11 52.05 L309.7 52 L310.31 51.9 L310.92 51.84 L311.52 51.71 L312.13 51.74 L312.74 51.53 L313.35 51.44 L313.96 51.42 L314.57 51.31 L315.18 51.29 L315.78 51.09 L316.39 51.11 L317 51 L317.6 50.91 L318.2 50.94 L318.8 50.77 L319.4 50.72 L320 50.64 L320.6 50.6 L321.18 50.89 L321.76 51.12 L322.34 51.47 L322.92 51.71 L323.5 52 L324.08 52.47 L324.66 52.85 L325.24 53.31 L325.82 53.77 L326.4 54.2 L327 54.43 L327.6 54.62 L328.2 54.79 L328.8 54.93 L329.4 55.14 L330 55.34 L330.6 55.55 L331.2 55.75 L331.8 56.03 L332.4 56.17 L333 56.4 L333.61 56.57 L334.22 56.56 L334.82 56.66 L335.43 56.75 L336.04 56.84 L336.65 57.03 L337.26 57.11 L337.87 57.16 L338.48 57.35 L339.08 57.43 L339.69 57.49 L340.3 57.6 L340.89 57.62 L341.49 57.63 L342.08 57.59 L342.67 57.53 L343.26 57.58 L343.86 57.67 L344.45 57.58 L345.04 57.62 L345.63 57.53 L346.23 57.64 L346.82 57.66 L347.41 57.58 L348 57.58 L348.6 57.6 L349.19 57.56 L349.78 57.55 L350.37 57.54 L350.97 57.63 L351.56 57.6 L352.15 57.67 L352.74 57.67 L353.34 57.66 L353.93 57.67 L354.52 57.65 L355.11 57.52 L355.71 57.54 L356.3 57.6 L356.91 57.63 L357.52 57.58 L358.12 57.49 L358.73 57.45 L359.34 57.38 L359.95 57.34 L360.56 57.25 L361.17 57.27 L361.77 57.19 L362.38 57.12 L362.99 57.2 L363.6 57.11 L364.21 57.12 L364.82 56.98 L365.43 56.99 L366.03 56.9 L366.64 56.94 L367.25 56.8 L367.86 56.83 L368.47 56.78 L369.07 56.7 L369.68 56.62 L370.29 56.64 L370.9 56.6 L371.5 56.55 L372.09 56.55 L372.69 56.4 L373.28 56.34 L373.88 56.31 L374.47 56.34 L375.07 56.19 L375.67 56.2 L376.26 56.06 L376.86 56.01 L377.45 56.06 L378.05 55.97 L378.64 55.86 L379.24 55.87 L379.83 55.89 L380.43 55.75 L381.03 55.72 L381.62 55.65 L382.22 55.61 L382.81 55.48 L383.41 55.57 L384 55.46 L384.6 55.4 L385.21 55.34 L385.81 55.3 L386.42 55.25 L387.02 55.34 L387.63 55.29 L388.23 55.18 L388.84 55.18 L389.44 55.14 L390.05 55.05 L390.66 54.99 L391.26 55.07 L391.87 54.95 L392.47 54.98 L393.08 54.86 L393.68 54.82 L394.29 54.81 L394.89 54.86 L395.5 54.82 L396.11 54.85 L396.71 54.76 L397.32 54.7 L397.92 54.59 L398.53 54.71 L399.13 54.6 L399.74 54.62 L400.34 54.46 L400.95 54.55 L401.56 54.46 L402.16 54.39 L402.77 54.38 L403.37 54.3 L403.98 54.35 L404.58 54.26 L405.19 54.3 L405.79 54.18 L406.4 54.2 L406.95 54.48 L407.5 54.72 L408.05 54.98 L408.6 55.2 L409.15 55.1 L409.7 54.82 L410.25 54.7 L410.8 54.5 L411.4 54.42 L412.01 54.45 L412.61 54.38 L413.21 54.31 L413.82 54.22 L414.42 54.11 L415.02 54.15 L415.63 54.11 L416.23 54.04 L416.83 53.89 L417.44 53.91 L418.04 53.83 L418.64 53.79 L419.25 53.73 L419.85 53.61 L420.46 53.55 L421.06 53.55 L421.66 53.47 L422.27 53.39 L422.87 53.39 L423.47 53.19 L424.08 53.13 L424.68 53.15 L425.28 53.03 L425.89 53.09 L426.49 52.91 L427.09 52.98 L427.7 52.81 L428.3 52.8 L428.9 52.65 L429.5 52.66 L430.1 52.56 L430.7 52.43 L431.3 52.37 L431.9 52.28 L432.5 52.25 L433.1 52.1 L433.7 52.01 L434.3 51.91 L434.9 51.82 L435.5 51.77 L436.1 51.59 L436.7 51.6 L437.3 51.55 L437.9 51.43 L438.5 51.3 L439.07 51.27 L439.63 51.21 L440.2 51.14 L440.77 51.1 L441.33 51.14 L441.9 51.16 L442.47 51.13 L443.03 50.98 L443.6 51 L444.18 51.16 L444.76 51.29 L445.34 51.36 L445.92 51.54 L446.5 51.6 L447.05 52.05 L447.6 52.57 L448.15 53.1 L448.7 53.6 L449.45 54.09 L450.2 54.5 L450.75 54.79 L451.3 55.07 L451.85 55.46 L452.4 55.7 L452.95 55.26 L453.5 54.84 L454.05 54.38 L454.6 54 L455.15 54.42 L455.7 54.88 L456.25 55.25 L456.8 55.7 L457.38 55.43 L457.96 55.1 L458.54 54.72 L459.12 54.57 L459.7 54.2 L460.3 53.88 L460.9 53.64 L461.5 53.42 L462.1 53.02 L462.7 52.71 L463.3 52.5 L463.89 52.15 L464.48 51.84 L465.07 51.66 L465.66 51.3 L466.25 51 L466.84 51.13 L467.43 51.36 L468.02 51.6 L468.61 51.75 L469.2 52 L469.8 52.34 L470.4 52.8 L471 53.09 L471.6 53.42 L472.2 53.85 L472.8 54.2 L473.44 54.18 L474.07 54.28 L474.71 54.34 L475.35 54.28 L475.99 54.4 L476.62 54.39 L477.26 54.5 L477.9 54.5 L478.48 54.57 L479.06 54.67 L479.64 54.67 L480.22 54.65 L480.8 54.7 L481.38 54.83 L481.96 54.9 L482.54 54.83 L483.12 54.94 L483.7 55 L484.29 54.89 L484.88 54.83 L485.47 54.82 L486.06 54.69 L486.65 54.64 L487.24 54.56 L487.83 54.4 L488.42 54.38 L489.01 54.26 L489.6 54.2 L490.2 54.4 L490.8 54.6 L491.4 54.83 L492 54.95 L492.6 55.25 L493.2 55.4 L493.78 55.55 L494.36 55.77 L494.94 56.06 L495.52 56.28 L496.1 56.4 L496.75 55.9 L497.4 55.52 L498.05 54.9 L498.7 54.5 L499.3 54.23 L499.9 53.77 L500.5 53.41 L501.1 53.18 L501.7 52.8 L502.31 52.53 L502.93 52.41 L503.54 52.08 L504.16 51.88 L504.77 51.71 L505.39 51.45 L506 51.3 L506.63 51.25 L507.26 51.19 L507.89 51.21 L508.51 51.13 L509.14 51.16 L509.77 51.1 L510.4 51 L511.03 50.89 L511.66 50.95 L512.29 50.89 L512.91 50.78 L513.54 50.72 L514.17 50.6 L514.8 50.6 L515.43 50.63 L516.06 50.67 L516.69 50.72 L517.31 50.85 L517.94 50.86 L518.57 50.99 L519.2 51 L519.81 51.1 L520.43 51.22 L521.04 51.19 L521.66 51.4 L522.27 51.43 L522.89 51.54 L523.5 51.6 L524.13 51.62 L524.76 51.75 L525.39 51.76 L526.01 51.86 L526.64 51.9 L527.27 51.89 L527.9 52 L528.52 52.03 L529.15 52.17 L529.77 52.11 L530.4 52.27 L531.02 52.32 L531.65 52.41 L532.27 52.41 L532.9 52.5" fill="none" stroke="#f9b060" stroke-width="1.55" stroke-linejoin="round"/>
<path d="M299 70.9 L299.59 70.91 L300.18 70.94 L300.77 71.04 L301.37 70.86 L301.96 71.01 L302.55 70.96 L303.14 71.08 L303.73 71 L304.32 71.01 L304.91 71.04 L305.5 71.26 L306.1 71.12 L306.69 71.3 L307.28 71.27 L307.87 71.16 L308.46 71.26 L309.05 71.12 L309.64 71.42 L310.23 71.35 L310.83 71.22 L311.42 71.36 L312.01 71.38 L312.6 71.4 L313.21 71.43 L313.82 71.3 L314.43 71.46 L315.03 71.35 L315.64 71.17 L316.25 71.37 L316.86 71.37 L317.47 71.17 L318.07 71.28 L318.68 71.3 L319.29 71.29 L319.9 71.02 L320.51 71.23 L321.12 71.03 L321.73 71.18 L322.33 71.12 L322.94 71.04 L323.55 71.15 L324.16 71.1 L324.77 71.13 L325.38 71.1 L325.98 70.96 L326.59 70.99 L327.2 70.9 L327.82 70.98 L328.44 70.92 L329.05 70.98 L329.67 71.01 L330.29 70.95 L330.91 70.99 L331.53 71.19 L332.15 71.22 L332.76 71.2 L333.38 71.23 L334 71.2 L334.63 71.47 L335.27 71.76 L335.9 72 L336.65 71.5 L337.4 70.9 L338.01 70.78 L338.62 70.94 L339.23 71.12 L339.84 70.92 L340.45 71.02 L341.06 70.93 L341.67 71.01 L342.28 71.21 L342.89 71 L343.51 71.25 L344.12 71.28 L344.73 71.33 L345.34 71.17 L345.95 71.4 L346.56 71.26 L347.17 71.31 L347.78 71.48 L348.39 71.39 L349 71.4 L349.6 71.51 L350.2 71.4 L350.8 71.43 L351.4 71.56 L352 71.58 L352.6 71.85 L353.2 71.74 L353.8 72.01 L354.4 71.98 L355 71.9 L355.6 72.11 L356.2 72.05 L356.8 72.17 L357.4 72.1 L358 72.38 L358.6 72.43 L359.2 72.4 L359.78 72.61 L360.36 72.84 L360.94 72.92 L361.52 73.05 L362.1 73.3 L362.68 73.61 L363.26 73.75 L363.84 73.81 L364.42 74.03 L365 74.3 L365.6 74.41 L366.2 74.39 L366.8 74.52 L367.4 74.76 L368 74.9 L368.58 74.57 L369.16 74.58 L369.74 74.13 L370.32 74.09 L370.9 73.8 L371.53 73.63 L372.16 73.23 L372.79 73.04 L373.41 72.92 L374.04 72.55 L374.67 72.22 L375.3 72 L375.98 71.99 L376.65 71.63 L377.32 71.69 L378 71.4 L378.58 71.28 L379.17 71.24 L379.75 71.14 L380.33 71.18 L380.92 71.18 L381.5 71.06 L382.08 70.84 L382.67 71.01 L383.25 70.87 L383.83 70.74 L384.42 70.77 L385 70.6 L385.6 70.48 L386.21 70.62 L386.81 70.68 L387.41 70.67 L388.02 70.63 L388.62 70.45 L389.22 70.57 L389.83 70.5 L390.43 70.6 L391.03 70.53 L391.64 70.55 L392.24 70.57 L392.84 70.58 L393.45 70.67 L394.05 70.48 L394.66 70.48 L395.26 70.45 L395.86 70.42 L396.47 70.64 L397.07 70.66 L397.67 70.42 L398.28 70.48 L398.88 70.64 L399.48 70.63 L400.09 70.66 L400.69 70.66 L401.29 70.45 L401.9 70.37 L402.5 70.42 L403.1 70.5 L403.71 70.35 L404.31 70.42 L404.91 70.48 L405.52 70.54 L406.12 70.38 L406.72 70.36 L407.33 70.42 L407.93 70.35 L408.53 70.35 L409.14 70.34 L409.74 70.55 L410.34 70.57 L410.95 70.31 L411.55 70.54 L412.16 70.55 L412.76 70.49 L413.36 70.38 L413.97 70.53 L414.57 70.31 L415.17 70.29 L415.78 70.56 L416.38 70.34 L416.98 70.54 L417.59 70.49 L418.19 70.27 L418.79 70.29 L419.4 70.45 L420 70.4 L420.61 70.29 L421.21 70.44 L421.82 70.44 L422.42 70.3 L423.03 70.37 L423.64 70.29 L424.24 70.48 L424.85 70.4 L425.45 70.42 L426.06 70.39 L426.67 70.22 L427.27 70.46 L427.88 70.42 L428.48 70.34 L429.09 70.36 L429.7 70.32 L430.3 70.4 L430.91 70.33 L431.52 70.25 L432.12 70.31 L432.73 70.22 L433.33 70.15 L433.94 70.3 L434.55 70.4 L435.15 70.35 L435.76 70.19 L436.36 70.28 L436.97 70.3 L437.58 70.29 L438.18 70.25 L438.79 70.26 L439.39 70.31 L440 70.25 L440.62 70.49 L441.25 70.5 L441.88 70.71 L442.5 70.8 L443.12 70.76 L443.75 70.93 L444.38 71.07 L445 71.25 L445.62 71.58 L446.24 71.99 L446.86 72.3 L447.48 72.88 L448.1 73.1 L448.73 73.89 L449.37 74.49 L450 75.25 L450.63 75.03 L451.27 74.81 L451.9 74.4 L452.52 73.76 L453.15 73.36 L453.77 72.93 L454.4 72.25 L455.02 72.06 L455.64 72.06 L456.26 71.89 L456.88 71.6 L457.5 71.5 L458.12 71.39 L458.75 71.59 L459.38 71.47 L460 71.46 L460.62 71.49 L461.25 71.57 L461.88 71.62 L462.5 71.5 L463.12 71.87 L463.75 72.08 L464.38 72.15 L465 72.5 L465.63 73.09 L466.27 73.62 L466.9 74.4 L467.52 74.43 L468.13 74.59 L468.75 74.75 L469.37 74.1 L469.98 73.64 L470.6 73.1 L471.25 73.44 L471.9 74 L472.5 73.8 L473.1 73.5 L473.73 73.47 L474.36 73.42 L474.99 73.56 L475.62 73.45 L476.25 73.5 L476.88 73.48 L477.5 73.85 L478.12 73.95 L478.75 74 L479.38 74.43 L480 74.56 L480.62 74.87 L481.25 75.25 L481.87 75.03 L482.48 74.58 L483.1 74.4 L483.73 74.74 L484.37 74.85 L485 75 L485.62 74.95 L486.25 74.74 L486.88 74.75 L487.5 74.75 L488.12 74.79 L488.75 75.02 L489.38 74.83 L490 75 L490.58 74.78 L491.16 74.37 L491.74 74.39 L492.32 74.07 L492.9 73.75 L493.48 73.69 L494.06 73.52 L494.64 73.2 L495.22 73.07 L495.8 73 L496.35 72.51 L496.9 72.32 L497.45 71.82 L498 71.6 L498.55 71.86 L499.1 72.2 L499.65 72.78 L500.2 73 L500.78 72.95 L501.36 72.66 L501.94 72.72 L502.52 72.34 L503.1 72.3 L503.68 72.19 L504.26 72.26 L504.84 72.39 L505.42 72.18 L506 72.3 L506.55 72.56 L507.1 72.66 L507.65 72.91 L508.2 73 L508.75 72.78 L509.3 72.51 L509.85 72.35 L510.4 72.3 L510.98 72.31 L511.56 72.18 L512.14 72.2 L512.72 71.97 L513.3 72 L514.05 72.81 L514.8 73.75 L515.5 74.74 L516.2 75.9 L516.75 75.47 L517.3 74.89 L517.85 74.18 L518.4 73.75 L518.95 73.46 L519.5 72.89 L520.05 72.65 L520.6 72.3 L521.18 71.99 L521.76 71.9 L522.34 71.65 L522.92 71.4 L523.5 71.1 L524.08 70.89 L524.66 70.72 L525.24 70.78 L525.82 70.68 L526.4 70.5 L527 70.47 L527.6 70.84 L528.2 70.98 L528.8 70.94 L529.4 71.1 L529.98 71.19 L530.57 71.31 L531.15 71.48 L531.73 71.48 L532.32 71.52 L532.9 71.6" fill="none" stroke="#f01414" stroke-width="1.55" stroke-linejoin="round"/>
<path d="M299 88.5 L299.6 88.57 L300.2 88.51 L300.8 88.41 L301.4 88.54 L302 88.51 L302.6 88.5 L303.2 88.52 L303.8 88.48 L304.4 88.51 L305 88.62 L305.6 88.66 L306.2 88.57 L306.8 88.67 L307.4 88.5 L308 88.6 L308.6 88.66 L309.2 88.68 L309.8 88.59 L310.4 88.54 L311 88.74 L311.6 88.66 L312.2 88.68 L312.8 88.61 L313.4 88.56 L314 88.68 L314.6 88.64 L315.2 88.77 L315.8 88.72 L316.4 88.75 L317 88.71 L317.6 88.76 L318.2 88.62 L318.8 88.83 L319.4 88.74 L320 88.75 L320.6 88.66 L321.2 88.64 L321.8 88.79 L322.4 88.8 L323 88.8 L323.6 88.7 L324.2 88.76 L324.8 88.84 L325.4 88.81 L326 88.89 L326.6 88.7 L327.2 88.8 L327.8 88.87 L328.41 88.69 L329.01 88.85 L329.62 88.83 L330.22 88.73 L330.82 88.81 L331.43 88.88 L332.03 88.93 L332.63 88.75 L333.24 88.86 L333.84 88.93 L334.45 88.78 L335.05 88.97 L335.65 88.98 L336.26 88.85 L336.86 88.82 L337.46 88.81 L338.07 88.83 L338.67 88.89 L339.28 88.96 L339.88 89.02 L340.48 88.94 L341.09 89.04 L341.69 88.92 L342.29 88.98 L342.9 88.83 L343.5 88.93 L344.11 88.84 L344.71 88.88 L345.31 89.04 L345.92 88.88 L346.52 88.93 L347.12 88.99 L347.73 89 L348.33 88.89 L348.94 88.91 L349.54 89.05 L350.14 88.99 L350.75 88.92 L351.35 89.02 L351.95 89 L352.56 89.16 L353.16 88.93 L353.77 88.97 L354.37 88.95 L354.97 89.07 L355.58 89.18 L356.18 89.14 L356.78 88.98 L357.39 89.09 L357.99 89.05 L358.6 89.21 L359.2 89.1 L359.77 89.1 L360.35 89.02 L360.93 88.89 L361.5 88.9 L362.25 89.43 L363 90 L363.75 89.51 L364.5 89 L365.11 88.98 L365.73 89.03 L366.34 88.93 L366.95 89.02 L367.57 89.16 L368.18 89.03 L368.8 89.07 L369.41 89.13 L370.02 89.16 L370.64 89.15 L371.25 89.07 L371.86 89.16 L372.48 89.05 L373.09 89.16 L373.7 89.02 L374.32 89.07 L374.93 89.08 L375.55 89.13 L376.16 89.23 L376.77 89.07 L377.39 89.28 L378 89.2 L378.6 89.09 L379.2 89.29 L379.8 89.28 L380.4 89.19 L381 89.24 L381.6 89.25 L382.2 89.13 L382.8 89.22 L383.4 89.01 L384 89.18 L384.6 89.14 L385.2 89.16 L385.8 89 L386.4 88.98 L387 89.08 L387.6 89.09 L388.2 89.1 L388.8 88.97 L389.4 89.05 L390 89.14 L390.6 88.96 L391.2 89.09 L391.8 89.11 L392.4 89.04 L393 88.97 L393.6 88.96 L394.2 88.96 L394.8 88.87 L395.4 88.85 L396 88.89 L396.6 88.86 L397.2 89.02 L397.8 88.88 L398.4 89 L399 88.92 L399.6 88.99 L400.2 88.98 L400.8 88.92 L401.4 88.85 L402 88.8 L402.6 88.86 L403.2 88.79 L403.8 88.91 L404.4 88.71 L405 88.85 L405.6 88.77 L406.2 88.78 L406.8 88.8 L407.4 88.9 L408 88.89 L408.6 88.73 L409.2 88.86 L409.8 88.86 L410.4 88.74 L411 88.74 L411.6 88.65 L412.2 88.78 L412.8 88.7 L413.4 88.76 L414 88.79 L414.6 88.71 L415.2 88.72 L415.8 88.67 L416.4 88.56 L417 88.63 L417.6 88.53 L418.2 88.55 L418.8 88.73 L419.4 88.58 L420 88.6 L420.6 88.5 L421.2 88.56 L421.79 88.46 L422.39 88.58 L422.99 88.48 L423.59 88.47 L424.18 88.56 L424.78 88.62 L425.38 88.39 L425.98 88.54 L426.58 88.5 L427.17 88.47 L427.77 88.44 L428.37 88.33 L428.97 88.4 L429.57 88.43 L430.16 88.38 L430.76 88.52 L431.36 88.36 L431.96 88.47 L432.55 88.45 L433.15 88.43 L433.75 88.35 L434.35 88.34 L434.95 88.41 L435.54 88.23 L436.14 88.24 L436.74 88.18 L437.34 88.28 L437.93 88.26 L438.53 88.37 L439.13 88.36 L439.73 88.22 L440.33 88.23 L440.92 88.12 L441.52 88.27 L442.12 88.2 L442.72 88.11 L443.32 88.27 L443.91 88.06 L444.51 88.08 L445.11 88.14 L445.71 88.25 L446.3 88.04 L446.9 88.05 L447.5 88.1 L448.08 88.15 L448.67 88.01 L449.25 88.13 L449.83 87.89 L450.42 87.92 L451 87.91 L451.58 88.02 L452.17 87.82 L452.75 87.93 L453.33 87.96 L453.92 87.96 L454.5 87.89 L455.08 87.69 L455.67 87.77 L456.25 87.75 L456.88 87.81 L457.5 87.91 L458.12 88.06 L458.75 88.31 L459.38 88.39 L460 88.5 L460.63 89.33 L461.27 90.28 L461.9 91.25 L462.52 91.98 L463.13 93.02 L463.75 93.75 L464.37 93.59 L464.98 93.31 L465.6 93.1 L466.25 92.29 L466.9 91.25 L467.5 91.86 L468.1 92.25 L468.75 91.68 L469.4 91.25 L470 91.52 L470.6 91.9 L471.25 91.18 L471.9 90.6 L472.5 91.08 L473.1 91.5 L473.73 90.82 L474.37 90.1 L475 89.4 L475.62 89.47 L476.25 89.4 L476.88 90.01 L477.5 90.6 L478.13 91.39 L478.77 92.31 L479.4 93.1 L480.02 93.84 L480.63 94.26 L481.25 95 L481.87 94.8 L482.48 94.51 L483.1 94.4 L483.73 94.24 L484.37 93.95 L485 93.75 L485.63 94.05 L486.27 94.22 L486.9 94.4 L487.52 94.21 L488.13 93.82 L488.75 93.5 L489.38 94.42 L490 95.3 L490.58 95.19 L491.16 94.93 L491.74 94.6 L492.32 94.32 L492.9 94.2 L493.52 94.17 L494.13 93.83 L494.75 93.9 L495.37 93.77 L495.98 93.57 L496.6 93.4 L497.2 93.27 L497.8 92.96 L498.4 92.76 L499 92.49 L499.6 92.17 L500.2 92 L500.78 92.62 L501.36 93.5 L501.94 94.15 L502.52 94.79 L503.1 95.6 L503.68 95.47 L504.26 95.26 L504.84 95.12 L505.42 95.13 L506 94.9 L506.6 94.79 L507.2 94.68 L507.8 94.56 L508.4 94.32 L509 94.2 L509.58 94.03 L510.16 93.86 L510.74 93.69 L511.32 93.63 L511.9 93.4 L512.48 93.79 L513.06 93.95 L513.64 94.35 L514.22 94.53 L514.8 94.9 L515.35 94.61 L515.9 94.59 L516.45 94.44 L517 94.2 L517.58 94 L518.16 94 L518.74 93.77 L519.32 93.52 L519.9 93.4 L520.48 93.62 L521.06 93.8 L521.64 93.79 L522.22 94.14 L522.8 94.2 L523.38 94.46 L523.96 94.71 L524.54 95.01 L525.12 95.33 L525.7 95.6 L526.28 95.55 L526.86 95.43 L527.44 95.31 L528.02 95.39 L528.6 95.3 L529.21 95.3 L529.83 95.23 L530.44 95.1 L531.06 95.16 L531.67 94.9 L532.29 94.87 L532.9 94.9" fill="none" stroke="#f4a3a3" stroke-width="1.55" stroke-linejoin="round"/>
<path d="M299 105.85 L299.6 105.79 L300.19 105.88 L300.79 105.89 L301.39 105.86 L301.99 105.92 L302.58 105.85 L303.18 105.87 L303.78 106.03 L304.37 106.03 L304.97 105.91 L305.57 106.02 L306.17 106.01 L306.76 106.02 L307.36 106.08 L307.96 106.07 L308.55 106.13 L309.15 106.1 L309.75 106.15 L310.35 106.03 L310.94 106.16 L311.54 106.09 L312.14 106.2 L312.73 106.19 L313.33 106.23 L313.93 106.21 L314.53 106.17 L315.12 106.2 L315.72 106.26 L316.32 106.15 L316.91 106.24 L317.51 106.26 L318.11 106.3 L318.71 106.25 L319.3 106.3 L319.9 106.3 L320.51 106.37 L321.11 106.34 L321.72 106.41 L322.32 106.48 L322.93 106.42 L323.53 106.47 L324.14 106.49 L324.74 106.58 L325.35 106.51 L325.96 106.54 L326.56 106.59 L327.17 106.66 L327.77 106.61 L328.38 106.77 L328.98 106.72 L329.59 106.78 L330.19 106.76 L330.8 106.72 L331.41 106.81 L332.01 106.87 L332.62 106.82 L333.22 106.99 L333.83 106.95 L334.43 106.96 L335.04 106.92 L335.64 106.98 L336.25 107.02 L336.86 107.1 L337.46 107.05 L338.07 107.13 L338.67 107.12 L339.28 107.2 L339.88 107.25 L340.49 107.25 L341.09 107.31 L341.7 107.3 L342.31 107.32 L342.92 107.23 L343.52 107.33 L344.13 107.3 L344.74 107.34 L345.35 107.37 L345.96 107.28 L346.57 107.36 L347.18 107.26 L347.78 107.32 L348.39 107.22 L349 107.35 L349.61 107.29 L350.22 107.29 L350.82 107.3 L351.43 107.28 L352.04 107.26 L352.65 107.33 L353.26 107.32 L353.87 107.23 L354.48 107.26 L355.08 107.37 L355.69 107.27 L356.3 107.3 L356.93 107.17 L357.56 107.11 L358.19 106.98 L358.81 106.97 L359.44 106.88 L360.07 106.64 L360.7 106.6 L361.25 106.73 L361.8 106.9 L362.35 107.12 L362.9 107.3 L363.6 109.5 L364.3 108.02 L365 106.6 L365.63 106.67 L366.26 106.75 L366.89 106.66 L367.51 106.7 L368.14 106.75 L368.77 106.83 L369.4 106.9 L370.15 107.04 L370.9 107.3 L371.6 106.79 L372.3 106.3 L372.93 106.18 L373.57 106.14 L374.2 106.07 L374.83 105.98 L375.47 105.79 L376.1 105.72 L376.73 105.54 L377.37 105.52 L378 105.4 L378.59 105.43 L379.19 105.41 L379.78 105.26 L380.38 105.24 L380.97 105.33 L381.57 105.27 L382.16 105.25 L382.76 105.11 L383.35 105.18 L383.95 105.05 L384.54 105.14 L385.14 105.12 L385.73 105.02 L386.32 104.94 L386.92 105.03 L387.51 105.05 L388.11 104.96 L388.7 104.89 L389.3 104.86 L389.89 104.91 L390.49 104.91 L391.08 104.78 L391.68 104.73 L392.27 104.83 L392.86 104.71 L393.46 104.69 L394.05 104.64 L394.65 104.68 L395.24 104.69 L395.84 104.58 L396.43 104.62 L397.03 104.52 L397.62 104.5 L398.22 104.53 L398.81 104.53 L399.41 104.47 L400 104.4 L400.61 104.4 L401.21 104.39 L401.82 104.38 L402.42 104.35 L403.03 104.25 L403.64 104.2 L404.24 104.11 L404.85 104.16 L405.45 104.1 L406.06 104.02 L406.67 104.15 L407.27 104.01 L407.88 104.08 L408.48 103.9 L409.09 103.92 L409.7 103.96 L410.3 103.91 L410.91 103.88 L411.52 103.82 L412.12 103.73 L412.73 103.82 L413.33 103.78 L413.94 103.7 L414.55 103.68 L415.15 103.69 L415.76 103.61 L416.36 103.58 L416.97 103.55 L417.58 103.56 L418.18 103.53 L418.79 103.43 L419.39 103.47 L420 103.4 L420.61 103.35 L421.21 103.37 L421.82 103.29 L422.42 103.34 L423.03 103.32 L423.64 103.26 L424.24 103.17 L424.85 103.13 L425.45 103.12 L426.06 103.11 L426.67 102.99 L427.27 103.04 L427.88 103.07 L428.48 102.91 L429.09 103.01 L429.7 102.93 L430.3 102.96 L430.91 102.89 L431.52 102.86 L432.12 102.83 L432.73 102.75 L433.33 102.67 L433.94 102.76 L434.55 102.73 L435.15 102.68 L435.76 102.57 L436.36 102.58 L436.97 102.55 L437.58 102.5 L438.18 102.49 L438.79 102.45 L439.39 102.51 L440 102.4 L440.62 102.42 L441.25 102.48 L441.88 102.47 L442.5 102.35 L443.12 102.44 L443.75 102.38 L444.38 102.42 L445 102.41 L445.62 102.44 L446.25 102.37 L446.88 102.43 L447.5 102.4 L448.12 102.49 L448.75 102.66 L449.38 102.72 L450 102.85 L450.62 103.01 L451.25 103 L451.88 103.06 L452.5 103.25 L453.08 103.49 L453.67 103.6 L454.25 103.8 L454.83 104 L455.42 104.19 L456 104.3 L456.55 104.33 L457.1 104.48 L457.65 104.43 L458.2 104.54 L458.75 104.6 L459.3 104.6 L459.8 105.53 L460.3 106.5 L460.85 109.24 L461.4 112 L462.05 114.38 L462.7 116.8 L463.45 118.42 L464.2 120.1 L464.73 118.45 L465.27 116.89 L465.8 115.2 L466.33 113.33 L466.87 111.68 L467.4 109.8 L468.2 114.1 L469 108.7 L469.9 115.2 L470.45 111.45 L471 107.6 L471.55 111.71 L472.1 115.8 L472.8 107.6 L473.35 107.07 L473.9 106.5 L474.47 106.1 L475.03 105.81 L475.6 105.4 L476.25 105.21 L476.9 104.9 L477.7 106 L478.27 107.61 L478.83 109.27 L479.4 110.9 L479.93 112.66 L480.47 114.46 L481 116.3 L481.6 118.71 L482.2 121 L482.9 120.32 L483.6 119.6 L484.15 118.19 L484.7 116.8 L485.25 118.47 L485.8 120.1 L486.33 118.78 L486.87 117.49 L487.4 116.3 L488.1 115.18 L488.8 114.1 L489.45 116.56 L490.1 119 L490.65 117.85 L491.2 116.8 L491.75 116.01 L492.3 115.2 L492.85 116.27 L493.4 117.4 L493.93 116.26 L494.47 115.24 L495 114.1 L495.55 113.28 L496.1 112.54 L496.65 111.74 L497.2 110.9 L497.78 110.12 L498.36 109.31 L498.94 108.67 L499.52 107.87 L500.1 107.1 L500.8 108.46 L501.5 109.8 L502.05 113.08 L502.6 116.3 L503.5 120.5 L504.25 119.26 L505 118 L505.75 116.82 L506.5 115.5 L507.25 114.92 L508 114.5 L508.5 115.32 L509 116 L509.75 114.77 L510.5 113.5 L511 113.24 L511.5 113 L512.25 112.57 L513 112 L513.6 112.56 L514.2 113 L514.85 116.27 L515.5 119.5 L516.15 117.17 L516.8 115 L517.4 114.77 L518 114.5 L518.75 113.99 L519.5 113.5 L520.25 113.01 L521 112.5 L521.5 112.8 L522 113 L522.5 115.69 L523 118.5 L523.5 112.5 L524 113.56 L524.5 114.5 L525 116.47 L525.5 118.5 L526 119.71 L526.5 121 L527.25 119.93 L528 119 L528.75 118.19 L529.5 117.5 L530.25 116.96 L531 116.5 L531.63 116.34 L532.27 116.24 L532.9 116" fill="none" stroke="#12a012" stroke-width="1.55" stroke-linejoin="round"/>
<path d="M299 124.4 L299.6 124.37 L300.2 124.41 L300.8 124.45 L301.4 124.52 L302 124.49 L302.6 124.57 L303.2 124.51 L303.8 124.51 L304.4 124.62 L305 124.67 L305.6 124.6 L306.2 124.61 L306.8 124.73 L307.4 124.66 L308 124.82 L308.6 124.8 L309.2 124.74 L309.8 124.81 L310.4 124.77 L311 124.8 L311.6 124.87 L312.2 124.98 L312.8 125 L313.4 125 L314 125.01 L314.6 125.02 L315.2 125.03 L315.8 125.08 L316.4 125.08 L317 125.09 L317.6 125.18 L318.2 125.12 L318.8 125.16 L319.4 125.22 L320 125.29 L320.6 125.22 L321.2 125.26 L321.8 125.27 L322.4 125.27 L323 125.31 L323.6 125.41 L324.2 125.33 L324.8 125.4 L325.4 125.4 L326 125.47 L326.6 125.52 L327.2 125.5 L327.8 125.46 L328.4 125.55 L329 125.53 L329.6 125.63 L330.2 125.66 L330.8 125.61 L331.4 125.64 L332 125.68 L332.6 125.71 L333.2 125.83 L333.8 125.85 L334.4 125.86 L335 125.83 L335.6 125.86 L336.2 125.85 L336.8 125.91 L337.4 126.02 L338 125.91 L338.6 125.98 L339.2 125.98 L339.8 126.11 L340.4 126.05 L341 126.1 L341.6 126.06 L342.2 126.19 L342.8 126.19 L343.4 126.26 L344 126.27 L344.6 126.3 L345.2 126.25 L345.8 126.28 L346.4 126.36 L347 126.3 L347.6 126.46 L348.2 126.46 L348.8 126.45 L349.4 126.45 L350 126.5 L350.57 126.43 L351.15 126.51 L351.72 126.54 L352.29 126.44 L352.86 126.44 L353.44 126.53 L354.01 126.5 L354.58 126.55 L355.15 126.49 L355.73 126.58 L356.3 126.5 L356.89 126.57 L357.48 126.5 L358.06 126.54 L358.65 126.56 L359.24 126.55 L359.82 126.63 L360.41 126.62 L361 126.6 L361.67 126.92 L362.33 127.09 L363 127.4 L363.67 127.13 L364.33 126.87 L365 126.6 L365.59 126.6 L366.18 126.5 L366.77 126.61 L367.36 126.54 L367.95 126.48 L368.55 126.57 L369.14 126.51 L369.73 126.53 L370.32 126.52 L370.91 126.48 L371.5 126.52 L372.09 126.37 L372.68 126.4 L373.27 126.36 L373.86 126.42 L374.45 126.34 L375.05 126.29 L375.64 126.3 L376.23 126.29 L376.82 126.33 L377.41 126.31 L378 126.3 L378.6 126.24 L379.2 126.12 L379.8 126.15 L380.4 126.06 L381 125.98 L381.6 125.93 L382.2 125.89 L382.8 125.88 L383.4 125.8 L384 125.79 L384.6 125.7 L385.2 125.74 L385.8 125.71 L386.4 125.57 L387 125.48 L387.6 125.57 L388.2 125.38 L388.8 125.42 L389.4 125.39 L390 125.3 L390.6 125.28 L391.2 125.33 L391.8 125.19 L392.4 125.26 L393 125.28 L393.6 125.26 L394.2 125.23 L394.8 125.15 L395.4 125.14 L396 125.18 L396.6 125.08 L397.2 125.04 L397.8 124.99 L398.4 125 L399 124.97 L399.6 125.08 L400.2 124.96 L400.8 124.95 L401.4 125.03 L402 124.97 L402.6 124.91 L403.2 124.84 L403.8 124.86 L404.4 124.83 L405 124.92 L405.6 124.82 L406.2 124.89 L406.8 124.76 L407.4 124.71 L408 124.82 L408.6 124.67 L409.2 124.77 L409.8 124.72 L410.4 124.65 L411 124.72 L411.6 124.64 L412.2 124.71 L412.8 124.63 L413.4 124.67 L414 124.65 L414.6 124.54 L415.2 124.57 L415.8 124.56 L416.4 124.53 L417 124.41 L417.6 124.5 L418.2 124.5 L418.8 124.39 L419.4 124.35 L420 124.4 L420.61 124.31 L421.21 124.36 L421.82 124.26 L422.42 124.36 L423.03 124.27 L423.64 124.33 L424.24 124.27 L424.85 124.19 L425.45 124.13 L426.06 124.15 L426.67 124.15 L427.27 124.17 L427.88 124.15 L428.48 124.03 L429.09 123.96 L429.7 124.04 L430.3 124.02 L430.91 123.99 L431.52 123.99 L432.12 123.97 L432.73 123.91 L433.33 123.92 L433.94 123.78 L434.55 123.89 L435.15 123.82 L435.76 123.7 L436.36 123.69 L436.97 123.74 L437.58 123.67 L438.18 123.74 L438.79 123.61 L439.39 123.62 L440 123.6 L440.62 123.65 L441.25 123.78 L441.88 123.73 L442.5 123.88 L443.12 123.91 L443.75 123.94 L444.38 124.05 L445 124.09 L445.62 124.13 L446.25 124.15 L446.88 124.12 L447.5 124.25 L448.12 124.33 L448.75 124.52 L449.38 124.56 L450 124.77 L450.62 124.85 L451.25 124.98 L451.88 125.18 L452.5 125.25 L453.12 125.12 L453.75 124.91 L454.38 124.68 L455 124.5 L455.5 124.81 L456 125.1 L456.68 125.35 L457.35 125.52 L458.02 125.64 L458.7 125.8 L459.23 126.2 L459.77 126.8 L460.3 127.2 L460.87 128.06 L461.43 129.01 L462 130 L462.53 130.93 L463.07 131.75 L463.6 132.7 L464.13 131.84 L464.67 130.93 L465.2 130 L465.77 128.85 L466.33 127.87 L466.9 126.7 L467.45 127.88 L468 128.9 L468.5 128.08 L469 127.2 L469.55 128.38 L470.1 129.4 L470.65 128.55 L471.2 127.6 L471.75 128.8 L472.3 130 L472.83 129.12 L473.37 128.2 L473.9 127.2 L474.47 127.06 L475.03 126.8 L475.6 126.7 L476.13 126.85 L476.67 127.07 L477.2 127.2 L477.73 127.91 L478.27 128.61 L478.8 129.4 L479.37 130.49 L479.93 131.54 L480.5 132.7 L481.05 133.8 L481.6 134.9 L482.15 134.19 L482.7 133.6 L483.45 133.09 L484.2 132.5 L484.7 133 L485.2 133.6 L485.77 132.94 L486.33 132.07 L486.9 131.4 L487.43 131.05 L487.97 130.69 L488.5 130.3 L489.2 131.6 L489.9 133 L490.53 132.49 L491.17 131.94 L491.8 131.4 L492.33 131.62 L492.87 131.75 L493.4 132 L493.95 131.57 L494.5 131.2 L495.05 130.74 L495.6 130.3 L496.3 129.89 L497 129.54 L497.7 129.2 L498.3 129.14 L498.9 128.88 L499.5 128.82 L500.1 128.7 L500.8 129.5 L501.5 130.3 L502.25 132.19 L503 134.1 L503.5 134.57 L504 135.2 L504.5 134.34 L505 133.6 L505.63 133.25 L506.27 132.79 L506.9 132.4 L507.52 132.23 L508.13 132.13 L508.75 132 L509.37 131.63 L509.98 131.33 L510.6 131.1 L511.23 130.95 L511.87 130.74 L512.5 130.5 L513.13 130.45 L513.77 130.47 L514.4 130.5 L515 132.31 L515.6 134.25 L516.25 132.97 L516.9 131.75 L517.52 131.34 L518.13 130.96 L518.75 130.5 L519.37 130.5 L519.98 130.56 L520.6 130.5 L521.25 131.53 L521.9 132.4 L522.5 132.09 L523.1 131.75 L523.73 132.29 L524.37 132.92 L525 133.6 L525.75 135.2 L526.5 136.75 L527.03 136.07 L527.57 135.58 L528.1 134.9 L528.73 134.4 L529.37 133.96 L530 133.6 L530.58 133.61 L531.16 133.45 L531.74 133.4 L532.32 133.34 L532.9 133.25" fill="none" stroke="#93d16f" stroke-width="1.55" stroke-linejoin="round"/>
<path d="M299 144.4 L299.6 144.34 L300.2 144.37 L300.8 144.37 L301.4 144.43 L302 144.43 L302.6 144.42 L303.2 144.33 L303.8 144.38 L304.4 144.45 L305 144.32 L305.6 144.35 L306.2 144.39 L306.8 144.45 L307.4 144.29 L308 144.4 L308.6 144.36 L309.2 144.36 L309.8 144.41 L310.4 144.29 L311 144.37 L311.6 144.32 L312.2 144.39 L312.8 144.38 L313.4 144.33 L314 144.29 L314.6 144.38 L315.2 144.37 L315.8 144.34 L316.4 144.37 L317 144.4 L317.6 144.29 L318.2 144.36 L318.8 144.37 L319.4 144.28 L320 144.38 L320.6 144.29 L321.2 144.39 L321.8 144.32 L322.4 144.38 L323 144.37 L323.6 144.35 L324.2 144.28 L324.8 144.29 L325.4 144.31 L326 144.34 L326.6 144.28 L327.2 144.35 L327.8 144.24 L328.4 144.29 L329 144.23 L329.6 144.23 L330.2 144.24 L330.8 144.2 L331.4 144.28 L332 144.29 L332.6 144.25 L333.2 144.31 L333.8 144.27 L334.4 144.29 L335 144.19 L335.6 144.23 L336.2 144.18 L336.8 144.2 L337.4 144.31 L338 144.19 L338.6 144.26 L339.2 144.22 L339.8 144.27 L340.4 144.3 L341 144.29 L341.6 144.31 L342.2 144.31 L342.8 144.21 L343.4 144.3 L344 144.27 L344.6 144.19 L345.2 144.19 L345.8 144.22 L346.4 144.27 L347 144.15 L347.6 144.27 L348.2 144.23 L348.8 144.22 L349.4 144.19 L350 144.2 L350.59 144.18 L351.18 144.18 L351.76 144.23 L352.35 144.19 L352.94 144.23 L353.53 144.26 L354.12 144.13 L354.71 144.12 L355.29 144.27 L355.88 144.15 L356.47 144.25 L357.06 144.18 L357.65 144.16 L358.24 144.12 L358.82 144.19 L359.41 144.22 L360 144.2 L360.67 144.4 L361.33 144.66 L362 145 L362.55 146.07 L363.1 147.2 L363.8 146.16 L364.5 145 L365.08 145.04 L365.67 144.96 L366.25 144.98 L366.83 144.99 L367.42 145.03 L368 144.97 L368.58 144.98 L369.17 145 L369.75 144.96 L370.33 144.99 L370.92 145.04 L371.5 145 L372.08 144.93 L372.67 144.98 L373.25 145.01 L373.83 144.96 L374.42 144.98 L375 145 L375.6 144.95 L376.2 144.86 L376.8 144.77 L377.4 144.82 L378 144.63 L378.6 144.71 L379.2 144.52 L379.8 144.53 L380.4 144.47 L381 144.39 L381.6 144.36 L382.2 144.34 L382.8 144.19 L383.4 144.09 L384 144.05 L384.6 144.1 L385.2 144 L385.8 143.96 L386.4 143.84 L387 143.77 L387.6 143.77 L388.2 143.69 L388.8 143.69 L389.4 143.51 L390 143.5 L390.6 143.46 L391.2 143.51 L391.8 143.54 L392.4 143.45 L393 143.5 L393.6 143.38 L394.2 143.45 L394.8 143.39 L395.4 143.44 L396 143.37 L396.6 143.34 L397.2 143.34 L397.8 143.41 L398.4 143.39 L399 143.42 L399.6 143.33 L400.2 143.26 L400.8 143.37 L401.4 143.27 L402 143.33 L402.6 143.29 L403.2 143.27 L403.8 143.19 L404.4 143.22 L405 143.29 L405.6 143.23 L406.2 143.29 L406.8 143.27 L407.4 143.22 L408 143.28 L408.6 143.11 L409.2 143.16 L409.8 143.18 L410.4 143.09 L411 143.21 L411.6 143.08 L412.2 143.14 L412.8 143.08 L413.4 143.09 L414 143.09 L414.6 143.06 L415.2 143.03 L415.8 143.1 L416.4 143.08 L417 142.98 L417.6 143.12 L418.2 142.97 L418.8 142.98 L419.4 142.98 L420 143 L420.61 142.97 L421.21 142.98 L421.82 143.04 L422.42 142.91 L423.03 142.97 L423.64 142.97 L424.24 142.91 L424.85 142.92 L425.45 142.92 L426.06 142.99 L426.67 142.96 L427.27 142.91 L427.88 142.83 L428.48 142.87 L429.09 142.94 L429.7 142.87 L430.3 142.85 L430.91 142.89 L431.52 142.78 L432.12 142.87 L432.73 142.87 L433.33 142.77 L433.94 142.81 L434.55 142.88 L435.15 142.77 L435.76 142.81 L436.36 142.77 L436.97 142.8 L437.58 142.76 L438.18 142.75 L438.79 142.83 L439.39 142.79 L440 142.75 L440.59 142.81 L441.19 142.69 L441.78 142.69 L442.37 142.66 L442.96 142.73 L443.56 142.63 L444.15 142.66 L444.74 142.56 L445.33 142.61 L445.93 142.55 L446.52 142.63 L447.11 142.53 L447.7 142.61 L448.3 142.53 L448.89 142.47 L449.48 142.49 L450.07 142.54 L450.67 142.48 L451.26 142.49 L451.85 142.43 L452.44 142.42 L453.04 142.33 L453.63 142.42 L454.22 142.37 L454.81 142.36 L455.41 142.29 L456 142.3 L456.55 142.44 L457.1 142.5 L457.65 142.57 L458.2 142.78 L458.75 142.84 L459.3 142.9 L459.8 144.03 L460.3 145.1 L461 148.1 L461.7 151 L462.2 153.48 L462.7 155.9 L463.45 158.08 L464.2 160.3 L464.73 158.37 L465.27 156.36 L465.8 154.3 L466.33 152.16 L466.87 149.96 L467.4 147.8 L468.2 152.1 L469 146.7 L469.9 154.3 L470.45 150.25 L471 146.2 L471.65 150.73 L472.3 155.4 L473.2 146.2 L473.75 145.41 L474.3 144.5 L475.05 144.3 L475.8 144 L476.35 144.27 L476.9 144.5 L477.6 146.69 L478.3 148.9 L478.83 150.75 L479.37 152.42 L479.9 154.3 L480.47 156.52 L481.03 158.73 L481.6 161 L482.35 159.77 L483.1 158.5 L483.65 156.83 L484.2 155.2 L484.7 157.12 L485.2 159 L485.77 157.8 L486.33 156.45 L486.9 155.2 L487.45 154.04 L488 153 L488.53 154.56 L489.07 156.32 L489.6 157.9 L490.15 156.54 L490.7 155.2 L491.25 154.64 L491.8 154.1 L492.3 155.37 L492.8 156.8 L493.35 155.14 L493.9 153.6 L494.47 152.99 L495.03 152.6 L495.6 152 L496.3 150.99 L497 150.1 L497.7 149.2 L498.25 148.4 L498.8 147.61 L499.35 146.76 L499.9 146 L500.43 146.92 L500.97 147.82 L501.5 148.7 L502.05 152.58 L502.6 156.3 L503.15 158.68 L503.7 161.2 L504.35 159.02 L505 156.9 L505.63 155.79 L506.27 154.77 L506.9 153.75 L507.5 153.08 L508.1 152.5 L508.75 153.37 L509.4 154.4 L510 152.55 L510.6 150.6 L511.25 149.64 L511.9 148.75 L512.5 150.04 L513.1 151.25 L513.75 150.05 L514.4 148.75 L515 153.8 L515.6 158.75 L516.25 154.92 L516.9 151.25 L517.5 150.64 L518.1 150 L518.73 149.22 L519.37 148.35 L520 147.5 L520.63 150.43 L521.27 153.32 L521.9 156.25 L522.5 152.23 L523.1 148.1 L523.75 152.51 L524.4 156.9 L525 158.43 L525.6 160 L526.25 160.95 L526.9 161.9 L527.5 159.07 L528.1 156.25 L528.65 155.15 L529.2 154.18 L529.75 153.1 L530.5 152.23 L531.25 151.25 L531.8 151.19 L532.35 151 L532.9 151" fill="none" stroke="#1a78c2" stroke-width="1.55" stroke-linejoin="round"/>
<path d="M299 163.4 L299.6 163.38 L300.2 163.44 L300.8 163.34 L301.4 163.4 L302 163.42 L302.61 163.4 L303.21 163.37 L303.81 163.31 L304.41 163.42 L305.01 163.34 L305.61 163.41 L306.21 163.39 L306.81 163.42 L307.41 163.32 L308.01 163.46 L308.62 163.42 L309.22 163.44 L309.82 163.33 L310.42 163.42 L311.02 163.36 L311.62 163.41 L312.22 163.41 L312.82 163.36 L313.42 163.45 L314.02 163.37 L314.63 163.37 L315.23 163.41 L315.83 163.32 L316.43 163.43 L317.03 163.34 L317.63 163.43 L318.23 163.31 L318.83 163.31 L319.43 163.38 L320.03 163.32 L320.64 163.35 L321.24 163.32 L321.84 163.4 L322.44 163.4 L323.04 163.39 L323.64 163.3 L324.24 163.29 L324.84 163.37 L325.44 163.29 L326.04 163.39 L326.65 163.36 L327.25 163.42 L327.85 163.4 L328.45 163.38 L329.05 163.4 L329.65 163.35 L330.25 163.32 L330.85 163.28 L331.45 163.38 L332.05 163.37 L332.66 163.37 L333.26 163.35 L333.86 163.34 L334.46 163.41 L335.06 163.32 L335.66 163.28 L336.26 163.41 L336.86 163.38 L337.46 163.4 L338.06 163.41 L338.67 163.32 L339.27 163.28 L339.87 163.33 L340.47 163.33 L341.07 163.31 L341.67 163.38 L342.27 163.29 L342.87 163.4 L343.47 163.28 L344.07 163.29 L344.68 163.38 L345.28 163.28 L345.88 163.36 L346.48 163.29 L347.08 163.31 L347.68 163.31 L348.28 163.28 L348.88 163.37 L349.48 163.39 L350.08 163.38 L350.69 163.26 L351.29 163.24 L351.89 163.3 L352.49 163.35 L353.09 163.32 L353.69 163.38 L354.29 163.39 L354.89 163.34 L355.49 163.27 L356.09 163.29 L356.7 163.24 L357.3 163.29 L357.9 163.34 L358.5 163.27 L359.1 163.25 L359.7 163.3 L360.27 163.43 L360.85 163.61 L361.43 163.7 L362 163.8 L362.5 164.34 L363 165 L363.75 164.29 L364.5 163.6 L365.1 163.54 L365.7 163.62 L366.31 163.54 L366.91 163.52 L367.51 163.58 L368.11 163.47 L368.71 163.47 L369.31 163.54 L369.92 163.42 L370.52 163.44 L371.12 163.44 L371.72 163.37 L372.32 163.4 L372.92 163.35 L373.53 163.4 L374.13 163.34 L374.73 163.35 L375.33 163.31 L375.93 163.31 L376.53 163.24 L377.14 163.19 L377.74 163.21 L378.34 163.18 L378.94 163.12 L379.54 163.22 L380.14 163.16 L380.75 163.14 L381.35 163.16 L381.95 163.04 L382.55 163.03 L383.15 163.11 L383.75 162.98 L384.36 163.1 L384.96 163.03 L385.56 163.08 L386.16 163.05 L386.76 162.96 L387.36 162.93 L387.97 162.93 L388.57 162.97 L389.17 162.9 L389.77 162.92 L390.37 162.95 L390.97 162.89 L391.58 162.84 L392.18 162.86 L392.78 162.8 L393.38 162.8 L393.98 162.76 L394.58 162.82 L395.19 162.81 L395.79 162.73 L396.39 162.71 L396.99 162.62 L397.59 162.68 L398.19 162.72 L398.8 162.59 L399.4 162.66 L400 162.6 L400.6 162.55 L401.19 162.61 L401.79 162.53 L402.39 162.57 L402.99 162.59 L403.58 162.46 L404.18 162.58 L404.78 162.52 L405.37 162.47 L405.97 162.46 L406.57 162.49 L407.16 162.51 L407.76 162.41 L408.36 162.38 L408.96 162.4 L409.55 162.45 L410.15 162.41 L410.75 162.45 L411.34 162.44 L411.94 162.37 L412.54 162.39 L413.13 162.31 L413.73 162.38 L414.33 162.37 L414.93 162.3 L415.52 162.35 L416.12 162.26 L416.72 162.38 L417.31 162.3 L417.91 162.35 L418.51 162.3 L419.1 162.22 L419.7 162.29 L420.3 162.26 L420.9 162.21 L421.49 162.25 L422.09 162.26 L422.69 162.23 L423.28 162.15 L423.88 162.26 L424.48 162.24 L425.07 162.15 L425.67 162.22 L426.27 162.22 L426.87 162.1 L427.46 162.07 L428.06 162.07 L428.66 162.1 L429.25 162.03 L429.85 162.04 L430.45 162.1 L431.04 161.98 L431.64 162.06 L432.24 162.02 L432.84 162.06 L433.43 161.98 L434.03 162 L434.63 161.95 L435.22 161.91 L435.82 162.03 L436.42 161.94 L437.01 161.92 L437.61 162.01 L438.21 161.91 L438.81 161.93 L439.4 161.85 L440 161.9 L440.59 161.89 L441.19 161.97 L441.78 161.96 L442.37 161.97 L442.96 161.98 L443.56 161.88 L444.15 161.85 L444.74 161.87 L445.33 161.96 L445.93 161.94 L446.52 161.92 L447.11 161.98 L447.7 161.9 L448.3 161.97 L448.89 161.94 L449.48 161.9 L450.07 162.01 L450.67 161.92 L451.26 162.02 L451.85 162.02 L452.44 161.97 L453.04 161.97 L453.63 161.94 L454.22 161.93 L454.81 162.02 L455.41 161.98 L456 162 L456.68 162.09 L457.35 162.13 L458.02 162.19 L458.7 162.3 L459.23 162.88 L459.77 163.61 L460.3 164.2 L461 166.59 L461.7 169 L462.2 171.39 L462.7 173.9 L463.25 175.61 L463.8 177.2 L464.5 175.24 L465.2 173.4 L465.77 171.19 L466.33 169.01 L466.9 166.9 L467.7 170.7 L468.25 168.51 L468.8 166.3 L469.7 171.2 L470.2 168.79 L470.7 166.3 L471.25 169.22 L471.8 172.3 L472.3 169.12 L472.8 165.8 L473.37 165.3 L473.93 164.79 L474.5 164.2 L475.03 163.82 L475.57 163.46 L476.1 163.1 L476.65 163.59 L477.2 164.2 L477.73 165.76 L478.27 167.46 L478.8 169 L479.37 170.97 L479.93 173.06 L480.5 175 L481 176.85 L481.5 178.6 L482.1 177.87 L482.7 177 L483.25 175.59 L483.8 174.3 L484.5 175.39 L485.2 176.5 L485.77 175.29 L486.33 173.94 L486.9 172.7 L487.43 171.93 L487.97 171.16 L488.5 170.5 L489.2 172.41 L489.9 174.3 L490.55 173.21 L491.2 172.1 L491.75 171.5 L492.3 171 L492.85 172.06 L493.4 173.2 L493.93 172.32 L494.47 171.35 L495 170.5 L495.55 170 L496.1 169.46 L496.65 168.84 L497.2 168.3 L497.78 167.6 L498.36 167.03 L498.94 166.35 L499.52 165.68 L500.1 165.1 L500.8 166.48 L501.5 167.8 L502.05 171.06 L502.6 174.3 L503.2 178 L503.85 176.21 L504.5 174.5 L505.25 173.21 L506 172 L506.75 171.29 L507.5 170.5 L508.25 170.82 L509 171 L509.75 169.98 L510.5 169 L511.25 168.51 L512 168 L512.5 167.71 L513 167.5 L513.5 167.99 L514 168.5 L514.75 172.51 L515.5 176.5 L516.25 173.72 L517 171 L517.75 170.52 L518.5 170 L519.25 169.01 L520 168 L520.5 167.43 L521 167 L521.8 168 L522.5 174 L523.2 167.5 L523.7 168.19 L524.2 169 L524.7 171.99 L525.2 175 L525.7 176.69 L526.2 178.5 L526.85 177.01 L527.5 175.5 L528.25 174.26 L529 173 L529.75 172.02 L530.5 171 L531.25 170.56 L532 170 L532.9 169.8" fill="none" stroke="#86c6ec" stroke-width="1.55" stroke-linejoin="round"/>
<rect x="299" y="2.7" width="233.9" height="182.7" fill="none" stroke="#262626" stroke-width="1.35"/>
<line x1="299" y1="185.4" x2="299" y2="188.8" stroke="#3a3a3a" stroke-width="0.9"/>
<text x="299" y="196.7" font-size="6.3" text-anchor="middle" fill="#333">4000</text>
<line x1="315.71" y1="185.4" x2="315.71" y2="187" stroke="#3a3a3a" stroke-width="0.9"/>
<line x1="332.41" y1="185.4" x2="332.41" y2="188.8" stroke="#3a3a3a" stroke-width="0.9"/>
<text x="332.41" y="196.7" font-size="6.3" text-anchor="middle" fill="#333">3500</text>
<line x1="349.12" y1="185.4" x2="349.12" y2="187" stroke="#3a3a3a" stroke-width="0.9"/>
<line x1="365.83" y1="185.4" x2="365.83" y2="188.8" stroke="#3a3a3a" stroke-width="0.9"/>
<text x="365.83" y="196.7" font-size="6.3" text-anchor="middle" fill="#333">3000</text>
<line x1="382.54" y1="185.4" x2="382.54" y2="187" stroke="#3a3a3a" stroke-width="0.9"/>
<line x1="399.24" y1="185.4" x2="399.24" y2="188.8" stroke="#3a3a3a" stroke-width="0.9"/>
<text x="399.24" y="196.7" font-size="6.3" text-anchor="middle" fill="#333">2500</text>
<line x1="415.95" y1="185.4" x2="415.95" y2="187" stroke="#3a3a3a" stroke-width="0.9"/>
<line x1="432.66" y1="185.4" x2="432.66" y2="188.8" stroke="#3a3a3a" stroke-width="0.9"/>
<text x="432.66" y="196.7" font-size="6.3" text-anchor="middle" fill="#333">2000</text>
<line x1="449.36" y1="185.4" x2="449.36" y2="187" stroke="#3a3a3a" stroke-width="0.9"/>
<line x1="466.07" y1="185.4" x2="466.07" y2="188.8" stroke="#3a3a3a" stroke-width="0.9"/>
<text x="466.07" y="196.7" font-size="6.3" text-anchor="middle" fill="#333">1500</text>
<line x1="482.78" y1="185.4" x2="482.78" y2="187" stroke="#3a3a3a" stroke-width="0.9"/>
<line x1="499.49" y1="185.4" x2="499.49" y2="188.8" stroke="#3a3a3a" stroke-width="0.9"/>
<text x="499.49" y="196.7" font-size="6.3" text-anchor="middle" fill="#333">1000</text>
<line x1="516.19" y1="185.4" x2="516.19" y2="187" stroke="#3a3a3a" stroke-width="0.9"/>
<line x1="532.9" y1="185.4" x2="532.9" y2="188.8" stroke="#3a3a3a" stroke-width="0.9"/>
<text x="532.9" y="196.7" font-size="6.3" text-anchor="middle" fill="#333">500</text>
<text transform="translate(301.6 15.7) scale(1 1.17)" font-size="7.5" text-anchor="start" fill="#1a1a1a" stroke="#1a1a1a" stroke-width="0.16">RGO</text>
<text transform="translate(300.9 30.4) scale(0.96 1.17)" font-size="7.5" text-anchor="start" fill="#1a1a1a" stroke="#1a1a1a" stroke-width="0.16">GO<tspan font-size="7" dy="2.6">-OH</tspan></text>
<text transform="translate(300.9 48.8) scale(0.96 1.17)" font-size="7.5" text-anchor="start" fill="#1a1a1a" stroke="#1a1a1a" stroke-width="0.16">GO</text>
<text transform="translate(300.6 66.8) scale(0.96 1.17)" font-size="7.5" text-anchor="start" fill="#1a1a1a" stroke="#1a1a1a" stroke-width="0.16">PMMA</text>
<text transform="translate(300.6 85.2) scale(0.96 1.17)" font-size="7.5" text-anchor="start" fill="#1a1a1a" stroke="#1a1a1a" stroke-width="0.16">HMX/PMMA/RGO</text>
<text transform="translate(300.6 101.8) scale(0.96 1.17)" font-size="7.5" text-anchor="start" fill="#1a1a1a" stroke="#1a1a1a" stroke-width="0.16">HMX/PMMA/GO<tspan font-size="7" dy="3.2">-OH</tspan></text>
<text transform="translate(300.6 121.1) scale(0.96 1.17)" font-size="7.5" text-anchor="start" fill="#1a1a1a" stroke="#1a1a1a" stroke-width="0.16">HMX/PMMA/GO</text>
<text transform="translate(301.4 140.4) scale(0.96 1.17)" font-size="7.5" text-anchor="start" fill="#1a1a1a" stroke="#1a1a1a" stroke-width="0.16">HMX/PMMA</text>
<text transform="translate(301.2 160.3) scale(0.96 1.17)" font-size="7.5" text-anchor="start" fill="#1a1a1a" stroke="#1a1a1a" stroke-width="0.16">Raw-HMX</text>
<text transform="translate(351.4 68.2) scale(1 1.1)" font-size="6.4" text-anchor="start" fill="#1a1a1a" stroke="#1a1a1a" stroke-width="0.16">2840</text>
<text transform="translate(341 157.2) scale(1 1.1)" font-size="6.4" text-anchor="start" fill="#1a1a1a" stroke="#1a1a1a" stroke-width="0.16">3032</text>
<text transform="translate(492.2 105.7) scale(1 1.1)" font-size="6.4" text-anchor="start" fill="#1a1a1a" stroke="#1a1a1a" stroke-width="0.16">1350</text>
<text transform="translate(492.6 142.6) scale(1 1.1)" font-size="6.4" text-anchor="start" fill="#1a1a1a" stroke="#1a1a1a" stroke-width="0.16">1267</text>
<text transform="translate(438 171.4) scale(1 1.1)" font-size="6.4" text-anchor="start" fill="#1a1a1a" stroke="#1a1a1a" stroke-width="0.16">1572</text>
<text transform="translate(504 184.5) scale(1 1.1)" font-size="6.4" text-anchor="start" fill="#1a1a1a" stroke="#1a1a1a" stroke-width="0.16">1190</text>
<line x1="367" y1="65.6" x2="371.9" y2="69.13" stroke="#111" stroke-width="0.6"/>
<path d="M374.5 71 L371.03 70.35 L372.78 67.91 Z" fill="#111"/>
<line x1="356" y1="153.8" x2="360.5" y2="158.98" stroke="#111" stroke-width="0.6"/>
<path d="M362.6 161.4 L359.37 159.97 L361.63 158 Z" fill="#111"/>
<line x1="476.5" y1="96.5" x2="487.74" y2="102.16" stroke="#111" stroke-width="0.6"/>
<path d="M490.6 103.6 L487.07 103.5 L488.42 100.82 Z" fill="#111"/>
<line x1="481.9" y1="138" x2="488.22" y2="139.82" stroke="#111" stroke-width="0.6"/>
<path d="M491.3 140.7 L487.81 141.26 L488.64 138.37 Z" fill="#111"/>
<line x1="452.5" y1="172.5" x2="460.22" y2="176.21" stroke="#111" stroke-width="0.6"/>
<path d="M463.1 177.6 L459.57 177.56 L460.87 174.86 Z" fill="#111"/>
<line x1="487.5" y1="178.1" x2="500.08" y2="180.9" stroke="#111" stroke-width="0.6"/>
<path d="M503.2 181.6 L499.75 182.37 L500.4 179.44 Z" fill="#111"/>
<text transform="translate(292.2 93.8) rotate(-90) scale(1 1.05)" font-size="7.5" text-anchor="middle" fill="#1a1a1a" stroke="#1a1a1a" stroke-width="0.16">Transmittance/%</text>
<text transform="translate(384.9 210)" font-size="7.15" text-anchor="start" fill="#1a1a1a" stroke="#1a1a1a" stroke-width="0.16">Wave number/cm<tspan font-size="5" dy="-3.2">-1</tspan></text>
<g font-family="'Liberation Serif', serif" fill="#000"><text transform="translate(401.3 0) scale(1 1.2)" y="192.83" font-size="14.5">(</text><text transform="translate(417.1 0) scale(1 1.2)" y="192.83" font-size="14.5">)</text><text x="406.75" y="230.3" font-size="15" font-weight="bold">b</text></g>
</svg></body></html>
